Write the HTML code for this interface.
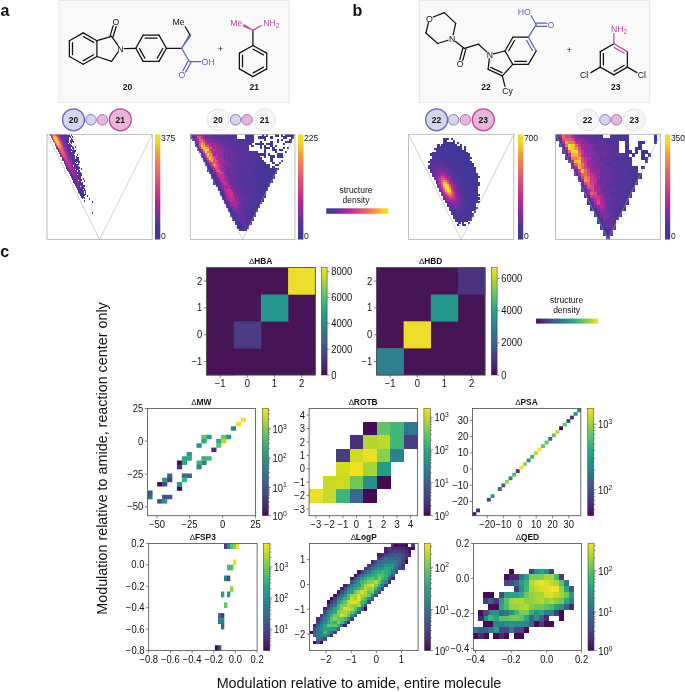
<!DOCTYPE html><html><head><meta charset="utf-8"><title>Figure</title>
<style>html,body{margin:0;padding:0;background:#fff}svg{display:block}text{font-family:'Liberation Sans', sans-serif}</style></head><body>
<svg width="685" height="692" viewBox="0 0 685 692">
<defs><linearGradient id="gpv" x1="0" y1="1" x2="0" y2="0"><stop offset="0.0" stop-color="#38389a"/><stop offset="0.07" stop-color="#473597"/><stop offset="0.14" stop-color="#5a329c"/><stop offset="0.23" stop-color="#7a2f9f"/><stop offset="0.33" stop-color="#a8289c"/><stop offset="0.4" stop-color="#c02c92"/><stop offset="0.5" stop-color="#d4457f"/><stop offset="0.587" stop-color="#de5a75"/><stop offset="0.67" stop-color="#e96f5c"/><stop offset="0.75" stop-color="#f28a48"/><stop offset="0.834" stop-color="#f8a835"/><stop offset="0.916" stop-color="#f5d327"/><stop offset="1.0" stop-color="#e9e62a"/></linearGradient><linearGradient id="gph" x1="0" y1="0" x2="1" y2="0"><stop offset="0.0" stop-color="#38389a"/><stop offset="0.07" stop-color="#473597"/><stop offset="0.14" stop-color="#5a329c"/><stop offset="0.23" stop-color="#7a2f9f"/><stop offset="0.33" stop-color="#a8289c"/><stop offset="0.4" stop-color="#c02c92"/><stop offset="0.5" stop-color="#d4457f"/><stop offset="0.587" stop-color="#de5a75"/><stop offset="0.67" stop-color="#e96f5c"/><stop offset="0.75" stop-color="#f28a48"/><stop offset="0.834" stop-color="#f8a835"/><stop offset="0.916" stop-color="#f5d327"/><stop offset="1.0" stop-color="#e9e62a"/></linearGradient><linearGradient id="gvv" x1="0" y1="1" x2="0" y2="0"><stop offset="0.0" stop-color="#480957"/><stop offset="0.1" stop-color="#4b2a76"/><stop offset="0.2" stop-color="#454887"/><stop offset="0.3" stop-color="#3a618c"/><stop offset="0.4" stop-color="#2f788d"/><stop offset="0.5" stop-color="#27908b"/><stop offset="0.6" stop-color="#28a684"/><stop offset="0.7" stop-color="#48bb71"/><stop offset="0.8" stop-color="#7acc54"/><stop offset="0.9" stop-color="#b9d92b"/><stop offset="1.0" stop-color="#f6e12a"/></linearGradient><linearGradient id="gvh" x1="0" y1="0" x2="1" y2="0"><stop offset="0.0" stop-color="#480957"/><stop offset="0.1" stop-color="#4b2a76"/><stop offset="0.2" stop-color="#454887"/><stop offset="0.3" stop-color="#3a618c"/><stop offset="0.4" stop-color="#2f788d"/><stop offset="0.5" stop-color="#27908b"/><stop offset="0.6" stop-color="#28a684"/><stop offset="0.7" stop-color="#48bb71"/><stop offset="0.8" stop-color="#7acc54"/><stop offset="0.9" stop-color="#b9d92b"/><stop offset="1.0" stop-color="#f6e12a"/></linearGradient></defs>
<rect width="685" height="692" fill="#fff"/>
<text x="0.50" y="16.00" font-size="16" text-anchor="start" font-weight="bold" fill="#111" >a</text>
<text x="352.50" y="16.00" font-size="16" text-anchor="start" font-weight="bold" fill="#111" >b</text>
<text x="0.20" y="256.50" font-size="16" text-anchor="start" font-weight="bold" fill="#111" >c</text>
<rect x="59.1" y="0.4" width="230.2" height="101.9" fill="#f9f9f9" stroke="#e8e8e8" stroke-width="1.1"/>
<rect x="419.3" y="0.4" width="230.5" height="101.9" fill="#f9f9f9" stroke="#e8e8e8" stroke-width="1.1"/>
<line x1="83.20" y1="32.90" x2="96.90" y2="40.70" stroke="#111111" stroke-width="1.25" stroke-linecap="round"/>
<line x1="83.40" y1="36.58" x2="93.63" y2="42.40" stroke="#111111" stroke-width="1.25" stroke-linecap="round"/>
<line x1="96.90" y1="40.70" x2="96.90" y2="56.50" stroke="#111111" stroke-width="1.25" stroke-linecap="round"/>
<line x1="96.90" y1="56.50" x2="83.20" y2="64.30" stroke="#111111" stroke-width="1.25" stroke-linecap="round"/>
<line x1="93.63" y1="54.80" x2="83.40" y2="60.62" stroke="#111111" stroke-width="1.25" stroke-linecap="round"/>
<line x1="83.20" y1="64.30" x2="69.40" y2="56.50" stroke="#111111" stroke-width="1.25" stroke-linecap="round"/>
<line x1="69.40" y1="56.50" x2="69.40" y2="40.70" stroke="#111111" stroke-width="1.25" stroke-linecap="round"/>
<line x1="72.50" y1="54.50" x2="72.50" y2="42.70" stroke="#111111" stroke-width="1.25" stroke-linecap="round"/>
<line x1="69.40" y1="40.70" x2="83.20" y2="32.90" stroke="#111111" stroke-width="1.25" stroke-linecap="round"/>
<line x1="96.90" y1="40.70" x2="111.60" y2="36.30" stroke="#111111" stroke-width="1.25" stroke-linecap="round"/>
<line x1="111.60" y1="36.30" x2="117.97" y2="45.27" stroke="#111111" stroke-width="1.25" stroke-linecap="round"/>
<line x1="118.01" y1="52.15" x2="111.60" y2="61.40" stroke="#111111" stroke-width="1.25" stroke-linecap="round"/>
<line x1="111.60" y1="61.40" x2="96.90" y2="56.50" stroke="#111111" stroke-width="1.25" stroke-linecap="round"/>
<line x1="110.12" y1="35.85" x2="113.19" y2="25.66" stroke="#111111" stroke-width="1.25" stroke-linecap="round"/>
<line x1="113.08" y1="36.75" x2="116.16" y2="26.55" stroke="#111111" stroke-width="1.25" stroke-linecap="round"/>
<text x="116.00" y="24.70" font-size="8.7" text-anchor="middle" fill="#111111">O</text>
<text x="120.40" y="51.70" font-size="8.7" text-anchor="middle" fill="#111111">N</text>
<line x1="124.30" y1="48.60" x2="135.80" y2="48.30" stroke="#111111" stroke-width="1.25" stroke-linecap="round"/>
<line x1="135.80" y1="48.30" x2="143.10" y2="35.10" stroke="#111111" stroke-width="1.25" stroke-linecap="round"/>
<line x1="143.10" y1="35.10" x2="159.00" y2="35.10" stroke="#111111" stroke-width="1.25" stroke-linecap="round"/>
<line x1="145.10" y1="38.20" x2="157.00" y2="38.20" stroke="#111111" stroke-width="1.25" stroke-linecap="round"/>
<line x1="159.00" y1="35.10" x2="166.40" y2="48.30" stroke="#111111" stroke-width="1.25" stroke-linecap="round"/>
<line x1="166.40" y1="48.30" x2="159.00" y2="61.40" stroke="#111111" stroke-width="1.25" stroke-linecap="round"/>
<line x1="162.72" y1="48.52" x2="157.28" y2="58.13" stroke="#111111" stroke-width="1.25" stroke-linecap="round"/>
<line x1="159.00" y1="61.40" x2="143.10" y2="61.40" stroke="#111111" stroke-width="1.25" stroke-linecap="round"/>
<line x1="143.10" y1="61.40" x2="135.80" y2="48.30" stroke="#111111" stroke-width="1.25" stroke-linecap="round"/>
<line x1="144.83" y1="58.14" x2="139.48" y2="48.54" stroke="#111111" stroke-width="1.25" stroke-linecap="round"/>
<line x1="166.40" y1="48.30" x2="181.60" y2="48.30" stroke="#111111" stroke-width="1.25" stroke-linecap="round"/>
<polygon points="181.26,48.08 181.94,48.52 191.11,35.75 189.09,34.45" fill="#5d61b7" stroke="#5d61b7" stroke-width="0.3" stroke-linejoin="round"/>
<line x1="190.10" y1="35.10" x2="185.20" y2="26.70" stroke="#111111" stroke-width="1.25" stroke-linecap="round"/>
<text x="178.60" y="25.20" font-size="8.7" text-anchor="middle" fill="#111111">Me</text>
<line x1="181.60" y1="48.30" x2="189.60" y2="61.70" stroke="#5d61b7" stroke-width="1.25" stroke-linecap="round"/>
<line x1="190.96" y1="62.45" x2="185.59" y2="72.13" stroke="#5d61b7" stroke-width="1.25" stroke-linecap="round"/>
<line x1="188.24" y1="60.95" x2="182.88" y2="70.63" stroke="#5d61b7" stroke-width="1.25" stroke-linecap="round"/>
<line x1="189.60" y1="61.70" x2="200.70" y2="61.70" stroke="#5d61b7" stroke-width="1.25" stroke-linecap="round"/>
<text x="182.00" y="78.40" font-size="8.7" text-anchor="middle" fill="#5d61b7">O</text>
<text x="201.60" y="64.80" font-size="8.7" text-anchor="start" fill="#5d61b7">OH</text>
<text x="127.40" y="89.50" font-size="8.5" text-anchor="middle" font-weight="bold" fill="#111" >20</text>
<text x="220.40" y="52.30" font-size="8.5" text-anchor="middle" font-weight="normal" fill="#111" >+</text>
<line x1="252.90" y1="45.50" x2="266.70" y2="53.10" stroke="#111111" stroke-width="1.25" stroke-linecap="round"/>
<line x1="253.16" y1="49.18" x2="263.45" y2="54.85" stroke="#111111" stroke-width="1.25" stroke-linecap="round"/>
<line x1="266.70" y1="53.10" x2="266.70" y2="68.90" stroke="#111111" stroke-width="1.25" stroke-linecap="round"/>
<line x1="266.70" y1="68.90" x2="252.90" y2="76.60" stroke="#111111" stroke-width="1.25" stroke-linecap="round"/>
<line x1="263.44" y1="67.17" x2="253.14" y2="72.92" stroke="#111111" stroke-width="1.25" stroke-linecap="round"/>
<line x1="252.90" y1="76.60" x2="239.40" y2="68.90" stroke="#111111" stroke-width="1.25" stroke-linecap="round"/>
<line x1="239.40" y1="68.90" x2="239.40" y2="53.10" stroke="#111111" stroke-width="1.25" stroke-linecap="round"/>
<line x1="242.50" y1="66.90" x2="242.50" y2="55.10" stroke="#111111" stroke-width="1.25" stroke-linecap="round"/>
<line x1="239.40" y1="53.10" x2="252.90" y2="45.50" stroke="#111111" stroke-width="1.25" stroke-linecap="round"/>
<line x1="252.90" y1="45.50" x2="252.90" y2="30.40" stroke="#111111" stroke-width="1.25" stroke-linecap="round"/>
<line x1="252.90" y1="30.40" x2="261.20" y2="25.50" stroke="#b84aa2" stroke-width="1.25" stroke-linecap="round"/>
<polygon points="252.71,30.75 253.09,30.05 244.08,24.15 242.92,26.25" fill="#b84aa2" stroke="#b84aa2" stroke-width="0.3" stroke-linejoin="round"/>
<text x="263.30" y="26.00" font-size="8.7" text-anchor="start" fill="#b84aa2">NH<tspan dy="1.9" font-size="6.61">2</tspan></text>
<text x="242.30" y="26.00" font-size="8.7" text-anchor="end" fill="#b84aa2">Me</text>
<text x="254.30" y="89.90" font-size="8.5" text-anchor="middle" font-weight="bold" fill="#111" >21</text>
<line x1="433.22" y1="17.02" x2="444.30" y2="12.60" stroke="#111111" stroke-width="1.25" stroke-linecap="round"/>
<line x1="444.30" y1="12.60" x2="455.70" y2="23.40" stroke="#111111" stroke-width="1.25" stroke-linecap="round"/>
<line x1="455.70" y1="23.40" x2="453.13" y2="34.80" stroke="#111111" stroke-width="1.25" stroke-linecap="round"/>
<line x1="448.01" y1="40.23" x2="437.70" y2="43.50" stroke="#111111" stroke-width="1.25" stroke-linecap="round"/>
<line x1="437.70" y1="43.50" x2="425.90" y2="33.00" stroke="#111111" stroke-width="1.25" stroke-linecap="round"/>
<line x1="425.90" y1="33.00" x2="428.46" y2="22.67" stroke="#111111" stroke-width="1.25" stroke-linecap="round"/>
<text x="429.50" y="21.50" font-size="8.7" text-anchor="middle" fill="#111111">O</text>
<text x="452.20" y="41.90" font-size="8.7" text-anchor="middle" fill="#111111">N</text>
<line x1="455.51" y1="41.48" x2="464.40" y2="48.40" stroke="#111111" stroke-width="1.25" stroke-linecap="round"/>
<line x1="465.90" y1="48.80" x2="462.79" y2="60.36" stroke="#111111" stroke-width="1.25" stroke-linecap="round"/>
<line x1="462.90" y1="48.00" x2="459.80" y2="59.56" stroke="#111111" stroke-width="1.25" stroke-linecap="round"/>
<line x1="464.40" y1="48.40" x2="478.50" y2="44.20" stroke="#111111" stroke-width="1.25" stroke-linecap="round"/>
<line x1="478.50" y1="44.20" x2="486.72" y2="51.84" stroke="#111111" stroke-width="1.25" stroke-linecap="round"/>
<text x="460.10" y="67.40" font-size="8.7" text-anchor="middle" fill="#111111">O</text>
<text x="489.80" y="57.70" font-size="8.7" text-anchor="middle" fill="#111111">N</text>
<line x1="493.49" y1="53.80" x2="505.00" y2="51.00" stroke="#111111" stroke-width="1.25" stroke-linecap="round"/>
<line x1="505.00" y1="51.00" x2="512.80" y2="37.20" stroke="#111111" stroke-width="1.25" stroke-linecap="round"/>
<line x1="508.68" y1="50.78" x2="514.51" y2="40.47" stroke="#111111" stroke-width="1.25" stroke-linecap="round"/>
<line x1="512.80" y1="37.20" x2="528.40" y2="37.20" stroke="#111111" stroke-width="1.25" stroke-linecap="round"/>
<line x1="528.40" y1="37.20" x2="536.20" y2="51.00" stroke="#5d61b7" stroke-width="1.25" stroke-linecap="round"/>
<line x1="526.69" y1="40.47" x2="532.52" y2="50.78" stroke="#5d61b7" stroke-width="1.25" stroke-linecap="round"/>
<line x1="536.20" y1="51.00" x2="528.40" y2="64.40" stroke="#111111" stroke-width="1.25" stroke-linecap="round"/>
<line x1="528.40" y1="64.40" x2="512.80" y2="64.40" stroke="#111111" stroke-width="1.25" stroke-linecap="round"/>
<line x1="526.40" y1="61.30" x2="514.80" y2="61.30" stroke="#111111" stroke-width="1.25" stroke-linecap="round"/>
<line x1="512.80" y1="64.40" x2="505.00" y2="51.00" stroke="#111111" stroke-width="1.25" stroke-linecap="round"/>
<line x1="512.80" y1="64.40" x2="502.30" y2="75.90" stroke="#111111" stroke-width="1.25" stroke-linecap="round"/>
<line x1="502.30" y1="75.90" x2="488.10" y2="69.40" stroke="#111111" stroke-width="1.25" stroke-linecap="round"/>
<line x1="502.05" y1="72.60" x2="490.76" y2="67.43" stroke="#111111" stroke-width="1.25" stroke-linecap="round"/>
<line x1="488.10" y1="69.40" x2="489.34" y2="58.67" stroke="#111111" stroke-width="1.25" stroke-linecap="round"/>
<line x1="502.30" y1="75.90" x2="505.00" y2="86.30" stroke="#111111" stroke-width="1.25" stroke-linecap="round"/>
<text x="507.60" y="94.30" font-size="8.7" text-anchor="middle" fill="#111111">Cy</text>
<line x1="528.40" y1="37.20" x2="536.20" y2="24.70" stroke="#5d61b7" stroke-width="1.25" stroke-linecap="round"/>
<line x1="536.20" y1="23.10" x2="546.80" y2="23.10" stroke="#5d61b7" stroke-width="1.25" stroke-linecap="round"/>
<line x1="536.20" y1="26.30" x2="546.80" y2="26.30" stroke="#5d61b7" stroke-width="1.25" stroke-linecap="round"/>
<line x1="536.20" y1="24.70" x2="531.20" y2="15.70" stroke="#5d61b7" stroke-width="1.25" stroke-linecap="round"/>
<text x="551.00" y="27.70" font-size="8.7" text-anchor="middle" fill="#5d61b7">O</text>
<text x="530.80" y="14.60" font-size="8.7" text-anchor="end" fill="#5d61b7">HO</text>
<text x="486.10" y="90.10" font-size="8.5" text-anchor="middle" font-weight="bold" fill="#111" >22</text>
<text x="569.20" y="53.20" font-size="8.5" text-anchor="middle" font-weight="normal" fill="#111" >+</text>
<line x1="627.40" y1="51.60" x2="627.40" y2="67.10" stroke="#111111" stroke-width="1.25" stroke-linecap="round"/>
<line x1="627.40" y1="67.10" x2="613.90" y2="74.90" stroke="#111111" stroke-width="1.25" stroke-linecap="round"/>
<line x1="624.12" y1="65.42" x2="614.08" y2="71.22" stroke="#111111" stroke-width="1.25" stroke-linecap="round"/>
<line x1="613.90" y1="74.90" x2="600.30" y2="67.10" stroke="#111111" stroke-width="1.25" stroke-linecap="round"/>
<line x1="600.30" y1="67.10" x2="600.30" y2="51.60" stroke="#111111" stroke-width="1.25" stroke-linecap="round"/>
<line x1="603.40" y1="65.10" x2="603.40" y2="53.60" stroke="#111111" stroke-width="1.25" stroke-linecap="round"/>
<line x1="600.30" y1="51.60" x2="613.90" y2="43.80" stroke="#111111" stroke-width="1.25" stroke-linecap="round"/>
<line x1="613.90" y1="43.80" x2="627.40" y2="51.60" stroke="#b84aa2" stroke-width="1.25" stroke-linecap="round"/>
<line x1="614.08" y1="47.48" x2="624.12" y2="53.28" stroke="#b84aa2" stroke-width="1.25" stroke-linecap="round"/>
<line x1="613.90" y1="43.80" x2="613.90" y2="33.60" stroke="#b84aa2" stroke-width="1.25" stroke-linecap="round"/>
<text x="611.00" y="31.90" font-size="8.7" text-anchor="start" fill="#b84aa2">NH<tspan dy="1.9" font-size="6.61">2</tspan></text>
<line x1="600.30" y1="67.10" x2="590.90" y2="72.60" stroke="#111111" stroke-width="1.25" stroke-linecap="round"/>
<line x1="627.40" y1="67.10" x2="636.90" y2="72.60" stroke="#111111" stroke-width="1.25" stroke-linecap="round"/>
<text x="588.30" y="77.90" font-size="8.7" text-anchor="end" fill="#111111">Cl</text>
<text x="637.80" y="77.90" font-size="8.7" text-anchor="start" fill="#111111">Cl</text>
<text x="615.80" y="90.10" font-size="8.5" text-anchor="middle" font-weight="bold" fill="#111" >23</text>
<circle cx="73.5" cy="119.8" r="11" fill="#d6d5eb" stroke="#686bbf" stroke-width="1.3"/>
<circle cx="120.3" cy="119.8" r="11" fill="#e6b7d8" stroke="#c04aa4" stroke-width="1.3"/>
<circle cx="91" cy="119.8" r="5.3" fill="#d6d5eb" stroke="#7275c3" stroke-width="0.9"/>
<circle cx="102.4" cy="119.8" r="5.3" fill="#e6b7d8" stroke="#c659ab" stroke-width="0.9"/>
<text x="73.50" y="122.90" font-size="8.5" text-anchor="middle" font-weight="bold" fill="#111" >20</text>
<text x="120.30" y="122.90" font-size="8.5" text-anchor="middle" font-weight="bold" fill="#111" >21</text>
<circle cx="218" cy="119.8" r="11" fill="#f6f6f6" stroke="#e6e6e6" stroke-width="1"/>
<circle cx="264.6" cy="119.8" r="11" fill="#f6f6f6" stroke="#e6e6e6" stroke-width="1"/>
<circle cx="235.6" cy="119.8" r="5.3" fill="#d6d5eb" stroke="#7275c3" stroke-width="0.9"/>
<circle cx="247" cy="119.8" r="5.3" fill="#e6b7d8" stroke="#c659ab" stroke-width="0.9"/>
<text x="218.00" y="122.90" font-size="8.5" text-anchor="middle" font-weight="bold" fill="#111" >20</text>
<text x="264.60" y="122.90" font-size="8.5" text-anchor="middle" font-weight="bold" fill="#111" >21</text>
<circle cx="436.6" cy="119.8" r="11" fill="#d6d5eb" stroke="#686bbf" stroke-width="1.3"/>
<circle cx="483.3" cy="119.8" r="11" fill="#e6b7d8" stroke="#c04aa4" stroke-width="1.3"/>
<circle cx="453.5" cy="119.8" r="5.3" fill="#d6d5eb" stroke="#7275c3" stroke-width="0.9"/>
<circle cx="465.4" cy="119.8" r="5.3" fill="#e6b7d8" stroke="#c659ab" stroke-width="0.9"/>
<text x="436.60" y="122.90" font-size="8.5" text-anchor="middle" font-weight="bold" fill="#111" >22</text>
<text x="483.30" y="122.90" font-size="8.5" text-anchor="middle" font-weight="bold" fill="#111" >23</text>
<circle cx="587.6" cy="119.8" r="11" fill="#f6f6f6" stroke="#e6e6e6" stroke-width="1"/>
<circle cx="634.3" cy="119.8" r="11" fill="#f6f6f6" stroke="#e6e6e6" stroke-width="1"/>
<circle cx="605" cy="119.8" r="5.3" fill="#d6d5eb" stroke="#7275c3" stroke-width="0.9"/>
<circle cx="616.4" cy="119.8" r="5.3" fill="#e6b7d8" stroke="#c659ab" stroke-width="0.9"/>
<text x="587.60" y="122.90" font-size="8.5" text-anchor="middle" font-weight="bold" fill="#111" >22</text>
<text x="634.30" y="122.90" font-size="8.5" text-anchor="middle" font-weight="bold" fill="#111" >23</text>
<g shape-rendering="crispEdges"><path fill="#8b2c9e" d="M50.1 134.3h1.2v1.2h-1.2zM60.1 136.3h1.2v1.2h-1.2zM61.1 138.3h1.2v1.2h-1.2zM62.1 140.3h1.2v1.2h-1.2zM63.1 142.3h1.2v1.2h-1.2zM64.1 144.3h1.2v1.2h-1.2zM56.1 146.3h1.2v1.2h-1.2zM65.1 148.3h1.2v1.2h-1.2zM66.1 150.3h1.2v1.2h-1.2zM67.1 152.3h1.2v1.2h-1.2zM63.1 158.3h1.2v1.2h-1.2zM69.1 158.3h1.2v1.2h-1.2zM64.1 160.3h1.2v1.2h-1.2zM70.1 160.3h1.2v1.2h-1.2zM71.1 162.3h1.2v1.2h-1.2zM69.1 168.3h1.2v1.2h-1.2zM73.1 168.3h1.2v1.2h-1.2zM70.1 170.3h1.2v1.2h-1.2zM74.1 170.3h1.2v1.2h-1.2zM74.1 172.3h1.2v1.2h-1.2zM73.1 174.3h1.2v1.2h-1.2zM75.1 174.3h1.2v1.2h-1.2zM74.1 176.3h2.2v1.2h-2.2z"/><path fill="#cd3d85" d="M51.1 134.3h1.2v1.2h-1.2zM61.1 142.3h1.2v1.2h-1.2zM63.1 148.3h1.2v1.2h-1.2zM63.1 156.3h1.2v1.2h-1.2zM66.1 156.3h1.2v1.2h-1.2zM66.1 158.3h1.2v1.2h-1.2zM66.1 160.3h1.2v1.2h-1.2z"/><path fill="#e46667" d="M52.1 134.3h1.2v1.2h-1.2zM58.1 138.3h1.2v1.2h-1.2zM54.1 140.3h1.2v1.2h-1.2zM59.1 140.3h1.2v1.2h-1.2zM61.1 146.3h1.2v1.2h-1.2zM62.1 150.3h1.2v1.2h-1.2zM62.1 152.3h1.2v1.2h-1.2z"/><path fill="#e96e5d" d="M53.1 134.3h1.2v1.2h-1.2zM53.1 138.3h1.2v1.2h-1.2zM61.1 148.3h1.2v1.2h-1.2zM61.1 150.3h1.2v1.2h-1.2z"/><path fill="#e05d71" d="M54.1 134.3h1.2v1.2h-1.2zM52.1 136.3h1.2v1.2h-1.2zM55.1 142.3h1.2v1.2h-1.2zM60.1 142.3h1.2v1.2h-1.2zM59.1 148.3h1.2v1.2h-1.2zM63.1 152.3h1.2v1.2h-1.2z"/><path fill="#d84d7b" d="M55.1 134.3h1.2v1.2h-1.2zM56.1 144.3h1.2v1.2h-1.2zM62.1 146.3h1.2v1.2h-1.2zM63.1 150.3h1.2v1.2h-1.2zM61.1 152.3h1.2v1.2h-1.2zM64.1 152.3h1.2v1.2h-1.2zM64.1 156.3h2.2v1.2h-2.2z"/><path fill="#c7348c" d="M56.1 134.3h1.2v1.2h-1.2zM58.1 136.3h1.2v1.2h-1.2zM62.1 144.3h1.2v1.2h-1.2zM58.1 148.3h1.2v1.2h-1.2zM64.1 150.3h1.2v1.2h-1.2zM65.1 152.3h1.2v1.2h-1.2zM67.1 158.3h1.2v1.2h-1.2zM67.1 160.3h1.2v1.2h-1.2zM67.1 162.3h2.2v1.2h-2.2z"/><path fill="#a9289c" d="M57.1 134.3h1.2v1.2h-1.2zM59.1 136.3h1.2v1.2h-1.2zM63.1 144.3h1.2v1.2h-1.2zM66.1 152.3h1.2v1.2h-1.2zM61.1 154.3h1.2v1.2h-1.2zM69.1 160.3h1.2v1.2h-1.2zM67.1 164.3h1.2v1.2h-1.2zM71.1 166.3h1.2v1.2h-1.2zM72.1 168.3h1.2v1.2h-1.2zM71.1 170.3h2.2v1.2h-2.2z"/><path fill="#7c2f9f" d="M58.1 134.3h1.2v1.2h-1.2zM62.1 138.3h1.2v1.2h-1.2zM63.1 140.3h1.2v1.2h-1.2zM65.1 146.3h1.2v1.2h-1.2zM57.1 148.3h1.2v1.2h-1.2zM58.1 150.3h1.2v1.2h-1.2zM68.1 154.3h1.2v1.2h-1.2zM69.1 156.3h1.2v1.2h-1.2zM65.1 162.3h1.2v1.2h-1.2zM66.1 164.3h1.2v1.2h-1.2zM72.1 164.3h1.2v1.2h-1.2zM71.1 172.3h1.2v1.2h-1.2zM75.1 172.3h1.2v1.2h-1.2zM76.1 174.3h1.2v1.2h-1.2zM76.1 176.3h1.2v1.2h-1.2zM75.1 178.3h3.2v1.2h-3.2zM76.1 180.3h2.2v1.2h-2.2z"/><path fill="#6f309e" d="M59.1 134.3h1.2v1.2h-1.2zM61.1 136.3h1.2v1.2h-1.2zM63.1 138.3h1.2v1.2h-1.2zM64.1 140.3h1.2v1.2h-1.2zM64.1 142.3h1.2v1.2h-1.2zM65.1 144.3h1.2v1.2h-1.2zM66.1 146.3h1.2v1.2h-1.2zM66.1 148.3h1.2v1.2h-1.2zM67.1 150.3h1.2v1.2h-1.2zM59.1 152.3h1.2v1.2h-1.2zM68.1 152.3h1.2v1.2h-1.2zM60.1 154.3h1.2v1.2h-1.2zM69.1 154.3h1.2v1.2h-1.2zM70.1 158.3h1.2v1.2h-1.2zM71.1 160.3h1.2v1.2h-1.2zM72.1 162.3h1.2v1.2h-1.2zM67.1 166.3h1.2v1.2h-1.2zM68.1 168.3h1.2v1.2h-1.2zM74.1 168.3h1.2v1.2h-1.2zM75.1 170.3h1.2v1.2h-1.2zM76.1 172.3h1.2v1.2h-1.2zM72.1 174.3h1.2v1.2h-1.2zM73.1 176.3h1.2v1.2h-1.2zM78.1 178.3h1.2v1.2h-1.2zM77.1 182.3h3.2v1.2h-3.2zM78.1 184.3h3.2v1.2h-3.2z"/><path fill="#63319d" d="M60.1 134.3h1.2v1.2h-1.2zM62.1 136.3h1.2v1.2h-1.2zM64.1 138.3h1.2v1.2h-1.2zM65.1 140.3h1.2v1.2h-1.2zM65.1 142.3h2.2v1.2h-2.2zM66.1 144.3h1.2v1.2h-1.2zM67.1 146.3h1.2v1.2h-1.2zM67.1 148.3h1.2v1.2h-1.2zM68.1 150.3h1.2v1.2h-1.2zM69.1 152.3h1.2v1.2h-1.2zM70.1 156.3h1.2v1.2h-1.2zM71.1 158.3h1.2v1.2h-1.2zM72.1 160.3h1.2v1.2h-1.2zM69.1 170.3h1.2v1.2h-1.2zM76.1 170.3h1.2v1.2h-1.2zM70.1 172.3h1.2v1.2h-1.2zM78.1 176.3h1.2v1.2h-1.2zM74.1 178.3h1.2v1.2h-1.2zM79.1 178.3h1.2v1.2h-1.2zM75.1 180.3h1.2v1.2h-1.2zM79.1 180.3h1.2v1.2h-1.2zM76.1 182.3h1.2v1.2h-1.2zM80.1 182.3h1.2v1.2h-1.2zM81.1 184.3h1.2v1.2h-1.2zM79.1 186.3h1.2v1.2h-1.2zM81.1 186.3h1.2v1.2h-1.2zM80.1 188.4h3.2v1.2h-3.2z"/><path fill="#58329c" d="M61.1 134.3h1.2v1.2h-1.2zM63.1 136.3h2.2v1.2h-2.2zM65.1 138.3h3.2v1.2h-3.2zM66.1 140.3h3.2v1.2h-3.2zM67.1 142.3h1.2v1.2h-1.2zM67.1 144.3h2.2v1.2h-2.2zM68.1 146.3h2.2v1.2h-2.2zM68.1 148.3h2.2v1.2h-2.2zM70.1 152.3h1.2v1.2h-1.2zM70.1 154.3h2.2v1.2h-2.2zM71.1 156.3h1.2v1.2h-1.2zM64.1 162.3h1.2v1.2h-1.2zM73.1 162.3h1.2v1.2h-1.2zM65.1 164.3h1.2v1.2h-1.2zM74.1 164.3h1.2v1.2h-1.2zM75.1 166.3h1.2v1.2h-1.2zM76.1 168.3h1.2v1.2h-1.2zM77.1 172.3h1.2v1.2h-1.2zM71.1 174.3h1.2v1.2h-1.2zM72.1 176.3h1.2v1.2h-1.2zM79.1 176.3h1.2v1.2h-1.2zM73.1 178.3h1.2v1.2h-1.2zM80.1 178.3h1.2v1.2h-1.2zM80.1 180.3h1.2v1.2h-1.2zM81.1 182.3h1.2v1.2h-1.2zM77.1 184.3h1.2v1.2h-1.2zM82.1 184.3h1.2v1.2h-1.2zM78.1 186.3h1.2v1.2h-1.2zM79.1 188.4h1.2v1.2h-1.2zM81.1 190.4h1.2v1.2h-1.2zM83.1 190.4h1.2v1.2h-1.2zM82.1 192.4h2.2v1.2h-2.2zM84.1 194.4h1.2v1.2h-1.2z"/><path fill="#4f3499" d="M63.1 134.3h3.2v1.2h-3.2zM66.1 136.3h3.2v1.2h-3.2zM68.1 138.3h1.2v1.2h-1.2zM71.1 138.3h1.2v1.2h-1.2zM70.1 140.3h3.2v1.2h-3.2zM71.1 142.3h1.2v1.2h-1.2zM70.1 144.3h1.2v1.2h-1.2zM70.1 146.3h1.2v1.2h-1.2zM72.1 146.3h1.2v1.2h-1.2zM73.1 148.3h1.2v1.2h-1.2zM70.1 150.3h1.2v1.2h-1.2zM72.1 150.3h2.2v1.2h-2.2zM71.1 152.3h4.2v1.2h-4.2zM72.1 154.3h1.2v1.2h-1.2zM72.1 156.3h1.2v1.2h-1.2zM74.1 156.3h1.2v1.2h-1.2zM73.1 158.3h1.2v1.2h-1.2zM74.1 160.3h2.2v1.2h-2.2zM76.1 164.3h1.2v1.2h-1.2zM66.1 166.3h1.2v1.2h-1.2zM76.1 166.3h2.2v1.2h-2.2zM67.1 168.3h1.2v1.2h-1.2zM77.1 168.3h1.2v1.2h-1.2zM68.1 170.3h1.2v1.2h-1.2zM78.1 170.3h1.2v1.2h-1.2zM69.1 172.3h1.2v1.2h-1.2zM78.1 172.3h2.2v1.2h-2.2zM79.1 174.3h2.2v1.2h-2.2zM74.1 180.3h1.2v1.2h-1.2zM75.1 182.3h1.2v1.2h-1.2zM82.1 182.3h1.2v1.2h-1.2zM76.1 184.3h1.2v1.2h-1.2zM84.1 188.4h1.2v1.2h-1.2zM80.1 190.4h1.2v1.2h-1.2zM85.1 190.4h1.2v1.2h-1.2zM81.1 192.4h1.2v1.2h-1.2zM85.1 192.4h1.2v1.2h-1.2zM83.1 194.4h1.2v1.2h-1.2z"/><path fill="#463597" d="M66.1 134.3h1.2v1.2h-1.2zM69.1 134.3h1.2v1.2h-1.2zM71.1 134.3h1.2v1.2h-1.2zM70.1 136.3h1.2v1.2h-1.2zM72.1 136.3h1.2v1.2h-1.2zM75.1 146.3h1.2v1.2h-1.2zM74.1 150.3h2.2v1.2h-2.2zM77.1 154.3h1.2v1.2h-1.2zM76.1 156.3h1.2v1.2h-1.2zM76.1 158.3h2.2v1.2h-2.2zM76.1 160.3h2.2v1.2h-2.2zM77.1 164.3h1.2v1.2h-1.2zM78.1 166.3h1.2v1.2h-1.2zM81.1 168.3h1.2v1.2h-1.2zM79.1 170.3h1.2v1.2h-1.2zM80.1 172.3h1.2v1.2h-1.2zM70.1 174.3h1.2v1.2h-1.2zM81.1 174.3h1.2v1.2h-1.2zM71.1 176.3h1.2v1.2h-1.2zM72.1 178.3h1.2v1.2h-1.2zM83.1 178.3h1.2v1.2h-1.2zM73.1 180.3h1.2v1.2h-1.2zM84.1 180.3h1.2v1.2h-1.2zM74.1 182.3h1.2v1.2h-1.2zM75.1 184.3h1.2v1.2h-1.2zM77.1 186.3h1.2v1.2h-1.2zM78.1 188.4h1.2v1.2h-1.2zM79.1 190.4h1.2v1.2h-1.2zM80.1 192.4h1.2v1.2h-1.2zM81.1 194.4h2.2v1.2h-2.2zM83.1 196.4h1.2v1.2h-1.2z"/><path fill="#c7348c" d="M51.1 135.3h1.2v1.2h-1.2zM57.1 135.3h1.2v1.2h-1.2zM60.1 139.3h1.2v1.2h-1.2zM61.1 141.3h1.2v1.2h-1.2zM55.1 143.3h1.2v1.2h-1.2zM63.1 147.3h1.2v1.2h-1.2zM61.1 153.3h1.2v1.2h-1.2zM66.1 155.3h1.2v1.2h-1.2zM65.1 159.3h1.2v1.2h-1.2zM67.1 159.3h1.2v1.2h-1.2zM68.1 163.3h1.2v1.2h-1.2z"/><path fill="#e46667" d="M52.1 135.3h1.2v1.2h-1.2zM57.1 145.3h1.2v1.2h-1.2zM62.1 151.3h1.2v1.2h-1.2z"/><path fill="#f39044" d="M53.1 135.3h2.2v1.2h-2.2zM53.1 137.3h1.2v1.2h-1.2zM55.1 141.3h1.2v1.2h-1.2z"/><path fill="#e96e5d" d="M55.1 135.3h1.2v1.2h-1.2zM60.1 143.3h1.2v1.2h-1.2zM61.1 147.3h1.2v1.2h-1.2zM60.1 149.3h2.2v1.2h-2.2z"/><path fill="#dc5577" d="M56.1 135.3h1.2v1.2h-1.2zM59.1 139.3h1.2v1.2h-1.2zM60.1 141.3h1.2v1.2h-1.2zM58.1 147.3h1.2v1.2h-1.2zM62.1 147.3h1.2v1.2h-1.2zM63.1 151.3h1.2v1.2h-1.2zM62.1 153.3h1.2v1.2h-1.2zM64.1 155.3h1.2v1.2h-1.2z"/><path fill="#a9289c" d="M58.1 135.3h1.2v1.2h-1.2zM61.1 139.3h1.2v1.2h-1.2zM64.1 147.3h1.2v1.2h-1.2zM67.1 155.3h1.2v1.2h-1.2zM68.1 157.3h1.2v1.2h-1.2zM64.1 159.3h1.2v1.2h-1.2zM70.1 163.3h1.2v1.2h-1.2zM71.1 165.3h1.2v1.2h-1.2zM69.1 167.3h1.2v1.2h-1.2zM72.1 169.3h1.2v1.2h-1.2zM72.1 171.3h1.2v1.2h-1.2z"/><path fill="#8b2c9e" d="M59.1 135.3h1.2v1.2h-1.2zM62.1 139.3h1.2v1.2h-1.2zM64.1 145.3h1.2v1.2h-1.2zM65.1 147.3h1.2v1.2h-1.2zM60.1 153.3h1.2v1.2h-1.2zM68.1 155.3h1.2v1.2h-1.2zM69.1 157.3h1.2v1.2h-1.2zM71.1 163.3h1.2v1.2h-1.2zM67.1 165.3h1.2v1.2h-1.2zM72.1 165.3h1.2v1.2h-1.2zM74.1 171.3h1.2v1.2h-1.2zM72.1 173.3h1.2v1.2h-1.2zM74.1 175.3h2.2v1.2h-2.2zM75.1 177.3h1.2v1.2h-1.2z"/><path fill="#6f309e" d="M60.1 135.3h1.2v1.2h-1.2zM62.1 137.3h1.2v1.2h-1.2zM63.1 139.3h1.2v1.2h-1.2zM64.1 141.3h1.2v1.2h-1.2zM65.1 143.3h1.2v1.2h-1.2zM66.1 147.3h1.2v1.2h-1.2zM67.1 149.3h1.2v1.2h-1.2zM68.1 153.3h1.2v1.2h-1.2zM69.1 155.3h1.2v1.2h-1.2zM63.1 159.3h1.2v1.2h-1.2zM64.1 161.3h1.2v1.2h-1.2zM74.1 167.3h1.2v1.2h-1.2zM70.1 171.3h1.2v1.2h-1.2zM71.1 173.3h1.2v1.2h-1.2zM76.1 173.3h1.2v1.2h-1.2zM77.1 175.3h1.2v1.2h-1.2zM77.1 177.3h1.2v1.2h-1.2zM75.1 179.3h1.2v1.2h-1.2zM76.1 181.3h1.2v1.2h-1.2zM78.1 181.3h2.2v1.2h-2.2zM78.1 183.3h2.2v1.2h-2.2zM79.1 185.3h1.2v1.2h-1.2z"/><path fill="#63319d" d="M61.1 135.3h1.2v1.2h-1.2zM64.1 139.3h2.2v1.2h-2.2zM66.1 143.3h1.2v1.2h-1.2zM66.1 145.3h1.2v1.2h-1.2zM56.1 147.3h1.2v1.2h-1.2zM67.1 147.3h1.2v1.2h-1.2zM69.1 153.3h1.2v1.2h-1.2zM70.1 155.3h1.2v1.2h-1.2zM71.1 157.3h1.2v1.2h-1.2zM72.1 161.3h1.2v1.2h-1.2zM65.1 163.3h1.2v1.2h-1.2zM73.1 163.3h1.2v1.2h-1.2zM66.1 165.3h1.2v1.2h-1.2zM74.1 165.3h1.2v1.2h-1.2zM75.1 167.3h1.2v1.2h-1.2zM76.1 171.3h1.2v1.2h-1.2zM72.1 175.3h1.2v1.2h-1.2zM78.1 175.3h1.2v1.2h-1.2zM73.1 177.3h1.2v1.2h-1.2zM78.1 177.3h1.2v1.2h-1.2zM79.1 179.3h1.2v1.2h-1.2zM80.1 181.3h1.2v1.2h-1.2zM77.1 183.3h1.2v1.2h-1.2zM81.1 183.3h1.2v1.2h-1.2zM78.1 185.3h1.2v1.2h-1.2zM80.1 187.4h1.2v1.2h-1.2zM82.1 187.4h1.2v1.2h-1.2zM82.1 189.4h1.2v1.2h-1.2z"/><path fill="#58329c" d="M62.1 135.3h2.2v1.2h-2.2zM64.1 137.3h2.2v1.2h-2.2zM66.1 139.3h3.2v1.2h-3.2zM66.1 141.3h3.2v1.2h-3.2zM69.1 143.3h1.2v1.2h-1.2zM67.1 145.3h3.2v1.2h-3.2zM68.1 147.3h2.2v1.2h-2.2zM68.1 149.3h2.2v1.2h-2.2zM69.1 151.3h2.2v1.2h-2.2zM70.1 153.3h1.2v1.2h-1.2zM60.1 155.3h1.2v1.2h-1.2zM71.1 155.3h1.2v1.2h-1.2zM72.1 157.3h1.2v1.2h-1.2zM72.1 159.3h1.2v1.2h-1.2zM73.1 161.3h1.2v1.2h-1.2zM74.1 163.3h1.2v1.2h-1.2zM75.1 165.3h1.2v1.2h-1.2zM67.1 167.3h1.2v1.2h-1.2zM76.1 167.3h1.2v1.2h-1.2zM68.1 169.3h1.2v1.2h-1.2zM76.1 169.3h1.2v1.2h-1.2zM69.1 171.3h1.2v1.2h-1.2zM78.1 173.3h1.2v1.2h-1.2zM79.1 177.3h1.2v1.2h-1.2zM74.1 179.3h1.2v1.2h-1.2zM75.1 181.3h1.2v1.2h-1.2zM76.1 183.3h1.2v1.2h-1.2zM82.1 185.3h1.2v1.2h-1.2zM79.1 187.4h1.2v1.2h-1.2zM83.1 187.4h1.2v1.2h-1.2zM80.1 189.4h1.2v1.2h-1.2zM84.1 189.4h1.2v1.2h-1.2zM82.1 191.4h2.2v1.2h-2.2z"/><path fill="#4f3499" d="M64.1 135.3h4.2v1.2h-4.2zM67.1 137.3h1.2v1.2h-1.2zM72.1 139.3h1.2v1.2h-1.2zM70.1 141.3h1.2v1.2h-1.2zM73.1 141.3h1.2v1.2h-1.2zM70.1 145.3h2.2v1.2h-2.2zM70.1 147.3h1.2v1.2h-1.2zM72.1 147.3h2.2v1.2h-2.2zM70.1 149.3h2.2v1.2h-2.2zM73.1 151.3h1.2v1.2h-1.2zM71.1 153.3h3.2v1.2h-3.2zM72.1 155.3h3.2v1.2h-3.2zM73.1 157.3h2.2v1.2h-2.2zM62.1 159.3h1.2v1.2h-1.2zM73.1 159.3h3.2v1.2h-3.2zM74.1 161.3h1.2v1.2h-1.2zM75.1 163.3h1.2v1.2h-1.2zM76.1 165.3h1.2v1.2h-1.2zM78.1 169.3h1.2v1.2h-1.2zM78.1 171.3h1.2v1.2h-1.2zM70.1 173.3h1.2v1.2h-1.2zM71.1 175.3h1.2v1.2h-1.2zM80.1 175.3h1.2v1.2h-1.2zM72.1 177.3h1.2v1.2h-1.2zM80.1 177.3h1.2v1.2h-1.2zM73.1 179.3h1.2v1.2h-1.2zM81.1 179.3h1.2v1.2h-1.2zM77.1 185.3h1.2v1.2h-1.2zM83.1 185.3h2.2v1.2h-2.2zM78.1 187.4h1.2v1.2h-1.2zM79.1 189.4h1.2v1.2h-1.2zM81.1 191.4h1.2v1.2h-1.2zM85.1 193.4h1.2v1.2h-1.2z"/><path fill="#463597" d="M68.1 135.3h2.2v1.2h-2.2zM76.1 157.3h3.2v1.2h-3.2zM76.1 159.3h1.2v1.2h-1.2zM78.1 159.3h1.2v1.2h-1.2zM76.1 161.3h1.2v1.2h-1.2zM78.1 161.3h2.2v1.2h-2.2zM78.1 163.3h1.2v1.2h-1.2zM66.1 167.3h1.2v1.2h-1.2zM78.1 167.3h2.2v1.2h-2.2zM67.1 169.3h1.2v1.2h-1.2zM81.1 173.3h1.2v1.2h-1.2zM74.1 181.3h1.2v1.2h-1.2zM75.1 183.3h1.2v1.2h-1.2zM76.1 185.3h1.2v1.2h-1.2zM77.1 187.4h1.2v1.2h-1.2zM78.1 189.4h1.2v1.2h-1.2zM79.1 191.4h2.2v1.2h-2.2zM81.1 193.4h1.2v1.2h-1.2zM82.1 195.4h1.2v1.2h-1.2z"/><path fill="#b52a97" d="M51.1 136.3h1.2v1.2h-1.2zM60.1 138.3h1.2v1.2h-1.2zM53.1 140.3h1.2v1.2h-1.2zM61.1 140.3h1.2v1.2h-1.2zM62.1 142.3h1.2v1.2h-1.2zM64.1 148.3h1.2v1.2h-1.2zM65.1 150.3h1.2v1.2h-1.2zM60.1 152.3h1.2v1.2h-1.2zM67.1 156.3h1.2v1.2h-1.2zM68.1 158.3h1.2v1.2h-1.2zM65.1 160.3h1.2v1.2h-1.2zM66.1 162.3h1.2v1.2h-1.2zM69.1 162.3h1.2v1.2h-1.2zM70.1 164.3h1.2v1.2h-1.2zM69.1 166.3h2.2v1.2h-2.2zM70.1 168.3h2.2v1.2h-2.2z"/><path fill="#f8a835" d="M53.1 136.3h1.2v1.2h-1.2zM55.1 136.3h1.2v1.2h-1.2zM56.1 142.3h1.2v1.2h-1.2z"/><path fill="#f6cb2a" d="M54.1 136.3h1.2v1.2h-1.2zM54.1 138.3h1.2v1.2h-1.2zM55.1 140.3h1.2v1.2h-1.2zM57.1 140.3h1.2v1.2h-1.2z"/><path fill="#ec7955" d="M56.1 136.3h1.2v1.2h-1.2zM60.1 144.3h1.2v1.2h-1.2zM58.1 146.3h1.2v1.2h-1.2zM60.1 148.3h1.2v1.2h-1.2z"/><path fill="#dc5577" d="M57.1 136.3h1.2v1.2h-1.2zM61.1 144.3h1.2v1.2h-1.2zM62.1 148.3h1.2v1.2h-1.2zM60.1 150.3h1.2v1.2h-1.2zM63.1 154.3h2.2v1.2h-2.2z"/><path fill="#d4457f" d="M52.1 137.3h1.2v1.2h-1.2zM53.1 139.3h1.2v1.2h-1.2zM62.1 145.3h1.2v1.2h-1.2zM59.1 149.3h1.2v1.2h-1.2zM63.1 149.3h1.2v1.2h-1.2zM64.1 151.3h1.2v1.2h-1.2zM65.1 155.3h1.2v1.2h-1.2zM64.1 157.3h1.2v1.2h-1.2z"/><path fill="#eede29" d="M54.1 137.3h1.2v1.2h-1.2zM56.1 139.3h1.2v1.2h-1.2z"/><path fill="#f3d728" d="M55.1 137.3h1.2v1.2h-1.2zM56.1 141.3h2.2v1.2h-2.2z"/><path fill="#f8a835" d="M56.1 137.3h1.2v1.2h-1.2zM58.1 141.3h1.2v1.2h-1.2z"/><path fill="#ec7955" d="M57.1 137.3h1.2v1.2h-1.2zM59.1 141.3h1.2v1.2h-1.2zM56.1 143.3h1.2v1.2h-1.2z"/><path fill="#d84d7b" d="M58.1 137.3h1.2v1.2h-1.2zM61.1 143.3h1.2v1.2h-1.2zM64.1 153.3h1.2v1.2h-1.2zM63.1 155.3h1.2v1.2h-1.2zM65.1 157.3h1.2v1.2h-1.2z"/><path fill="#c02c92" d="M59.1 137.3h1.2v1.2h-1.2zM62.1 143.3h1.2v1.2h-1.2zM56.1 145.3h1.2v1.2h-1.2zM64.1 149.3h1.2v1.2h-1.2zM65.1 151.3h1.2v1.2h-1.2zM62.1 155.3h1.2v1.2h-1.2zM67.1 157.3h1.2v1.2h-1.2zM66.1 161.3h1.2v1.2h-1.2zM68.1 161.3h1.2v1.2h-1.2zM67.1 163.3h1.2v1.2h-1.2zM69.1 163.3h1.2v1.2h-1.2zM69.1 165.3h1.2v1.2h-1.2z"/><path fill="#9a2a9d" d="M60.1 137.3h1.2v1.2h-1.2zM62.1 141.3h1.2v1.2h-1.2zM63.1 143.3h1.2v1.2h-1.2zM58.1 149.3h1.2v1.2h-1.2zM65.1 149.3h1.2v1.2h-1.2zM59.1 151.3h1.2v1.2h-1.2zM66.1 151.3h1.2v1.2h-1.2zM67.1 153.3h1.2v1.2h-1.2zM69.1 159.3h1.2v1.2h-1.2zM65.1 161.3h1.2v1.2h-1.2zM70.1 161.3h1.2v1.2h-1.2zM66.1 163.3h1.2v1.2h-1.2zM72.1 167.3h1.2v1.2h-1.2zM70.1 169.3h1.2v1.2h-1.2zM73.1 169.3h1.2v1.2h-1.2zM71.1 171.3h1.2v1.2h-1.2zM73.1 171.3h1.2v1.2h-1.2zM73.1 173.3h2.2v1.2h-2.2z"/><path fill="#7c2f9f" d="M61.1 137.3h1.2v1.2h-1.2zM63.1 141.3h1.2v1.2h-1.2zM64.1 143.3h1.2v1.2h-1.2zM65.1 145.3h1.2v1.2h-1.2zM66.1 149.3h1.2v1.2h-1.2zM67.1 151.3h1.2v1.2h-1.2zM61.1 155.3h1.2v1.2h-1.2zM62.1 157.3h1.2v1.2h-1.2zM70.1 159.3h1.2v1.2h-1.2zM71.1 161.3h1.2v1.2h-1.2zM68.1 167.3h1.2v1.2h-1.2zM73.1 167.3h1.2v1.2h-1.2zM69.1 169.3h1.2v1.2h-1.2zM74.1 169.3h1.2v1.2h-1.2zM75.1 171.3h1.2v1.2h-1.2zM75.1 173.3h1.2v1.2h-1.2zM73.1 175.3h1.2v1.2h-1.2zM76.1 175.3h1.2v1.2h-1.2zM74.1 177.3h1.2v1.2h-1.2zM76.1 177.3h1.2v1.2h-1.2zM76.1 179.3h2.2v1.2h-2.2zM77.1 181.3h1.2v1.2h-1.2z"/><path fill="#c02c92" d="M52.1 138.3h1.2v1.2h-1.2zM63.1 146.3h1.2v1.2h-1.2zM59.1 150.3h1.2v1.2h-1.2zM66.1 154.3h1.2v1.2h-1.2zM64.1 158.3h1.2v1.2h-1.2zM68.1 160.3h1.2v1.2h-1.2zM68.1 164.3h2.2v1.2h-2.2z"/><path fill="#e9e62a" d="M55.1 138.3h1.2v1.2h-1.2zM56.1 140.3h1.2v1.2h-1.2z"/><path fill="#f3d728" d="M56.1 138.3h1.2v1.2h-1.2zM57.1 142.3h1.2v1.2h-1.2z"/><path fill="#f69c3d" d="M57.1 138.3h1.2v1.2h-1.2zM58.1 140.3h1.2v1.2h-1.2zM59.1 144.3h1.2v1.2h-1.2zM59.1 146.3h1.2v1.2h-1.2z"/><path fill="#d4457f" d="M59.1 138.3h1.2v1.2h-1.2zM60.1 140.3h1.2v1.2h-1.2zM57.1 146.3h1.2v1.2h-1.2zM62.1 154.3h1.2v1.2h-1.2zM65.1 154.3h1.2v1.2h-1.2zM65.1 158.3h1.2v1.2h-1.2z"/><path fill="#f69c3d" d="M54.1 139.3h1.2v1.2h-1.2zM59.1 143.3h1.2v1.2h-1.2zM58.1 145.3h2.2v1.2h-2.2z"/><path fill="#e9e62a" d="M55.1 139.3h1.2v1.2h-1.2z"/><path fill="#f7b92f" d="M57.1 139.3h1.2v1.2h-1.2z"/><path fill="#f0844c" d="M58.1 139.3h1.2v1.2h-1.2zM60.1 145.3h1.2v1.2h-1.2zM59.1 147.3h2.2v1.2h-2.2z"/><path fill="#cd3d85" d="M54.1 141.3h1.2v1.2h-1.2zM60.1 151.3h1.2v1.2h-1.2zM65.1 153.3h1.2v1.2h-1.2zM66.1 157.3h1.2v1.2h-1.2zM66.1 159.3h1.2v1.2h-1.2zM67.1 161.3h1.2v1.2h-1.2z"/><path fill="#f7b92f" d="M58.1 142.3h1.2v1.2h-1.2zM58.1 144.3h1.2v1.2h-1.2z"/><path fill="#f39044" d="M59.1 142.3h1.2v1.2h-1.2zM57.1 144.3h1.2v1.2h-1.2z"/><path fill="#f6cb2a" d="M57.1 143.3h2.2v1.2h-2.2z"/><path fill="#9a2a9d" d="M55.1 144.3h1.2v1.2h-1.2zM64.1 146.3h1.2v1.2h-1.2zM67.1 154.3h1.2v1.2h-1.2zM62.1 156.3h1.2v1.2h-1.2zM68.1 156.3h1.2v1.2h-1.2zM70.1 162.3h1.2v1.2h-1.2zM71.1 164.3h1.2v1.2h-1.2zM68.1 166.3h1.2v1.2h-1.2zM72.1 166.3h1.2v1.2h-1.2zM73.1 170.3h1.2v1.2h-1.2zM72.1 172.3h2.2v1.2h-2.2zM74.1 174.3h1.2v1.2h-1.2z"/><path fill="#e05d71" d="M61.1 145.3h1.2v1.2h-1.2zM62.1 149.3h1.2v1.2h-1.2zM61.1 151.3h1.2v1.2h-1.2zM63.1 153.3h1.2v1.2h-1.2z"/><path fill="#b52a97" d="M63.1 145.3h1.2v1.2h-1.2zM57.1 147.3h1.2v1.2h-1.2zM66.1 153.3h1.2v1.2h-1.2zM63.1 157.3h1.2v1.2h-1.2zM68.1 159.3h1.2v1.2h-1.2zM69.1 161.3h1.2v1.2h-1.2zM68.1 165.3h1.2v1.2h-1.2zM70.1 165.3h1.2v1.2h-1.2zM70.1 167.3h2.2v1.2h-2.2zM71.1 169.3h1.2v1.2h-1.2z"/><path fill="#f0844c" d="M60.1 146.3h1.2v1.2h-1.2z"/><path fill="#3f3799" d="M73.1 181.3h1.2v1.2h-1.2zM78.1 191.4h1.2v1.2h-1.2zM80.1 193.4h1.2v1.2h-1.2zM81.1 195.4h1.2v1.2h-1.2zM87.1 195.4h1.2v1.2h-1.2zM82.1 197.4h1.2v1.2h-1.2zM84.1 197.4h1.2v1.2h-1.2zM92.1 201.4h1.2v1.2h-1.2z"/><path fill="#3f3799" d="M76.1 186.3h1.2v1.2h-1.2zM77.1 188.4h1.2v1.2h-1.2zM79.1 192.4h1.2v1.2h-1.2zM80.1 194.4h1.2v1.2h-1.2zM81.1 196.4h2.2v1.2h-2.2zM89.1 198.4h1.2v1.2h-1.2zM84.1 200.4h1.2v1.2h-1.2zM92.1 212.4h1.2v1.2h-1.2z"/></g>
<rect x="47" y="134.3" width="105.19999999999999" height="105.19999999999999" fill="none" stroke="#b0b0b0" stroke-width="0.8"/>
<path d="M47 134.3 L99.6 239.5 L152.2 134.3" fill="none" stroke="#a8a8a8" stroke-width="0.55"/>
<rect x="155" y="134.3" width="5.300000000000011" height="105.19999999999999" fill="url(#gpv)"/>
<text x="161.00" y="140.60" font-size="8.5" text-anchor="start" font-weight="normal" fill="#111" >375</text>
<text x="161.00" y="239.20" font-size="8.5" text-anchor="start" font-weight="normal" fill="#111" >0</text>
<g shape-rendering="crispEdges"><path fill="#4f3499" d="M190.3 134.3h2.3v2.3h-2.3zM211.3 134.3h2.3v2.3h-2.3zM215.5 134.3h4.4v2.3h-4.4zM221.9 134.3h4.4v2.3h-4.4zM228.2 134.3h4.4v2.3h-4.4zM228.2 138.5h10.7v2.3h-10.7zM245 138.5h2.3v2.3h-2.3zM236.6 142.7h2.3v2.3h-2.3zM240.8 142.7h8.6v2.3h-8.6zM240.8 146.9h4.4v2.3h-4.4zM198.7 151.1h2.3v2.3h-2.3zM242.9 151.1h2.3v2.3h-2.3zM247.1 151.1h2.3v2.3h-2.3zM253.4 151.1h2.3v2.3h-2.3zM245 155.3h4.4v2.3h-4.4zM251.3 155.3h4.4v2.3h-4.4zM257.6 155.3h2.3v2.3h-2.3zM245 159.5h2.3v2.3h-2.3zM251.3 159.5h6.5v2.3h-6.5zM242.9 163.7h2.3v2.3h-2.3zM249.2 163.7h2.3v2.3h-2.3zM261.8 163.7h2.3v2.3h-2.3zM238.7 167.9h2.3v2.3h-2.3zM242.9 167.9h6.5v2.3h-6.5zM255.5 167.9h2.3v2.3h-2.3zM259.7 167.9h2.3v2.3h-2.3zM211.3 172.1h2.3v2.3h-2.3zM238.7 172.1h2.3v2.3h-2.3zM242.9 172.1h2.3v2.3h-2.3zM247.1 172.1h4.4v2.3h-4.4zM238.7 176.3h2.3v2.3h-2.3zM242.9 176.3h6.5v2.3h-6.5zM240.8 180.5h2.3v2.3h-2.3zM247.1 180.5h4.4v2.3h-4.4zM245 184.7h2.3v2.3h-2.3zM253.4 184.7h4.4v2.3h-4.4zM247.1 189h2.3v2.3h-2.3zM253.4 189h6.5v2.3h-6.5zM221.9 193.2h2.3v2.3h-2.3zM255.5 193.2h4.4v2.3h-4.4zM224 197.4h2.3v2.3h-2.3zM251.3 197.4h10.7v2.3h-10.7zM226.1 201.6h2.3v2.3h-2.3zM251.3 201.6h2.3v2.3h-2.3zM255.5 201.6h4.4v2.3h-4.4zM228.2 205.8h2.3v2.3h-2.3zM249.2 205.8h4.4v2.3h-4.4zM255.5 205.8h2.3v2.3h-2.3zM230.3 210h2.3v2.3h-2.3zM251.3 210h2.3v2.3h-2.3zM255.5 210h2.3v2.3h-2.3zM245 214.2h2.3v2.3h-2.3zM249.2 214.2h2.3v2.3h-2.3zM253.4 214.2h2.3v2.3h-2.3zM236.6 218.4h2.3v2.3h-2.3zM249.2 218.4h2.3v2.3h-2.3zM238.7 222.6h2.3v2.3h-2.3zM247.1 222.6h2.3v2.3h-2.3zM242.9 226.8h2.3v2.3h-2.3zM247.1 226.8h2.3v2.3h-2.3z"/><path fill="#782f9f" d="M192.4 134.3h2.3v2.3h-2.3zM209.2 138.5h4.4v2.3h-4.4zM226.1 151.1h2.3v2.3h-2.3zM224 155.3h2.3v2.3h-2.3zM226.1 159.5h2.3v2.3h-2.3zM226.1 163.7h2.3v2.3h-2.3zM226.1 172.1h2.3v2.3h-2.3zM228.2 201.6h2.3v2.3h-2.3zM238.7 201.6h2.3v2.3h-2.3zM236.6 205.8h2.3v2.3h-2.3zM236.6 210h2.3v2.3h-2.3z"/><path fill="#af2999" d="M194.5 134.3h2.3v2.3h-2.3zM213.4 151.1h2.3v2.3h-2.3zM217.7 151.1h2.3v2.3h-2.3zM217.7 159.5h2.3v2.3h-2.3zM219.8 167.9h2.3v2.3h-2.3zM226.1 180.5h2.3v2.3h-2.3zM224 184.7h4.4v2.3h-4.4zM226.1 193.2h2.3v2.3h-2.3z"/><path fill="#b72b96" d="M196.6 134.3h2.3v2.3h-2.3zM209.2 142.7h2.3v2.3h-2.3zM215.5 172.1h2.3v2.3h-2.3zM224 189h2.3v2.3h-2.3zM230.3 197.4h2.3v2.3h-2.3zM232.4 201.6h2.3v2.3h-2.3z"/><path fill="#c02c92" d="M198.7 134.3h2.3v2.3h-2.3zM196.6 138.5h2.3v2.3h-2.3zM207.1 142.7h2.3v2.3h-2.3zM198.7 146.9h2.3v2.3h-2.3zM211.3 146.9h2.3v2.3h-2.3zM226.1 189h2.3v2.3h-2.3zM232.4 197.4h2.3v2.3h-2.3z"/><path fill="#832e9e" d="M200.8 134.3h2.3v2.3h-2.3zM194.5 138.5h2.3v2.3h-2.3zM215.5 142.7h6.5v2.3h-6.5zM219.8 146.9h2.3v2.3h-2.3zM221.9 155.3h2.3v2.3h-2.3zM226.1 155.3h2.3v2.3h-2.3zM209.2 163.7h2.3v2.3h-2.3zM228.2 180.5h2.3v2.3h-2.3zM224 193.2h2.3v2.3h-2.3zM226.1 197.4h2.3v2.3h-2.3zM232.4 205.8h2.3v2.3h-2.3z"/><path fill="#6f309e" d="M202.9 134.3h6.5v2.3h-6.5zM213.4 138.5h2.3v2.3h-2.3zM221.9 142.7h2.3v2.3h-2.3zM224 146.9h6.5v2.3h-6.5zM232.4 146.9h2.3v2.3h-2.3zM224 151.1h2.3v2.3h-2.3zM232.4 155.3h2.3v2.3h-2.3zM228.2 159.5h2.3v2.3h-2.3zM228.2 163.7h4.4v2.3h-4.4zM226.1 167.9h2.3v2.3h-2.3zM230.3 167.9h2.3v2.3h-2.3zM213.4 172.1h2.3v2.3h-2.3zM228.2 176.3h4.4v2.3h-4.4zM230.3 180.5h2.3v2.3h-2.3zM230.3 184.7h2.3v2.3h-2.3zM232.4 189h2.3v2.3h-2.3zM234.5 193.2h6.5v2.3h-6.5zM238.7 205.8h2.3v2.3h-2.3zM238.7 210h2.3v2.3h-2.3z"/><path fill="#66319d" d="M209.2 134.3h2.3v2.3h-2.3zM215.5 138.5h2.3v2.3h-2.3zM219.8 138.5h2.3v2.3h-2.3zM230.3 146.9h2.3v2.3h-2.3zM228.2 151.1h4.4v2.3h-4.4zM202.9 155.3h2.3v2.3h-2.3zM228.2 155.3h4.4v2.3h-4.4zM232.4 159.5h4.4v2.3h-4.4zM232.4 163.7h2.3v2.3h-2.3zM236.6 163.7h2.3v2.3h-2.3zM211.3 167.9h2.3v2.3h-2.3zM228.2 167.9h2.3v2.3h-2.3zM232.4 167.9h4.4v2.3h-4.4zM228.2 172.1h4.4v2.3h-4.4zM232.4 176.3h2.3v2.3h-2.3zM217.7 180.5h2.3v2.3h-2.3zM232.4 180.5h2.3v2.3h-2.3zM219.8 184.7h2.3v2.3h-2.3zM234.5 184.7h2.3v2.3h-2.3zM221.9 189h2.3v2.3h-2.3zM236.6 189h2.3v2.3h-2.3zM240.8 189h2.3v2.3h-2.3zM238.7 197.4h6.5v2.3h-6.5zM230.3 205.8h2.3v2.3h-2.3zM240.8 205.8h2.3v2.3h-2.3zM234.5 210h2.3v2.3h-2.3zM238.7 214.2h4.4v2.3h-4.4zM238.7 218.4h2.3v2.3h-2.3zM242.9 218.4h2.3v2.3h-2.3z"/><path fill="#56339b" d="M213.4 134.3h2.3v2.3h-2.3zM219.8 134.3h2.3v2.3h-2.3zM192.4 138.5h2.3v2.3h-2.3zM226.1 138.5h2.3v2.3h-2.3zM194.5 142.7h2.3v2.3h-2.3zM230.3 142.7h2.3v2.3h-2.3zM234.5 142.7h2.3v2.3h-2.3zM238.7 142.7h2.3v2.3h-2.3zM234.5 146.9h2.3v2.3h-2.3zM238.7 146.9h2.3v2.3h-2.3zM245 146.9h4.4v2.3h-4.4zM234.5 151.1h2.3v2.3h-2.3zM238.7 151.1h4.4v2.3h-4.4zM245 151.1h2.3v2.3h-2.3zM249.2 151.1h4.4v2.3h-4.4zM236.6 155.3h8.6v2.3h-8.6zM249.2 155.3h2.3v2.3h-2.3zM240.8 159.5h4.4v2.3h-4.4zM249.2 159.5h2.3v2.3h-2.3zM207.1 163.7h2.3v2.3h-2.3zM238.7 163.7h4.4v2.3h-4.4zM245 163.7h4.4v2.3h-4.4zM251.3 163.7h2.3v2.3h-2.3zM240.8 167.9h2.3v2.3h-2.3zM249.2 167.9h2.3v2.3h-2.3zM236.6 172.1h2.3v2.3h-2.3zM240.8 172.1h2.3v2.3h-2.3zM245 172.1h2.3v2.3h-2.3zM234.5 176.3h4.4v2.3h-4.4zM240.8 176.3h2.3v2.3h-2.3zM249.2 176.3h2.3v2.3h-2.3zM238.7 180.5h2.3v2.3h-2.3zM242.9 180.5h2.3v2.3h-2.3zM242.9 184.7h2.3v2.3h-2.3zM249.2 184.7h2.3v2.3h-2.3zM242.9 189h4.4v2.3h-4.4zM249.2 189h4.4v2.3h-4.4zM242.9 193.2h6.5v2.3h-6.5zM251.3 193.2h4.4v2.3h-4.4zM249.2 197.4h2.3v2.3h-2.3zM247.1 201.6h4.4v2.3h-4.4zM253.4 201.6h2.3v2.3h-2.3zM242.9 205.8h6.5v2.3h-6.5zM242.9 210h2.3v2.3h-2.3zM247.1 210h2.3v2.3h-2.3zM234.5 214.2h2.3v2.3h-2.3zM245 218.4h2.3v2.3h-2.3zM245 222.6h2.3v2.3h-2.3zM245 226.8h2.3v2.3h-2.3z"/><path fill="#483597" d="M226.1 134.3h2.3v2.3h-2.3zM232.4 134.3h2.3v2.3h-2.3zM249.2 134.3h2.3v2.3h-2.3zM238.7 138.5h6.5v2.3h-6.5zM247.1 138.5h6.5v2.3h-6.5zM249.2 142.7h2.3v2.3h-2.3zM200.8 155.3h2.3v2.3h-2.3zM255.5 155.3h2.3v2.3h-2.3zM257.6 159.5h6.5v2.3h-6.5zM253.4 163.7h8.6v2.3h-8.6zM263.9 163.7h4.4v2.3h-4.4zM209.2 167.9h2.3v2.3h-2.3zM251.3 167.9h4.4v2.3h-4.4zM257.6 167.9h2.3v2.3h-2.3zM261.8 167.9h10.7v2.3h-10.7zM251.3 172.1h25.4v2.3h-25.4zM251.3 176.3h2.3v2.3h-2.3zM255.5 176.3h4.4v2.3h-4.4zM261.8 176.3h2.3v2.3h-2.3zM266 176.3h2.3v2.3h-2.3zM270.3 176.3h2.3v2.3h-2.3zM215.5 180.5h2.3v2.3h-2.3zM245 180.5h2.3v2.3h-2.3zM251.3 180.5h21.2v2.3h-21.2zM217.7 184.7h2.3v2.3h-2.3zM247.1 184.7h2.3v2.3h-2.3zM251.3 184.7h2.3v2.3h-2.3zM257.6 184.7h8.6v2.3h-8.6zM219.8 189h2.3v2.3h-2.3zM259.7 189h8.6v2.3h-8.6zM259.7 193.2h6.5v2.3h-6.5zM261.8 197.4h2.3v2.3h-2.3zM259.7 201.6h2.3v2.3h-2.3zM253.4 205.8h2.3v2.3h-2.3zM257.6 205.8h2.3v2.3h-2.3zM245 210h2.3v2.3h-2.3zM249.2 210h2.3v2.3h-2.3zM253.4 210h2.3v2.3h-2.3zM232.4 214.2h2.3v2.3h-2.3zM247.1 214.2h2.3v2.3h-2.3zM251.3 214.2h2.3v2.3h-2.3zM234.5 218.4h2.3v2.3h-2.3zM247.1 218.4h2.3v2.3h-2.3zM251.3 218.4h2.3v2.3h-2.3zM249.2 222.6h2.3v2.3h-2.3zM240.8 226.8h2.3v2.3h-2.3z"/><path fill="#433698" d="M234.5 134.3h2.3v2.3h-2.3zM245 134.3h4.4v2.3h-4.4zM251.3 134.3h2.3v2.3h-2.3zM261.8 134.3h2.3v2.3h-2.3zM285 134.3h4.4v2.3h-4.4zM289.2 138.5h2.3v2.3h-2.3zM255.5 142.7h2.3v2.3h-2.3zM259.7 142.7h2.3v2.3h-2.3zM266 142.7h2.3v2.3h-2.3zM259.7 146.9h2.3v2.3h-2.3zM263.9 146.9h2.3v2.3h-2.3zM272.4 146.9h2.3v2.3h-2.3zM282.9 146.9h2.3v2.3h-2.3zM287.1 146.9h2.3v2.3h-2.3zM285 151.1h2.3v2.3h-2.3zM263.9 155.3h2.3v2.3h-2.3zM270.3 155.3h2.3v2.3h-2.3zM276.6 155.3h2.3v2.3h-2.3zM202.9 159.5h2.3v2.3h-2.3zM270.3 159.5h2.3v2.3h-2.3zM205 163.7h2.3v2.3h-2.3zM274.5 163.7h4.4v2.3h-4.4zM207.1 167.9h2.3v2.3h-2.3zM272.4 167.9h4.4v2.3h-4.4zM209.2 172.1h2.3v2.3h-2.3zM211.3 176.3h4.4v2.3h-4.4zM253.4 176.3h2.3v2.3h-2.3zM259.7 176.3h2.3v2.3h-2.3zM263.9 176.3h2.3v2.3h-2.3zM268.1 176.3h2.3v2.3h-2.3zM272.4 176.3h2.3v2.3h-2.3zM215.5 184.7h2.3v2.3h-2.3zM266 184.7h4.4v2.3h-4.4zM217.7 189h2.3v2.3h-2.3zM219.8 193.2h2.3v2.3h-2.3zM221.9 197.4h2.3v2.3h-2.3zM224 201.6h2.3v2.3h-2.3zM226.1 205.8h2.3v2.3h-2.3zM228.2 210h2.3v2.3h-2.3zM230.3 214.2h2.3v2.3h-2.3zM232.4 218.4h2.3v2.3h-2.3zM234.5 222.6h4.4v2.3h-4.4zM238.7 226.8h2.3v2.3h-2.3z"/><path fill="#3d3799" d="M266 134.3h2.3v2.3h-2.3zM274.5 134.3h4.4v2.3h-4.4zM280.8 134.3h2.3v2.3h-2.3zM289.2 134.3h4.4v2.3h-4.4zM263.9 138.5h2.3v2.3h-2.3zM276.6 138.5h2.3v2.3h-2.3zM280.8 138.5h2.3v2.3h-2.3zM257.6 142.7h2.3v2.3h-2.3zM261.8 142.7h2.3v2.3h-2.3zM268.1 142.7h4.4v2.3h-4.4zM282.9 142.7h2.3v2.3h-2.3zM266 146.9h4.4v2.3h-4.4zM255.5 151.1h2.3v2.3h-2.3zM263.9 151.1h2.3v2.3h-2.3zM274.5 151.1h2.3v2.3h-2.3zM272.4 155.3h2.3v2.3h-2.3zM278.7 155.3h4.4v2.3h-4.4zM280.8 159.5h2.3v2.3h-2.3zM268.1 163.7h2.3v2.3h-2.3zM276.6 167.9h2.3v2.3h-2.3zM213.4 180.5h2.3v2.3h-2.3zM236.6 226.8h2.3v2.3h-2.3z"/><path fill="#483597" d="M190.3 136.4h2.3v2.3h-2.3zM230.3 136.4h2.3v2.3h-2.3zM234.5 136.4h2.3v2.3h-2.3zM245 136.4h2.3v2.3h-2.3zM249.2 140.6h2.3v2.3h-2.3zM251.3 153.2h2.3v2.3h-2.3zM255.5 153.2h2.3v2.3h-2.3zM251.3 157.4h4.4v2.3h-4.4zM257.6 157.4h2.3v2.3h-2.3zM205 161.6h2.3v2.3h-2.3zM249.2 161.6h2.3v2.3h-2.3zM253.4 161.6h2.3v2.3h-2.3zM257.6 161.6h6.5v2.3h-6.5zM207.1 165.8h2.3v2.3h-2.3zM253.4 165.8h2.3v2.3h-2.3zM257.6 165.8h6.5v2.3h-6.5zM266 165.8h2.3v2.3h-2.3zM251.3 170h12.8v2.3h-12.8zM266 170h4.4v2.3h-4.4zM251.3 174.2h10.7v2.3h-10.7zM268.1 174.2h2.3v2.3h-2.3zM272.4 174.2h2.3v2.3h-2.3zM249.2 178.4h2.3v2.3h-2.3zM257.6 178.4h4.4v2.3h-4.4zM266 178.4h2.3v2.3h-2.3zM247.1 182.6h2.3v2.3h-2.3zM253.4 182.6h2.3v2.3h-2.3zM257.6 182.6h2.3v2.3h-2.3zM261.8 182.6h4.4v2.3h-4.4zM268.1 182.6h2.3v2.3h-2.3zM255.5 186.9h6.5v2.3h-6.5zM263.9 186.9h4.4v2.3h-4.4zM255.5 191.1h10.7v2.3h-10.7zM221.9 195.3h2.3v2.3h-2.3zM253.4 195.3h2.3v2.3h-2.3zM224 199.5h2.3v2.3h-2.3zM253.4 207.9h4.4v2.3h-4.4zM249.2 212.1h6.5v2.3h-6.5zM247.1 216.3h4.4v2.3h-4.4zM236.6 220.5h2.3v2.3h-2.3zM247.1 220.5h2.3v2.3h-2.3zM240.8 228.9h4.4v2.3h-4.4z"/><path fill="#5e329c" d="M192.4 136.4h2.3v2.3h-2.3zM213.4 136.4h4.4v2.3h-4.4zM219.8 140.6h2.3v2.3h-2.3zM224 140.6h2.3v2.3h-2.3zM234.5 144.8h2.3v2.3h-2.3zM240.8 144.8h2.3v2.3h-2.3zM232.4 149h6.5v2.3h-6.5zM200.8 153.2h2.3v2.3h-2.3zM236.6 153.2h8.6v2.3h-8.6zM232.4 157.4h2.3v2.3h-2.3zM236.6 157.4h4.4v2.3h-4.4zM236.6 161.6h4.4v2.3h-4.4zM242.9 161.6h2.3v2.3h-2.3zM209.2 165.8h2.3v2.3h-2.3zM236.6 165.8h6.5v2.3h-6.5zM232.4 170h2.3v2.3h-2.3zM230.3 174.2h10.7v2.3h-10.7zM232.4 178.4h2.3v2.3h-2.3zM236.6 178.4h2.3v2.3h-2.3zM234.5 182.6h2.3v2.3h-2.3zM236.6 186.9h2.3v2.3h-2.3zM240.8 186.9h2.3v2.3h-2.3zM238.7 191.1h4.4v2.3h-4.4zM242.9 195.3h2.3v2.3h-2.3zM247.1 195.3h2.3v2.3h-2.3zM242.9 199.5h2.3v2.3h-2.3zM228.2 203.7h2.3v2.3h-2.3zM242.9 203.7h2.3v2.3h-2.3zM240.8 207.9h2.3v2.3h-2.3zM240.8 212.1h2.3v2.3h-2.3zM236.6 216.3h2.3v2.3h-2.3zM242.9 216.3h2.3v2.3h-2.3zM242.9 220.5h2.3v2.3h-2.3z"/><path fill="#9a2a9d" d="M194.5 136.4h2.3v2.3h-2.3zM211.3 144.8h2.3v2.3h-2.3zM215.5 144.8h2.3v2.3h-2.3zM202.9 153.2h2.3v2.3h-2.3zM205 157.4h2.3v2.3h-2.3zM221.9 182.6h2.3v2.3h-2.3zM226.1 195.3h2.3v2.3h-2.3zM234.5 195.3h2.3v2.3h-2.3zM234.5 199.5h2.3v2.3h-2.3zM230.3 203.7h2.3v2.3h-2.3zM234.5 207.9h2.3v2.3h-2.3z"/><path fill="#d4457f" d="M196.6 136.4h2.3v2.3h-2.3zM209.2 149h2.3v2.3h-2.3z"/><path fill="#dd5776" d="M198.7 136.4h2.3v2.3h-2.3zM207.1 144.8h2.3v2.3h-2.3zM215.5 165.8h2.3v2.3h-2.3z"/><path fill="#b72b96" d="M200.8 136.4h2.3v2.3h-2.3zM209.2 144.8h2.3v2.3h-2.3zM215.5 153.2h2.3v2.3h-2.3zM215.5 157.4h2.3v2.3h-2.3zM219.8 165.8h2.3v2.3h-2.3zM221.9 170h2.3v2.3h-2.3zM221.9 174.2h2.3v2.3h-2.3zM224 186.9h2.3v2.3h-2.3zM228.2 186.9h2.3v2.3h-2.3zM234.5 203.7h2.3v2.3h-2.3z"/><path fill="#8f2c9e" d="M202.9 136.4h2.3v2.3h-2.3zM207.1 140.6h2.3v2.3h-2.3zM221.9 161.6h4.4v2.3h-4.4zM226.1 178.4h2.3v2.3h-2.3z"/><path fill="#6f309e" d="M205 136.4h6.5v2.3h-6.5zM226.1 144.8h2.3v2.3h-2.3zM224 153.2h2.3v2.3h-2.3zM230.3 153.2h2.3v2.3h-2.3zM230.3 161.6h2.3v2.3h-2.3zM224 165.8h2.3v2.3h-2.3zM226.1 170h6.5v2.3h-6.5zM226.1 174.2h4.4v2.3h-4.4zM228.2 178.4h2.3v2.3h-2.3zM232.4 182.6h2.3v2.3h-2.3zM221.9 186.9h2.3v2.3h-2.3zM234.5 191.1h2.3v2.3h-2.3zM238.7 195.3h4.4v2.3h-4.4zM238.7 203.7h2.3v2.3h-2.3zM236.6 212.1h2.3v2.3h-2.3z"/><path fill="#66319d" d="M211.3 136.4h2.3v2.3h-2.3zM194.5 140.6h2.3v2.3h-2.3zM219.8 144.8h2.3v2.3h-2.3zM228.2 144.8h2.3v2.3h-2.3zM198.7 149h2.3v2.3h-2.3zM226.1 149h6.5v2.3h-6.5zM238.7 149h2.3v2.3h-2.3zM228.2 153.2h2.3v2.3h-2.3zM232.4 153.2h4.4v2.3h-4.4zM228.2 157.4h4.4v2.3h-4.4zM234.5 157.4h2.3v2.3h-2.3zM232.4 161.6h4.4v2.3h-4.4zM230.3 165.8h6.5v2.3h-6.5zM234.5 170h4.4v2.3h-4.4zM217.7 178.4h2.3v2.3h-2.3zM230.3 178.4h2.3v2.3h-2.3zM234.5 186.9h2.3v2.3h-2.3zM236.6 195.3h2.3v2.3h-2.3zM226.1 199.5h2.3v2.3h-2.3zM240.8 199.5h2.3v2.3h-2.3zM238.7 207.9h2.3v2.3h-2.3zM234.5 212.1h2.3v2.3h-2.3zM238.7 212.1h2.3v2.3h-2.3zM238.7 216.3h4.4v2.3h-4.4zM240.8 220.5h2.3v2.3h-2.3z"/><path fill="#56339b" d="M217.7 136.4h10.7v2.3h-10.7zM221.9 140.6h2.3v2.3h-2.3zM226.1 140.6h10.7v2.3h-10.7zM230.3 144.8h4.4v2.3h-4.4zM236.6 144.8h2.3v2.3h-2.3zM240.8 149h6.5v2.3h-6.5zM245 153.2h4.4v2.3h-4.4zM253.4 153.2h2.3v2.3h-2.3zM202.9 157.4h2.3v2.3h-2.3zM242.9 157.4h6.5v2.3h-6.5zM240.8 161.6h2.3v2.3h-2.3zM245 161.6h2.3v2.3h-2.3zM242.9 165.8h2.3v2.3h-2.3zM249.2 165.8h2.3v2.3h-2.3zM238.7 170h8.6v2.3h-8.6zM240.8 174.2h4.4v2.3h-4.4zM249.2 174.2h2.3v2.3h-2.3zM234.5 178.4h2.3v2.3h-2.3zM240.8 178.4h2.3v2.3h-2.3zM236.6 182.6h6.5v2.3h-6.5zM219.8 186.9h2.3v2.3h-2.3zM238.7 186.9h2.3v2.3h-2.3zM242.9 186.9h4.4v2.3h-4.4zM221.9 191.1h2.3v2.3h-2.3zM242.9 191.1h4.4v2.3h-4.4zM224 195.3h2.3v2.3h-2.3zM245 195.3h2.3v2.3h-2.3zM249.2 195.3h4.4v2.3h-4.4zM245 199.5h4.4v2.3h-4.4zM240.8 203.7h2.3v2.3h-2.3zM245 203.7h2.3v2.3h-2.3zM242.9 207.9h4.4v2.3h-4.4zM232.4 212.1h2.3v2.3h-2.3zM242.9 212.1h2.3v2.3h-2.3zM238.7 220.5h2.3v2.3h-2.3zM245 220.5h2.3v2.3h-2.3zM245 224.7h2.3v2.3h-2.3zM245 228.9h2.3v2.3h-2.3z"/><path fill="#4f3499" d="M228.2 136.4h2.3v2.3h-2.3zM232.4 136.4h2.3v2.3h-2.3zM236.6 140.6h12.8v2.3h-12.8zM194.5 144.8h2.3v2.3h-2.3zM238.7 144.8h2.3v2.3h-2.3zM242.9 144.8h6.5v2.3h-6.5zM247.1 149h2.3v2.3h-2.3zM249.2 153.2h2.3v2.3h-2.3zM240.8 157.4h2.3v2.3h-2.3zM249.2 157.4h2.3v2.3h-2.3zM255.5 157.4h2.3v2.3h-2.3zM259.7 157.4h2.3v2.3h-2.3zM247.1 161.6h2.3v2.3h-2.3zM251.3 161.6h2.3v2.3h-2.3zM255.5 161.6h2.3v2.3h-2.3zM263.9 161.6h2.3v2.3h-2.3zM245 165.8h4.4v2.3h-4.4zM251.3 165.8h2.3v2.3h-2.3zM255.5 165.8h2.3v2.3h-2.3zM211.3 170h2.3v2.3h-2.3zM247.1 170h4.4v2.3h-4.4zM213.4 174.2h2.3v2.3h-2.3zM245 174.2h4.4v2.3h-4.4zM215.5 178.4h2.3v2.3h-2.3zM238.7 178.4h2.3v2.3h-2.3zM242.9 178.4h6.5v2.3h-6.5zM251.3 178.4h6.5v2.3h-6.5zM217.7 182.6h2.3v2.3h-2.3zM242.9 182.6h4.4v2.3h-4.4zM249.2 182.6h4.4v2.3h-4.4zM255.5 182.6h2.3v2.3h-2.3zM259.7 182.6h2.3v2.3h-2.3zM247.1 186.9h8.6v2.3h-8.6zM247.1 191.1h8.6v2.3h-8.6zM255.5 195.3h10.7v2.3h-10.7zM249.2 199.5h14.9v2.3h-14.9zM247.1 203.7h12.8v2.3h-12.8zM230.3 207.9h2.3v2.3h-2.3zM247.1 207.9h6.5v2.3h-6.5zM245 212.1h4.4v2.3h-4.4zM234.5 216.3h2.3v2.3h-2.3zM245 216.3h2.3v2.3h-2.3zM251.3 216.3h2.3v2.3h-2.3zM249.2 220.5h2.3v2.3h-2.3zM240.8 224.7h4.4v2.3h-4.4zM247.1 224.7h2.3v2.3h-2.3z"/><path fill="#433698" d="M247.1 136.4h6.5v2.3h-6.5zM257.6 136.4h2.3v2.3h-2.3zM285 136.4h2.3v2.3h-2.3zM291.3 136.4h2.3v2.3h-2.3zM251.3 140.6h2.3v2.3h-2.3zM259.7 140.6h2.3v2.3h-2.3zM270.3 140.6h2.3v2.3h-2.3zM285 140.6h4.4v2.3h-4.4zM259.7 144.8h2.3v2.3h-2.3zM274.5 144.8h2.3v2.3h-2.3zM196.6 149h2.3v2.3h-2.3zM259.7 153.2h2.3v2.3h-2.3zM263.9 153.2h2.3v2.3h-2.3zM280.8 153.2h2.3v2.3h-2.3zM272.4 161.6h2.3v2.3h-2.3zM278.7 161.6h2.3v2.3h-2.3zM263.9 165.8h2.3v2.3h-2.3zM268.1 165.8h2.3v2.3h-2.3zM272.4 165.8h2.3v2.3h-2.3zM207.1 170h4.4v2.3h-4.4zM263.9 170h2.3v2.3h-2.3zM270.3 170h4.4v2.3h-4.4zM211.3 174.2h2.3v2.3h-2.3zM261.8 174.2h6.5v2.3h-6.5zM270.3 174.2h2.3v2.3h-2.3zM213.4 178.4h2.3v2.3h-2.3zM261.8 178.4h4.4v2.3h-4.4zM268.1 178.4h4.4v2.3h-4.4zM215.5 182.6h2.3v2.3h-2.3zM266 182.6h2.3v2.3h-2.3zM217.7 186.9h2.3v2.3h-2.3zM261.8 186.9h2.3v2.3h-2.3zM219.8 191.1h2.3v2.3h-2.3zM226.1 203.7h2.3v2.3h-2.3zM228.2 207.9h2.3v2.3h-2.3zM230.3 212.1h2.3v2.3h-2.3zM232.4 216.3h2.3v2.3h-2.3zM236.6 224.7h4.4v2.3h-4.4zM238.7 228.9h2.3v2.3h-2.3z"/><path fill="#3d3799" d="M259.7 136.4h6.5v2.3h-6.5zM270.3 136.4h2.3v2.3h-2.3zM282.9 136.4h2.3v2.3h-2.3zM276.6 140.6h2.3v2.3h-2.3zM289.2 140.6h2.3v2.3h-2.3zM251.3 144.8h2.3v2.3h-2.3zM263.9 144.8h2.3v2.3h-2.3zM270.3 144.8h2.3v2.3h-2.3zM263.9 149h2.3v2.3h-2.3zM272.4 149h4.4v2.3h-4.4zM278.7 149h4.4v2.3h-4.4zM257.6 153.2h2.3v2.3h-2.3zM261.8 153.2h2.3v2.3h-2.3zM268.1 153.2h2.3v2.3h-2.3zM276.6 153.2h4.4v2.3h-4.4zM270.3 157.4h2.3v2.3h-2.3zM274.5 170h2.3v2.3h-2.3zM213.4 182.6h2.3v2.3h-2.3zM234.5 220.5h2.3v2.3h-2.3z"/><path fill="#ea715b" d="M198.7 138.5h2.3v2.3h-2.3zM209.2 151.1h2.3v2.3h-2.3z"/><path fill="#e05d71" d="M200.8 138.5h2.3v2.3h-2.3z"/><path fill="#cf3f84" d="M202.9 138.5h2.3v2.3h-2.3zM211.3 163.7h2.3v2.3h-2.3zM217.7 167.9h2.3v2.3h-2.3z"/><path fill="#9a2a9d" d="M205 138.5h4.4v2.3h-4.4zM211.3 142.7h2.3v2.3h-2.3zM213.4 146.9h4.4v2.3h-4.4zM219.8 163.7h2.3v2.3h-2.3zM224 163.7h2.3v2.3h-2.3zM224 167.9h2.3v2.3h-2.3zM224 176.3h2.3v2.3h-2.3zM230.3 189h2.3v2.3h-2.3zM230.3 201.6h2.3v2.3h-2.3zM234.5 205.8h2.3v2.3h-2.3z"/><path fill="#5e329c" d="M217.7 138.5h2.3v2.3h-2.3zM221.9 138.5h4.4v2.3h-4.4zM224 142.7h6.5v2.3h-6.5zM232.4 142.7h2.3v2.3h-2.3zM196.6 146.9h2.3v2.3h-2.3zM236.6 146.9h2.3v2.3h-2.3zM232.4 151.1h2.3v2.3h-2.3zM236.6 151.1h2.3v2.3h-2.3zM234.5 155.3h2.3v2.3h-2.3zM205 159.5h2.3v2.3h-2.3zM230.3 159.5h2.3v2.3h-2.3zM236.6 159.5h4.4v2.3h-4.4zM247.1 159.5h2.3v2.3h-2.3zM234.5 163.7h2.3v2.3h-2.3zM236.6 167.9h2.3v2.3h-2.3zM232.4 172.1h4.4v2.3h-4.4zM215.5 176.3h2.3v2.3h-2.3zM234.5 180.5h4.4v2.3h-4.4zM232.4 184.7h2.3v2.3h-2.3zM236.6 184.7h6.5v2.3h-6.5zM234.5 189h2.3v2.3h-2.3zM238.7 189h2.3v2.3h-2.3zM240.8 193.2h2.3v2.3h-2.3zM249.2 193.2h2.3v2.3h-2.3zM245 197.4h4.4v2.3h-4.4zM240.8 201.6h6.5v2.3h-6.5zM232.4 210h2.3v2.3h-2.3zM240.8 210h2.3v2.3h-2.3zM236.6 214.2h2.3v2.3h-2.3zM242.9 214.2h2.3v2.3h-2.3zM240.8 218.4h2.3v2.3h-2.3zM240.8 222.6h4.4v2.3h-4.4z"/><path fill="#af2999" d="M196.6 140.6h2.3v2.3h-2.3zM205 140.6h2.3v2.3h-2.3zM213.4 144.8h2.3v2.3h-2.3zM215.5 149h2.3v2.3h-2.3zM219.8 157.4h2.3v2.3h-2.3zM217.7 161.6h2.3v2.3h-2.3zM221.9 165.8h2.3v2.3h-2.3zM224 174.2h2.3v2.3h-2.3zM226.1 182.6h2.3v2.3h-2.3zM232.4 195.3h2.3v2.3h-2.3zM232.4 199.5h2.3v2.3h-2.3zM232.4 203.7h2.3v2.3h-2.3z"/><path fill="#d74b7c" d="M198.7 140.6h2.3v2.3h-2.3zM207.1 157.4h2.3v2.3h-2.3zM213.4 157.4h2.3v2.3h-2.3z"/><path fill="#ec7955" d="M200.8 140.6h2.3v2.3h-2.3z"/><path fill="#e05d71" d="M202.9 140.6h2.3v2.3h-2.3zM213.4 165.8h2.3v2.3h-2.3z"/><path fill="#832e9e" d="M209.2 140.6h2.3v2.3h-2.3zM196.6 144.8h2.3v2.3h-2.3zM217.7 144.8h2.3v2.3h-2.3zM221.9 149h2.3v2.3h-2.3zM217.7 153.2h6.5v2.3h-6.5zM221.9 157.4h2.3v2.3h-2.3zM226.1 161.6h4.4v2.3h-4.4zM226.1 165.8h2.3v2.3h-2.3zM213.4 170h2.3v2.3h-2.3zM215.5 174.2h2.3v2.3h-2.3zM228.2 182.6h2.3v2.3h-2.3zM232.4 186.9h2.3v2.3h-2.3zM224 191.1h2.3v2.3h-2.3zM228.2 199.5h2.3v2.3h-2.3zM236.6 203.7h2.3v2.3h-2.3z"/><path fill="#782f9f" d="M211.3 140.6h8.6v2.3h-8.6zM221.9 144.8h4.4v2.3h-4.4zM224 149h2.3v2.3h-2.3zM226.1 153.2h2.3v2.3h-2.3zM224 157.4h4.4v2.3h-4.4zM207.1 161.6h2.3v2.3h-2.3zM228.2 165.8h2.3v2.3h-2.3zM224 170h2.3v2.3h-2.3zM219.8 182.6h2.3v2.3h-2.3zM230.3 182.6h2.3v2.3h-2.3zM230.3 186.9h2.3v2.3h-2.3zM232.4 191.1h2.3v2.3h-2.3zM236.6 191.1h2.3v2.3h-2.3zM236.6 199.5h4.4v2.3h-4.4zM232.4 207.9h2.3v2.3h-2.3zM236.6 207.9h2.3v2.3h-2.3z"/><path fill="#8f2c9e" d="M196.6 142.7h2.3v2.3h-2.3zM213.4 142.7h2.3v2.3h-2.3zM217.7 146.9h2.3v2.3h-2.3zM221.9 146.9h2.3v2.3h-2.3zM200.8 151.1h2.3v2.3h-2.3zM219.8 151.1h4.4v2.3h-4.4zM217.7 155.3h2.3v2.3h-2.3zM219.8 159.5h2.3v2.3h-2.3zM224 159.5h2.3v2.3h-2.3zM221.9 163.7h2.3v2.3h-2.3zM221.9 167.9h2.3v2.3h-2.3zM224 172.1h2.3v2.3h-2.3zM226.1 176.3h2.3v2.3h-2.3zM219.8 180.5h2.3v2.3h-2.3zM232.4 193.2h2.3v2.3h-2.3zM234.5 197.4h4.4v2.3h-4.4zM236.6 201.6h2.3v2.3h-2.3z"/><path fill="#e66a62" d="M198.7 142.7h2.3v2.3h-2.3zM209.2 159.5h2.3v2.3h-2.3z"/><path fill="#f7b032" d="M200.8 142.7h2.3v2.3h-2.3zM205 146.9h2.3v2.3h-2.3zM211.3 159.5h2.3v2.3h-2.3z"/><path fill="#ef824e" d="M202.9 142.7h2.3v2.3h-2.3zM211.3 155.3h2.3v2.3h-2.3z"/><path fill="#ca3888" d="M205 142.7h2.3v2.3h-2.3zM213.4 155.3h2.3v2.3h-2.3zM217.7 163.7h2.3v2.3h-2.3zM217.7 172.1h2.3v2.3h-2.3zM219.8 176.3h2.3v2.3h-2.3zM221.9 180.5h4.4v2.3h-4.4zM228.2 189h2.3v2.3h-2.3zM230.3 193.2h2.3v2.3h-2.3z"/><path fill="#da5179" d="M198.7 144.8h2.3v2.3h-2.3zM211.3 153.2h2.3v2.3h-2.3zM215.5 170h2.3v2.3h-2.3z"/><path fill="#f4d527" d="M200.8 144.8h2.3v2.3h-2.3z"/><path fill="#f69c3d" d="M202.9 144.8h2.3v2.3h-2.3z"/><path fill="#e3646a" d="M205 144.8h2.3v2.3h-2.3zM211.3 161.6h4.4v2.3h-4.4zM217.7 170h2.3v2.3h-2.3z"/><path fill="#f69c3d" d="M200.8 146.9h2.3v2.3h-2.3z"/><path fill="#e9e62a" d="M202.9 146.9h2.3v2.3h-2.3z"/><path fill="#f28a48" d="M207.1 146.9h2.3v2.3h-2.3zM207.1 155.3h2.3v2.3h-2.3z"/><path fill="#da5179" d="M209.2 146.9h2.3v2.3h-2.3zM202.9 151.1h2.3v2.3h-2.3zM213.4 159.5h4.4v2.3h-4.4zM215.5 163.7h2.3v2.3h-2.3z"/><path fill="#c5328d" d="M200.8 149h2.3v2.3h-2.3zM211.3 149h4.4v2.3h-4.4zM219.8 170h2.3v2.3h-2.3zM230.3 195.3h2.3v2.3h-2.3zM230.3 199.5h2.3v2.3h-2.3z"/><path fill="#f49342" d="M202.9 149h2.3v2.3h-2.3zM209.2 153.2h2.3v2.3h-2.3z"/><path fill="#e9e62a" d="M205 149h2.3v2.3h-2.3z"/><path fill="#f0db28" d="M207.1 149h2.3v2.3h-2.3z"/><path fill="#a6289c" d="M217.7 149h4.4v2.3h-4.4zM213.4 153.2h2.3v2.3h-2.3zM217.7 157.4h2.3v2.3h-2.3zM219.8 161.6h2.3v2.3h-2.3zM211.3 165.8h2.3v2.3h-2.3zM224 178.4h2.3v2.3h-2.3zM226.1 186.9h2.3v2.3h-2.3z"/><path fill="#f4d527" d="M205 151.1h2.3v2.3h-2.3z"/><path fill="#ec7955" d="M207.1 151.1h2.3v2.3h-2.3z"/><path fill="#c5328d" d="M211.3 151.1h2.3v2.3h-2.3zM215.5 155.3h2.3v2.3h-2.3zM213.4 167.9h2.3v2.3h-2.3zM221.9 172.1h2.3v2.3h-2.3zM221.9 176.3h2.3v2.3h-2.3zM228.2 193.2h2.3v2.3h-2.3z"/><path fill="#a6289c" d="M215.5 151.1h2.3v2.3h-2.3zM219.8 155.3h2.3v2.3h-2.3zM207.1 159.5h2.3v2.3h-2.3zM221.9 159.5h2.3v2.3h-2.3zM217.7 176.3h2.3v2.3h-2.3zM221.9 184.7h2.3v2.3h-2.3zM228.2 184.7h2.3v2.3h-2.3zM228.2 197.4h2.3v2.3h-2.3zM234.5 201.6h2.3v2.3h-2.3z"/><path fill="#e66a62" d="M205 153.2h2.3v2.3h-2.3z"/><path fill="#ede029" d="M207.1 153.2h2.3v2.3h-2.3z"/><path fill="#d4457f" d="M205 155.3h2.3v2.3h-2.3z"/><path fill="#f49342" d="M209.2 155.3h2.3v2.3h-2.3zM213.4 163.7h2.3v2.3h-2.3z"/><path fill="#f6cb2a" d="M209.2 157.4h2.3v2.3h-2.3z"/><path fill="#ef824e" d="M211.3 157.4h2.3v2.3h-2.3z"/><path fill="#c02c92" d="M209.2 161.6h2.3v2.3h-2.3zM219.8 174.2h2.3v2.3h-2.3zM219.8 178.4h4.4v2.3h-4.4zM228.2 191.1h4.4v2.3h-4.4zM228.2 195.3h2.3v2.3h-2.3z"/><path fill="#ca3888" d="M215.5 161.6h2.3v2.3h-2.3zM217.7 165.8h2.3v2.3h-2.3zM217.7 174.2h2.3v2.3h-2.3zM224 182.6h2.3v2.3h-2.3zM226.1 191.1h2.3v2.3h-2.3z"/><path fill="#d74b7c" d="M215.5 167.9h2.3v2.3h-2.3zM219.8 172.1h2.3v2.3h-2.3z"/></g>
<rect x="190.3" y="134.3" width="104.69999999999999" height="105.19999999999999" fill="none" stroke="#b0b0b0" stroke-width="0.8"/>
<path d="M190.3 134.3 L242.65 239.5 L295 134.3" fill="none" stroke="#a8a8a8" stroke-width="0.55"/>
<rect x="298" y="134.3" width="5.399999999999977" height="105.19999999999999" fill="url(#gpv)"/>
<text x="304.10" y="140.60" font-size="8.5" text-anchor="start" font-weight="normal" fill="#111" >225</text>
<text x="304.10" y="239.20" font-size="8.5" text-anchor="start" font-weight="normal" fill="#111" >0</text>
<g shape-rendering="crispEdges"><path fill="#3d3799" d="M443.1 138.1h2.1v2.1h-2.1zM447 138.1h2.1v2.1h-2.1zM450.8 138.1h2.1v2.1h-2.1zM443.1 141.9h4v2.1h-4zM448.9 141.9h5.9v2.1h-5.9zM456.5 141.9h2.1v2.1h-2.1zM450.8 145.8h11.6v2.1h-11.6zM464.2 145.8h2.1v2.1h-2.1zM450.8 149.6h4v2.1h-4zM456.5 149.6h9.7v2.1h-9.7zM454.6 153.4h5.9v2.1h-5.9zM462.3 153.4h2.1v2.1h-2.1zM466.1 153.4h4v2.1h-4zM458.4 157.2h2.1v2.1h-2.1zM462.3 157.2h9.7v2.1h-9.7zM464.2 161.1h7.8v2.1h-7.8zM460.3 164.9h5.9v2.1h-5.9zM469.9 164.9h4v2.1h-4zM468 168.7h2.1v2.1h-2.1zM471.8 168.7h4v2.1h-4zM468 172.5h5.9v2.1h-5.9zM475.6 172.5h2.1v2.1h-2.1zM471.8 176.3h7.8v2.1h-7.8zM469.9 180.2h2.1v2.1h-2.1zM473.7 180.2h4v2.1h-4zM477.6 184h2.1v2.1h-2.1zM471.8 187.8h2.1v2.1h-2.1z"/><path fill="#433698" d="M445 138.1h2.1v2.1h-2.1zM447 141.9h2.1v2.1h-2.1zM437.4 145.8h13.5v2.1h-13.5zM435.5 149.6h2.1v2.1h-2.1zM439.3 149.6h11.6v2.1h-11.6zM454.6 149.6h2.1v2.1h-2.1zM443.1 153.4h11.6v2.1h-11.6zM460.3 153.4h2.1v2.1h-2.1zM464.2 153.4h2.1v2.1h-2.1zM445 157.2h2.1v2.1h-2.1zM450.8 157.2h7.8v2.1h-7.8zM460.3 157.2h2.1v2.1h-2.1zM448.9 161.1h2.1v2.1h-2.1zM452.7 161.1h11.6v2.1h-11.6zM454.6 164.9h2.1v2.1h-2.1zM458.4 164.9h2.1v2.1h-2.1zM466.1 164.9h4v2.1h-4zM456.5 168.7h11.6v2.1h-11.6zM469.9 168.7h2.1v2.1h-2.1zM462.3 172.5h5.9v2.1h-5.9zM473.7 172.5h2.1v2.1h-2.1zM460.3 176.3h11.6v2.1h-11.6zM464.2 180.2h2.1v2.1h-2.1zM468 180.2h2.1v2.1h-2.1zM471.8 180.2h2.1v2.1h-2.1zM464.2 184h13.5v2.1h-13.5zM466.1 187.8h5.9v2.1h-5.9zM473.7 187.8h4v2.1h-4zM468 191.6h9.7v2.1h-9.7zM468 195.4h9.7v2.1h-9.7zM468 199.3h9.7v2.1h-9.7zM473.7 203.1h2.1v2.1h-2.1zM473.7 206.9h4v2.1h-4zM473.7 210.7h2.1v2.1h-2.1zM468 214.6h5.9v2.1h-5.9zM469.9 218.4h2.1v2.1h-2.1zM458.4 222.2h2.1v2.1h-2.1zM468 222.2h2.1v2.1h-2.1z"/><path fill="#3d3799" d="M443.1 140h4v2.1h-4zM452.7 140h2.1v2.1h-2.1zM443.1 143.9h2.1v2.1h-2.1zM448.9 143.9h7.8v2.1h-7.8zM460.3 143.9h2.1v2.1h-2.1zM450.8 147.7h2.1v2.1h-2.1zM454.6 147.7h7.8v2.1h-7.8zM464.2 147.7h2.1v2.1h-2.1zM452.7 151.5h2.1v2.1h-2.1zM460.3 151.5h7.8v2.1h-7.8zM458.4 155.3h2.1v2.1h-2.1zM464.2 155.3h5.9v2.1h-5.9zM456.5 159.1h2.1v2.1h-2.1zM460.3 159.1h9.7v2.1h-9.7zM464.2 163h2.1v2.1h-2.1zM468 163h2.1v2.1h-2.1zM471.8 163h2.1v2.1h-2.1zM462.3 166.8h4v2.1h-4zM468 166.8h7.8v2.1h-7.8zM466.1 170.6h7.8v2.1h-7.8zM468 174.4h2.1v2.1h-2.1zM471.8 174.4h5.9v2.1h-5.9zM469.9 178.3h2.1v2.1h-2.1zM477.6 182.1h2.1v2.1h-2.1zM477.6 201.2h2.1v2.1h-2.1z"/><path fill="#433698" d="M437.4 143.9h2.1v2.1h-2.1zM441.2 143.9h2.1v2.1h-2.1zM445 143.9h4v2.1h-4zM433.6 147.7h17.4v2.1h-17.4zM452.7 147.7h2.1v2.1h-2.1zM439.3 151.5h13.5v2.1h-13.5zM454.6 151.5h5.9v2.1h-5.9zM445 155.3h4v2.1h-4zM450.8 155.3h7.8v2.1h-7.8zM460.3 155.3h4v2.1h-4zM450.8 159.1h5.9v2.1h-5.9zM458.4 159.1h2.1v2.1h-2.1zM452.7 163h2.1v2.1h-2.1zM456.5 163h7.8v2.1h-7.8zM466.1 163h2.1v2.1h-2.1zM469.9 163h2.1v2.1h-2.1zM454.6 166.8h7.8v2.1h-7.8zM466.1 166.8h2.1v2.1h-2.1zM458.4 170.6h2.1v2.1h-2.1zM462.3 170.6h4v2.1h-4zM473.7 170.6h2.1v2.1h-2.1zM458.4 174.4h2.1v2.1h-2.1zM462.3 174.4h5.9v2.1h-5.9zM469.9 174.4h2.1v2.1h-2.1zM462.3 178.3h7.8v2.1h-7.8zM471.8 178.3h5.9v2.1h-5.9zM468 182.1h9.7v2.1h-9.7zM466.1 185.9h11.6v2.1h-11.6zM468 189.7h9.7v2.1h-9.7zM468 193.5h11.6v2.1h-11.6zM471.8 197.4h7.8v2.1h-7.8zM469.9 201.2h7.8v2.1h-7.8zM471.8 205h4v2.1h-4zM471.8 208.8h4v2.1h-4zM471.8 212.6h2.1v2.1h-2.1zM469.9 216.5h2.1v2.1h-2.1zM464.2 220.3h2.1v2.1h-2.1zM456.5 224.1h2.1v2.1h-2.1zM462.3 224.1h4v2.1h-4z"/><path fill="#483597" d="M437.4 149.6h2.1v2.1h-2.1zM429.7 153.4h13.5v2.1h-13.5zM441.2 157.2h4v2.1h-4zM447 157.2h4v2.1h-4zM427.8 161.1h2.1v2.1h-2.1zM445 161.1h4v2.1h-4zM450.8 161.1h2.1v2.1h-2.1zM448.9 164.9h5.9v2.1h-5.9zM456.5 164.9h2.1v2.1h-2.1zM454.6 168.7h2.1v2.1h-2.1zM456.5 172.5h5.9v2.1h-5.9zM458.4 176.3h2.1v2.1h-2.1zM458.4 180.2h5.9v2.1h-5.9zM466.1 180.2h2.1v2.1h-2.1zM460.3 184h4v2.1h-4zM464.2 187.8h2.1v2.1h-2.1zM464.2 191.6h4v2.1h-4zM464.2 195.4h4v2.1h-4zM466.1 199.3h2.1v2.1h-2.1zM468 203.1h5.9v2.1h-5.9zM466.1 206.9h7.8v2.1h-7.8zM466.1 210.7h5.9v2.1h-5.9zM464.2 214.6h4v2.1h-4zM454.6 218.4h15.5v2.1h-15.5zM462.3 222.2h2.1v2.1h-2.1z"/><path fill="#483597" d="M431.7 151.5h7.8v2.1h-7.8zM431.7 155.3h2.1v2.1h-2.1zM435.5 155.3h9.7v2.1h-9.7zM448.9 155.3h2.1v2.1h-2.1zM443.1 159.1h7.8v2.1h-7.8zM448.9 163h4v2.1h-4zM454.6 163h2.1v2.1h-2.1zM450.8 166.8h4v2.1h-4zM452.7 170.6h5.9v2.1h-5.9zM460.3 170.6h2.1v2.1h-2.1zM456.5 174.4h2.1v2.1h-2.1zM460.3 174.4h2.1v2.1h-2.1zM460.3 178.3h2.1v2.1h-2.1zM460.3 182.1h7.8v2.1h-7.8zM462.3 185.9h4v2.1h-4zM464.2 189.7h4v2.1h-4zM464.2 193.5h4v2.1h-4zM466.1 197.4h5.9v2.1h-5.9zM466.1 201.2h4v2.1h-4zM466.1 205h5.9v2.1h-5.9zM468 208.8h4v2.1h-4zM464.2 212.6h7.8v2.1h-7.8zM452.7 216.5h2.1v2.1h-2.1zM458.4 216.5h2.1v2.1h-2.1zM464.2 216.5h5.9v2.1h-5.9zM454.6 220.3h9.7v2.1h-9.7zM466.1 220.3h2.1v2.1h-2.1z"/><path fill="#4f3499" d="M433.6 155.3h2.1v2.1h-2.1zM429.7 159.1h5.9v2.1h-5.9zM439.3 159.1h4v2.1h-4zM429.7 163h2.1v2.1h-2.1zM443.1 163h5.9v2.1h-5.9zM427.8 166.8h2.1v2.1h-2.1zM447 166.8h4v2.1h-4zM450.8 170.6h2.1v2.1h-2.1zM454.6 174.4h2.1v2.1h-2.1zM456.5 178.3h4v2.1h-4zM458.4 182.1h2.1v2.1h-2.1zM460.3 185.9h2.1v2.1h-2.1zM462.3 189.7h2.1v2.1h-2.1zM462.3 193.5h2.1v2.1h-2.1zM464.2 197.4h2.1v2.1h-2.1zM464.2 201.2h2.1v2.1h-2.1zM464.2 205h2.1v2.1h-2.1zM462.3 208.8h5.9v2.1h-5.9zM450.8 212.6h5.9v2.1h-5.9zM460.3 212.6h4v2.1h-4zM454.6 216.5h4v2.1h-4zM460.3 216.5h4v2.1h-4z"/><path fill="#4f3499" d="M431.7 157.2h9.7v2.1h-9.7zM429.7 161.1h2.1v2.1h-2.1zM441.2 161.1h4v2.1h-4zM427.8 164.9h4v2.1h-4zM447 164.9h2.1v2.1h-2.1zM450.8 168.7h4v2.1h-4zM452.7 172.5h4v2.1h-4zM454.6 176.3h4v2.1h-4zM456.5 180.2h2.1v2.1h-2.1zM458.4 184h2.1v2.1h-2.1zM460.3 187.8h4v2.1h-4zM462.3 191.6h2.1v2.1h-2.1zM462.3 195.4h2.1v2.1h-2.1zM464.2 199.3h2.1v2.1h-2.1zM464.2 203.1h4v2.1h-4zM464.2 206.9h2.1v2.1h-2.1zM460.3 210.7h5.9v2.1h-5.9zM452.7 214.6h11.6v2.1h-11.6z"/><path fill="#56339b" d="M435.5 159.1h4v2.1h-4zM431.7 163h2.1v2.1h-2.1zM437.4 163h5.9v2.1h-5.9zM429.7 166.8h2.1v2.1h-2.1zM429.7 170.6h2.1v2.1h-2.1zM452.7 174.4h2.1v2.1h-2.1zM454.6 178.3h2.1v2.1h-2.1zM456.5 182.1h2.1v2.1h-2.1zM458.4 185.9h2.1v2.1h-2.1zM460.3 189.7h2.1v2.1h-2.1zM460.3 193.5h2.1v2.1h-2.1zM462.3 197.4h2.1v2.1h-2.1zM462.3 201.2h2.1v2.1h-2.1zM462.3 205h2.1v2.1h-2.1zM448.9 208.8h4v2.1h-4zM458.4 208.8h4v2.1h-4zM456.5 212.6h4v2.1h-4z"/><path fill="#56339b" d="M431.7 161.1h9.7v2.1h-9.7zM443.1 164.9h4v2.1h-4zM429.7 168.7h2.1v2.1h-2.1zM448.9 168.7h2.1v2.1h-2.1zM450.8 172.5h2.1v2.1h-2.1zM452.7 176.3h2.1v2.1h-2.1zM454.6 180.2h2.1v2.1h-2.1zM458.4 187.8h2.1v2.1h-2.1zM460.3 191.6h2.1v2.1h-2.1zM462.3 199.3h2.1v2.1h-2.1zM462.3 203.1h2.1v2.1h-2.1zM462.3 206.9h2.1v2.1h-2.1zM450.8 210.7h9.7v2.1h-9.7z"/><path fill="#5e329c" d="M433.6 163h4v2.1h-4zM431.7 166.8h4v2.1h-4zM443.1 166.8h4v2.1h-4zM431.7 170.6h2.1v2.1h-2.1zM448.9 170.6h2.1v2.1h-2.1zM431.7 174.4h2.1v2.1h-2.1zM450.8 174.4h2.1v2.1h-2.1zM452.7 178.3h2.1v2.1h-2.1zM454.6 182.1h2.1v2.1h-2.1zM456.5 185.9h2.1v2.1h-2.1zM458.4 189.7h2.1v2.1h-2.1zM460.3 197.4h2.1v2.1h-2.1zM460.3 201.2h2.1v2.1h-2.1zM447 205h2.1v2.1h-2.1zM460.3 205h2.1v2.1h-2.1zM452.7 208.8h5.9v2.1h-5.9z"/><path fill="#5e329c" d="M431.7 164.9h5.9v2.1h-5.9zM439.3 164.9h4v2.1h-4zM431.7 168.7h2.1v2.1h-2.1zM445 168.7h4v2.1h-4zM431.7 172.5h2.1v2.1h-2.1zM448.9 172.5h2.1v2.1h-2.1zM456.5 184h2.1v2.1h-2.1zM458.4 191.6h2.1v2.1h-2.1zM460.3 195.4h2.1v2.1h-2.1zM460.3 199.3h2.1v2.1h-2.1zM460.3 203.1h2.1v2.1h-2.1zM448.9 206.9h4v2.1h-4zM458.4 206.9h4v2.1h-4z"/><path fill="#66319d" d="M437.4 164.9h2.1v2.1h-2.1zM433.6 168.7h2.1v2.1h-2.1zM443.1 168.7h2.1v2.1h-2.1zM433.6 172.5h2.1v2.1h-2.1zM447 172.5h2.1v2.1h-2.1zM433.6 176.3h2.1v2.1h-2.1zM450.8 176.3h2.1v2.1h-2.1zM452.7 180.2h2.1v2.1h-2.1zM456.5 187.8h2.1v2.1h-2.1zM458.4 195.4h2.1v2.1h-2.1zM458.4 199.3h2.1v2.1h-2.1zM447 203.1h2.1v2.1h-2.1zM458.4 203.1h2.1v2.1h-2.1zM452.7 206.9h5.9v2.1h-5.9z"/><path fill="#66319d" d="M435.5 166.8h7.8v2.1h-7.8zM447 170.6h2.1v2.1h-2.1zM433.6 174.4h2.1v2.1h-2.1zM448.9 174.4h2.1v2.1h-2.1zM433.6 178.3h2.1v2.1h-2.1zM458.4 193.5h2.1v2.1h-2.1zM445 201.2h2.1v2.1h-2.1zM458.4 201.2h2.1v2.1h-2.1zM448.9 205h4v2.1h-4zM458.4 205h2.1v2.1h-2.1z"/><path fill="#6f309e" d="M435.5 168.7h4v2.1h-4zM441.2 168.7h2.1v2.1h-2.1zM454.6 184h2.1v2.1h-2.1zM456.5 191.6h2.1v2.1h-2.1zM448.9 203.1h2.1v2.1h-2.1z"/><path fill="#782f9f" d="M439.3 168.7h2.1v2.1h-2.1zM435.5 172.5h2.1v2.1h-2.1zM445 172.5h2.1v2.1h-2.1zM448.9 176.3h2.1v2.1h-2.1zM435.5 180.2h2.1v2.1h-2.1zM454.6 187.8h2.1v2.1h-2.1zM445 199.3h2.1v2.1h-2.1zM456.5 199.3h2.1v2.1h-2.1zM450.8 203.1h2.1v2.1h-2.1zM454.6 203.1h4v2.1h-4z"/><path fill="#6f309e" d="M433.6 170.6h4v2.1h-4zM445 170.6h2.1v2.1h-2.1zM450.8 178.3h2.1v2.1h-2.1zM435.5 182.1h2.1v2.1h-2.1zM452.7 182.1h2.1v2.1h-2.1zM454.6 185.9h2.1v2.1h-2.1zM456.5 189.7h2.1v2.1h-2.1zM443.1 197.4h2.1v2.1h-2.1zM458.4 197.4h2.1v2.1h-2.1zM447 201.2h2.1v2.1h-2.1zM452.7 205h5.9v2.1h-5.9z"/><path fill="#782f9f" d="M437.4 170.6h2.1v2.1h-2.1zM443.1 170.6h2.1v2.1h-2.1zM435.5 174.4h2.1v2.1h-2.1zM447 174.4h2.1v2.1h-2.1zM435.5 178.3h2.1v2.1h-2.1zM437.4 185.9h2.1v2.1h-2.1zM439.3 189.7h2.1v2.1h-2.1zM441.2 193.5h2.1v2.1h-2.1zM456.5 193.5h2.1v2.1h-2.1zM456.5 197.4h2.1v2.1h-2.1zM456.5 201.2h2.1v2.1h-2.1z"/><path fill="#832e9e" d="M439.3 170.6h4v2.1h-4zM454.6 189.7h2.1v2.1h-2.1zM445 197.4h2.1v2.1h-2.1zM448.9 201.2h2.1v2.1h-2.1zM454.6 201.2h2.1v2.1h-2.1z"/><path fill="#832e9e" d="M437.4 172.5h2.1v2.1h-2.1zM435.5 176.3h2.1v2.1h-2.1zM450.8 180.2h2.1v2.1h-2.1zM437.4 184h2.1v2.1h-2.1zM452.7 184h2.1v2.1h-2.1zM441.2 191.6h2.1v2.1h-2.1zM443.1 195.4h2.1v2.1h-2.1zM456.5 195.4h2.1v2.1h-2.1zM447 199.3h2.1v2.1h-2.1zM452.7 203.1h2.1v2.1h-2.1z"/><path fill="#9a2a9d" d="M439.3 172.5h4v2.1h-4zM437.4 176.3h2.1v2.1h-2.1zM454.6 195.4h2.1v2.1h-2.1z"/><path fill="#8f2c9e" d="M443.1 172.5h2.1v2.1h-2.1zM447 176.3h2.1v2.1h-2.1zM437.4 180.2h2.1v2.1h-2.1zM439.3 187.8h2.1v2.1h-2.1zM454.6 191.6h2.1v2.1h-2.1zM454.6 199.3h2.1v2.1h-2.1z"/><path fill="#9a2a9d" d="M437.4 174.4h2.1v2.1h-2.1zM437.4 178.3h2.1v2.1h-2.1zM439.3 185.9h2.1v2.1h-2.1zM443.1 193.5h2.1v2.1h-2.1zM454.6 193.5h2.1v2.1h-2.1zM454.6 197.4h2.1v2.1h-2.1z"/><path fill="#af2999" d="M439.3 174.4h2.1v2.1h-2.1zM443.1 174.4h2.1v2.1h-2.1zM447 178.3h2.1v2.1h-2.1z"/><path fill="#b72b96" d="M441.2 174.4h2.1v2.1h-2.1zM452.7 189.7h2.1v2.1h-2.1z"/><path fill="#8f2c9e" d="M445 174.4h2.1v2.1h-2.1zM448.9 178.3h2.1v2.1h-2.1zM437.4 182.1h2.1v2.1h-2.1zM450.8 182.1h2.1v2.1h-2.1zM452.7 185.9h2.1v2.1h-2.1zM450.8 201.2h4v2.1h-4z"/><path fill="#c02c92" d="M439.3 176.3h2.1v2.1h-2.1z"/><path fill="#cf3f84" d="M441.2 176.3h2.1v2.1h-2.1zM447 180.2h2.1v2.1h-2.1z"/><path fill="#ca3888" d="M443.1 176.3h2.1v2.1h-2.1z"/><path fill="#af2999" d="M445 176.3h2.1v2.1h-2.1zM439.3 184h2.1v2.1h-2.1zM450.8 184h2.1v2.1h-2.1zM452.7 199.3h2.1v2.1h-2.1z"/><path fill="#c5328d" d="M439.3 178.3h2.1v2.1h-2.1zM450.8 185.9h2.1v2.1h-2.1zM445 193.5h2.1v2.1h-2.1zM450.8 197.4h2.1v2.1h-2.1z"/><path fill="#dd5776" d="M441.2 178.3h4v2.1h-4z"/><path fill="#d4457f" d="M445 178.3h2.1v2.1h-2.1zM443.1 189.7h2.1v2.1h-2.1z"/><path fill="#c5328d" d="M439.3 180.2h2.1v2.1h-2.1zM452.7 191.6h2.1v2.1h-2.1zM447 195.4h2.1v2.1h-2.1zM452.7 195.4h2.1v2.1h-2.1z"/><path fill="#e3646a" d="M441.2 180.2h2.1v2.1h-2.1zM450.8 191.6h2.1v2.1h-2.1z"/><path fill="#f28a48" d="M443.1 180.2h2.1v2.1h-2.1z"/><path fill="#ea715b" d="M445 180.2h2.1v2.1h-2.1z"/><path fill="#a6289c" d="M448.9 180.2h2.1v2.1h-2.1zM452.7 187.8h2.1v2.1h-2.1zM445 195.4h2.1v2.1h-2.1zM448.9 199.3h4v2.1h-4z"/><path fill="#c02c92" d="M439.3 182.1h2.1v2.1h-2.1zM448.9 182.1h2.1v2.1h-2.1zM448.9 197.4h2.1v2.1h-2.1zM452.7 197.4h2.1v2.1h-2.1z"/><path fill="#e3646a" d="M441.2 182.1h2.1v2.1h-2.1zM450.8 193.5h2.1v2.1h-2.1z"/><path fill="#f6be2e" d="M443.1 182.1h4v2.1h-4z"/><path fill="#e66a62" d="M447 182.1h2.1v2.1h-2.1z"/><path fill="#da5179" d="M441.2 184h2.1v2.1h-2.1zM448.9 184h2.1v2.1h-2.1zM448.9 195.4h2.1v2.1h-2.1z"/><path fill="#f6cb2a" d="M443.1 184h2.1v2.1h-2.1z"/><path fill="#e9e62a" d="M445 184h2.1v2.1h-2.1zM447 187.8h2.1v2.1h-2.1z"/><path fill="#f7b032" d="M447 184h2.1v2.1h-2.1zM448.9 191.6h2.1v2.1h-2.1z"/><path fill="#cf3f84" d="M441.2 185.9h2.1v2.1h-2.1z"/><path fill="#f69c3d" d="M443.1 185.9h2.1v2.1h-2.1z"/><path fill="#e9e62a" d="M445 185.9h4v2.1h-4zM447 189.7h2.1v2.1h-2.1z"/><path fill="#ec7955" d="M448.9 185.9h2.1v2.1h-2.1zM448.9 193.5h2.1v2.1h-2.1z"/><path fill="#b72b96" d="M441.2 187.8h2.1v2.1h-2.1zM443.1 191.6h2.1v2.1h-2.1z"/><path fill="#e66a62" d="M443.1 187.8h2.1v2.1h-2.1z"/><path fill="#ede029" d="M445 187.8h2.1v2.1h-2.1z"/><path fill="#f7a537" d="M448.9 187.8h2.1v2.1h-2.1z"/><path fill="#d4457f" d="M450.8 187.8h2.1v2.1h-2.1z"/><path fill="#a6289c" d="M441.2 189.7h2.1v2.1h-2.1zM447 197.4h2.1v2.1h-2.1z"/><path fill="#f49342" d="M445 189.7h2.1v2.1h-2.1z"/><path fill="#f6cb2a" d="M448.9 189.7h2.1v2.1h-2.1z"/><path fill="#e05d71" d="M450.8 189.7h2.1v2.1h-2.1zM447 193.5h2.1v2.1h-2.1z"/><path fill="#dd5776" d="M445 191.6h2.1v2.1h-2.1z"/><path fill="#f69c3d" d="M447 191.6h2.1v2.1h-2.1z"/><path fill="#ca3888" d="M452.7 193.5h2.1v2.1h-2.1z"/><path fill="#d74b7c" d="M450.8 195.4h2.1v2.1h-2.1z"/></g>
<rect x="408.6" y="134.3" width="105.19999999999993" height="105.19999999999999" fill="none" stroke="#b0b0b0" stroke-width="0.8"/>
<path d="M408.6 134.3 L461.2 239.5 L513.8 134.3" fill="none" stroke="#a8a8a8" stroke-width="0.55"/>
<rect x="518" y="134.3" width="5.2000000000000455" height="105.19999999999999" fill="url(#gpv)"/>
<text x="523.90" y="140.60" font-size="8.5" text-anchor="start" font-weight="normal" fill="#111" >700</text>
<text x="523.90" y="239.20" font-size="8.5" text-anchor="start" font-weight="normal" fill="#111" >0</text>
<g shape-rendering="crispEdges"><path fill="#483597" d="M555.3 134.3h3.3v3.3h-3.3zM599.9 134.3h3.3v3.3h-3.3zM615.9 134.3h12.9v3.3h-12.9zM625.4 147h3.3v3.3h-3.3zM564.9 153.4h3.3v3.3h-3.3zM625.4 153.4h3.3v3.3h-3.3zM628.6 159.8h3.3v3.3h-3.3zM571.2 166.1h3.3v3.3h-3.3zM625.4 166.1h3.3v3.3h-3.3zM631.8 166.1h3.3v3.3h-3.3zM628.6 172.5h6.5v3.3h-6.5zM638.2 172.5h3.3v3.3h-3.3zM577.6 178.9h3.3v3.3h-3.3zM625.4 178.9h6.5v3.3h-6.5zM628.6 185.3h6.5v3.3h-6.5zM584 191.6h3.3v3.3h-3.3zM622.2 204.4h3.3v3.3h-3.3zM606.3 229.8h3.3v3.3h-3.3z"/><path fill="#a6289c" d="M558.5 134.3h3.3v3.3h-3.3zM580.8 147h3.3v3.3h-3.3zM584 153.4h3.3v3.3h-3.3zM593.6 172.5h3.3v3.3h-3.3z"/><path fill="#ea715b" d="M561.7 134.3h3.3v3.3h-3.3z"/><path fill="#cf3f84" d="M564.9 134.3h3.3v3.3h-3.3z"/><path fill="#d74b7c" d="M568.1 134.3h3.3v3.3h-3.3zM577.6 147h3.3v3.3h-3.3zM580.8 159.8h3.3v3.3h-3.3zM587.2 172.5h3.3v3.3h-3.3z"/><path fill="#af2999" d="M571.2 134.3h3.3v3.3h-3.3zM574.4 166.1h3.3v3.3h-3.3zM577.6 172.5h3.3v3.3h-3.3zM593.6 185.3h3.3v3.3h-3.3zM599.9 198h3.3v3.3h-3.3z"/><path fill="#782f9f" d="M574.4 134.3h3.3v3.3h-3.3zM593.6 153.4h3.3v3.3h-3.3zM593.6 159.8h3.3v3.3h-3.3zM593.6 166.1h6.5v3.3h-6.5zM584 185.3h3.3v3.3h-3.3zM599.9 185.3h3.3v3.3h-3.3zM599.9 191.6h3.3v3.3h-3.3zM593.6 204.4h3.3v3.3h-3.3zM599.9 210.7h3.3v3.3h-3.3z"/><path fill="#6f309e" d="M577.6 134.3h3.3v3.3h-3.3zM587.2 140.7h3.3v3.3h-3.3zM590.4 147h3.3v3.3h-3.3zM603.1 153.4h3.3v3.3h-3.3zM603.1 166.1h3.3v3.3h-3.3zM599.9 172.5h6.5v3.3h-6.5zM596.7 178.9h9.7v3.3h-9.7zM603.1 191.6h3.3v3.3h-3.3zM606.3 198h3.3v3.3h-3.3zM606.3 204.4h3.3v3.3h-3.3zM606.3 210.7h3.3v3.3h-3.3zM606.3 217.1h3.3v3.3h-3.3z"/><path fill="#56339b" d="M580.8 134.3h3.3v3.3h-3.3zM590.4 134.3h3.3v3.3h-3.3zM609.5 140.7h3.3v3.3h-3.3zM615.9 140.7h3.3v3.3h-3.3zM603.1 147h3.3v3.3h-3.3zM609.5 147h6.5v3.3h-6.5zM606.3 153.4h3.3v3.3h-3.3zM612.7 153.4h9.7v3.3h-9.7zM609.5 159.8h16.1v3.3h-16.1zM612.7 166.1h3.3v3.3h-3.3zM619.1 166.1h3.3v3.3h-3.3zM612.7 172.5h3.3v3.3h-3.3zM619.1 172.5h3.3v3.3h-3.3zM619.1 178.9h3.3v3.3h-3.3zM606.3 185.3h3.3v3.3h-3.3zM612.7 185.3h6.5v3.3h-6.5zM622.2 185.3h3.3v3.3h-3.3zM609.5 191.6h6.5v3.3h-6.5zM619.1 191.6h6.5v3.3h-6.5zM609.5 198h3.3v3.3h-3.3zM615.9 198h6.5v3.3h-6.5zM625.4 198h3.3v3.3h-3.3zM612.7 204.4h6.5v3.3h-6.5zM596.7 210.7h3.3v3.3h-3.3zM612.7 210.7h9.7v3.3h-9.7zM612.7 223.5h3.3v3.3h-3.3z"/><path fill="#5e329c" d="M584 134.3h6.5v3.3h-6.5zM593.6 140.7h3.3v3.3h-3.3zM603.1 140.7h3.3v3.3h-3.3zM596.7 147h6.5v3.3h-6.5zM606.3 147h3.3v3.3h-3.3zM599.9 153.4h3.3v3.3h-3.3zM609.5 153.4h3.3v3.3h-3.3zM603.1 159.8h6.5v3.3h-6.5zM609.5 166.1h3.3v3.3h-3.3zM609.5 172.5h3.3v3.3h-3.3zM612.7 178.9h3.3v3.3h-3.3zM609.5 185.3h3.3v3.3h-3.3zM609.5 204.4h3.3v3.3h-3.3zM612.7 217.1h3.3v3.3h-3.3zM609.5 229.8h3.3v3.3h-3.3z"/><path fill="#4f3499" d="M593.6 134.3h6.5v3.3h-6.5zM609.5 134.3h6.5v3.3h-6.5zM558.5 140.7h3.3v3.3h-3.3zM606.3 140.7h3.3v3.3h-3.3zM612.7 140.7h3.3v3.3h-3.3zM625.4 140.7h3.3v3.3h-3.3zM561.7 147h3.3v3.3h-3.3zM615.9 147h3.3v3.3h-3.3zM622.2 153.4h3.3v3.3h-3.3zM568.1 159.8h3.3v3.3h-3.3zM625.4 159.8h3.3v3.3h-3.3zM615.9 166.1h3.3v3.3h-3.3zM622.2 166.1h3.3v3.3h-3.3zM628.6 166.1h3.3v3.3h-3.3zM615.9 172.5h3.3v3.3h-3.3zM622.2 172.5h6.5v3.3h-6.5zM635 172.5h3.3v3.3h-3.3zM615.9 178.9h3.3v3.3h-3.3zM622.2 178.9h3.3v3.3h-3.3zM631.8 178.9h6.5v3.3h-6.5zM619.1 185.3h3.3v3.3h-3.3zM625.4 185.3h3.3v3.3h-3.3zM615.9 191.6h3.3v3.3h-3.3zM625.4 191.6h6.5v3.3h-6.5zM622.2 198h3.3v3.3h-3.3zM619.1 204.4h3.3v3.3h-3.3zM599.9 217.1h3.3v3.3h-3.3zM615.9 217.1h3.3v3.3h-3.3zM603.1 223.5h3.3v3.3h-3.3z"/><path fill="#3d3799" d="M654.1 134.3h3.3v3.3h-3.3zM638.2 140.7h6.5v3.3h-6.5zM654.1 140.7h3.3v3.3h-3.3zM638.2 147h3.3v3.3h-3.3zM647.7 153.4h3.3v3.3h-3.3zM635 166.1h3.3v3.3h-3.3zM641.4 166.1h3.3v3.3h-3.3zM596.7 217.1h3.3v3.3h-3.3zM606.3 236.2h3.3v3.3h-3.3z"/><path fill="#3d3799" d="M555.3 137.5h3.3v3.3h-3.3zM654.1 137.5h3.3v3.3h-3.3zM641.4 150.2h3.3v3.3h-3.3zM584 194.8h3.3v3.3h-3.3zM587.2 201.2h3.3v3.3h-3.3zM593.6 213.9h3.3v3.3h-3.3zM596.7 220.3h3.3v3.3h-3.3zM599.9 226.7h3.3v3.3h-3.3zM603.1 233h3.3v3.3h-3.3z"/><path fill="#5e329c" d="M558.5 137.5h3.3v3.3h-3.3zM587.2 137.5h6.5v3.3h-6.5zM603.1 137.5h3.3v3.3h-3.3zM606.3 143.9h6.5v3.3h-6.5zM606.3 150.2h6.5v3.3h-6.5zM599.9 156.6h3.3v3.3h-3.3zM606.3 156.6h3.3v3.3h-3.3zM612.7 163h3.3v3.3h-3.3zM574.4 169.3h3.3v3.3h-3.3zM606.3 169.3h9.7v3.3h-9.7zM577.6 175.7h3.3v3.3h-3.3zM612.7 175.7h3.3v3.3h-3.3zM606.3 182.1h6.5v3.3h-6.5zM603.1 188.4h3.3v3.3h-3.3zM609.5 188.4h6.5v3.3h-6.5zM612.7 201.2h3.3v3.3h-3.3zM609.5 207.6h3.3v3.3h-3.3zM606.3 220.3h3.3v3.3h-3.3zM609.5 226.7h6.5v3.3h-6.5z"/><path fill="#da5179" d="M561.7 137.5h3.3v3.3h-3.3zM580.8 156.6h3.3v3.3h-3.3z"/><path fill="#e66a62" d="M564.9 137.5h3.3v3.3h-3.3zM574.4 143.9h3.3v3.3h-3.3zM584 169.3h3.3v3.3h-3.3zM587.2 175.7h3.3v3.3h-3.3z"/><path fill="#e05d71" d="M568.1 137.5h3.3v3.3h-3.3zM577.6 150.2h3.3v3.3h-3.3z"/><path fill="#d74b7c" d="M571.2 137.5h3.3v3.3h-3.3zM590.4 188.4h3.3v3.3h-3.3z"/><path fill="#a6289c" d="M574.4 137.5h3.3v3.3h-3.3zM587.2 188.4h3.3v3.3h-3.3zM596.7 188.4h3.3v3.3h-3.3z"/><path fill="#8f2c9e" d="M577.6 137.5h3.3v3.3h-3.3zM584 143.9h3.3v3.3h-3.3zM584 150.2h6.5v3.3h-6.5zM593.6 169.3h3.3v3.3h-3.3zM603.1 207.6h3.3v3.3h-3.3z"/><path fill="#832e9e" d="M580.8 137.5h3.3v3.3h-3.3zM587.2 143.9h6.5v3.3h-6.5zM590.4 150.2h3.3v3.3h-3.3zM590.4 163h6.5v3.3h-6.5zM596.7 169.3h3.3v3.3h-3.3zM599.9 188.4h3.3v3.3h-3.3zM596.7 207.6h3.3v3.3h-3.3zM603.1 213.9h6.5v3.3h-6.5z"/><path fill="#782f9f" d="M584 137.5h3.3v3.3h-3.3zM564.9 150.2h3.3v3.3h-3.3zM590.4 156.6h3.3v3.3h-3.3zM596.7 156.6h3.3v3.3h-3.3zM599.9 163h3.3v3.3h-3.3zM596.7 182.1h3.3v3.3h-3.3z"/><path fill="#4f3499" d="M593.6 137.5h3.3v3.3h-3.3zM606.3 137.5h16.1v3.3h-16.1zM625.4 137.5h3.3v3.3h-3.3zM625.4 143.9h3.3v3.3h-3.3zM625.4 150.2h3.3v3.3h-3.3zM612.7 156.6h9.7v3.3h-9.7zM628.6 156.6h3.3v3.3h-3.3zM615.9 163h9.7v3.3h-9.7zM628.6 163h3.3v3.3h-3.3zM619.1 169.3h6.5v3.3h-6.5zM622.2 175.7h9.7v3.3h-9.7zM625.4 182.1h3.3v3.3h-3.3zM635 182.1h3.3v3.3h-3.3zM615.9 194.8h6.5v3.3h-6.5zM625.4 194.8h3.3v3.3h-3.3zM590.4 201.2h3.3v3.3h-3.3zM615.9 201.2h9.7v3.3h-9.7zM615.9 207.6h6.5v3.3h-6.5zM612.7 213.9h6.5v3.3h-6.5zM612.7 220.3h3.3v3.3h-3.3zM606.3 226.7h3.3v3.3h-3.3zM609.5 233h3.3v3.3h-3.3z"/><path fill="#56339b" d="M596.7 137.5h6.5v3.3h-6.5zM612.7 143.9h6.5v3.3h-6.5zM612.7 150.2h6.5v3.3h-6.5zM609.5 156.6h3.3v3.3h-3.3zM622.2 156.6h3.3v3.3h-3.3zM606.3 163h6.5v3.3h-6.5zM615.9 169.3h3.3v3.3h-3.3zM625.4 169.3h3.3v3.3h-3.3zM615.9 175.7h6.5v3.3h-6.5zM612.7 182.1h12.9v3.3h-12.9zM584 188.4h3.3v3.3h-3.3zM615.9 188.4h6.5v3.3h-6.5zM587.2 194.8h3.3v3.3h-3.3zM609.5 194.8h6.5v3.3h-6.5zM622.2 194.8h3.3v3.3h-3.3zM612.7 207.6h3.3v3.3h-3.3z"/><path fill="#483597" d="M622.2 137.5h3.3v3.3h-3.3zM625.4 156.6h3.3v3.3h-3.3zM625.4 163h3.3v3.3h-3.3zM628.6 169.3h9.7v3.3h-9.7zM631.8 175.7h9.7v3.3h-9.7zM628.6 182.1h6.5v3.3h-6.5zM622.2 188.4h12.9v3.3h-12.9zM628.6 194.8h3.3v3.3h-3.3zM625.4 201.2h3.3v3.3h-3.3zM593.6 207.6h3.3v3.3h-3.3zM622.2 207.6h3.3v3.3h-3.3zM596.7 213.9h3.3v3.3h-3.3zM619.1 213.9h3.3v3.3h-3.3zM599.9 220.3h3.3v3.3h-3.3z"/><path fill="#c02c92" d="M561.7 140.7h3.3v3.3h-3.3zM574.4 140.7h6.5v3.3h-6.5zM564.9 147h3.3v3.3h-3.3zM580.8 153.4h3.3v3.3h-3.3zM571.2 159.8h3.3v3.3h-3.3zM587.2 166.1h3.3v3.3h-3.3zM593.6 178.9h3.3v3.3h-3.3zM593.6 198h3.3v3.3h-3.3zM599.9 204.4h3.3v3.3h-3.3z"/><path fill="#f7a537" d="M564.9 140.7h3.3v3.3h-3.3z"/><path fill="#ec7955" d="M568.1 140.7h6.5v3.3h-6.5zM577.6 153.4h3.3v3.3h-3.3zM587.2 178.9h3.3v3.3h-3.3z"/><path fill="#832e9e" d="M580.8 140.7h6.5v3.3h-6.5zM587.2 153.4h6.5v3.3h-6.5zM596.7 172.5h3.3v3.3h-3.3zM590.4 198h3.3v3.3h-3.3zM603.1 198h3.3v3.3h-3.3zM603.1 210.7h3.3v3.3h-3.3zM603.1 217.1h3.3v3.3h-3.3z"/><path fill="#66319d" d="M590.4 140.7h3.3v3.3h-3.3zM596.7 140.7h6.5v3.3h-6.5zM593.6 147h3.3v3.3h-3.3zM596.7 153.4h3.3v3.3h-3.3zM596.7 159.8h6.5v3.3h-6.5zM599.9 166.1h3.3v3.3h-3.3zM606.3 166.1h3.3v3.3h-3.3zM606.3 172.5h3.3v3.3h-3.3zM606.3 178.9h6.5v3.3h-6.5zM603.1 185.3h3.3v3.3h-3.3zM606.3 191.6h3.3v3.3h-3.3zM612.7 198h3.3v3.3h-3.3zM609.5 210.7h3.3v3.3h-3.3zM609.5 217.1h3.3v3.3h-3.3zM606.3 223.5h6.5v3.3h-6.5z"/><path fill="#433698" d="M558.5 143.9h3.3v3.3h-3.3zM638.2 143.9h3.3v3.3h-3.3zM561.7 150.2h3.3v3.3h-3.3zM628.6 150.2h3.3v3.3h-3.3zM635 150.2h3.3v3.3h-3.3zM644.6 150.2h3.3v3.3h-3.3zM564.9 156.6h3.3v3.3h-3.3zM641.4 156.6h6.5v3.3h-6.5zM580.8 188.4h3.3v3.3h-3.3zM590.4 207.6h3.3v3.3h-3.3zM603.1 226.7h3.3v3.3h-3.3zM606.3 233h3.3v3.3h-3.3z"/><path fill="#66319d" d="M561.7 143.9h3.3v3.3h-3.3zM593.6 143.9h12.9v3.3h-12.9zM596.7 150.2h3.3v3.3h-3.3zM568.1 156.6h3.3v3.3h-3.3zM603.1 156.6h3.3v3.3h-3.3zM596.7 163h3.3v3.3h-3.3zM603.1 163h3.3v3.3h-3.3zM599.9 169.3h6.5v3.3h-6.5zM599.9 175.7h3.3v3.3h-3.3zM606.3 175.7h6.5v3.3h-6.5zM580.8 182.1h3.3v3.3h-3.3zM599.9 182.1h3.3v3.3h-3.3zM606.3 188.4h3.3v3.3h-3.3zM606.3 201.2h6.5v3.3h-6.5zM606.3 207.6h3.3v3.3h-3.3zM609.5 213.9h3.3v3.3h-3.3zM603.1 220.3h3.3v3.3h-3.3zM609.5 220.3h3.3v3.3h-3.3z"/><path fill="#ec7955" d="M564.9 143.9h3.3v3.3h-3.3zM571.2 156.6h3.3v3.3h-3.3zM580.8 163h3.3v3.3h-3.3z"/><path fill="#e9e62a" d="M568.1 143.9h3.3v3.3h-3.3zM571.2 150.2h3.3v3.3h-3.3z"/><path fill="#f6cb2a" d="M571.2 143.9h3.3v3.3h-3.3zM580.8 169.3h3.3v3.3h-3.3z"/><path fill="#ca3888" d="M577.6 143.9h3.3v3.3h-3.3zM580.8 150.2h3.3v3.3h-3.3zM590.4 175.7h3.3v3.3h-3.3zM590.4 194.8h3.3v3.3h-3.3z"/><path fill="#af2999" d="M580.8 143.9h3.3v3.3h-3.3zM587.2 156.6h3.3v3.3h-3.3zM593.6 175.7h3.3v3.3h-3.3zM599.9 194.8h3.3v3.3h-3.3zM593.6 201.2h3.3v3.3h-3.3zM599.9 201.2h3.3v3.3h-3.3z"/><path fill="#e9e62a" d="M568.1 147h3.3v3.3h-3.3z"/><path fill="#f6cb2a" d="M571.2 147h3.3v3.3h-3.3z"/><path fill="#f49342" d="M574.4 147h3.3v3.3h-3.3z"/><path fill="#9a2a9d" d="M584 147h3.3v3.3h-3.3zM587.2 159.8h3.3v3.3h-3.3zM596.7 185.3h3.3v3.3h-3.3zM596.7 191.6h3.3v3.3h-3.3zM596.7 204.4h3.3v3.3h-3.3z"/><path fill="#8f2c9e" d="M587.2 147h3.3v3.3h-3.3zM590.4 159.8h3.3v3.3h-3.3zM590.4 166.1h3.3v3.3h-3.3zM580.8 178.9h3.3v3.3h-3.3zM587.2 191.6h3.3v3.3h-3.3zM603.1 204.4h3.3v3.3h-3.3z"/><path fill="#433698" d="M635 147h3.3v3.3h-3.3zM631.8 153.4h3.3v3.3h-3.3zM641.4 153.4h3.3v3.3h-3.3zM644.6 159.8h3.3v3.3h-3.3zM574.4 172.5h3.3v3.3h-3.3zM580.8 185.3h3.3v3.3h-3.3zM587.2 198h3.3v3.3h-3.3zM590.4 204.4h3.3v3.3h-3.3zM593.6 210.7h3.3v3.3h-3.3zM599.9 223.5h3.3v3.3h-3.3zM603.1 229.8h3.3v3.3h-3.3z"/><path fill="#ea715b" d="M568.1 150.2h3.3v3.3h-3.3z"/><path fill="#f0db28" d="M574.4 150.2h3.3v3.3h-3.3z"/><path fill="#6f309e" d="M593.6 150.2h3.3v3.3h-3.3zM599.9 150.2h6.5v3.3h-6.5zM593.6 156.6h3.3v3.3h-3.3zM571.2 163h3.3v3.3h-3.3zM603.1 175.7h3.3v3.3h-3.3zM603.1 182.1h3.3v3.3h-3.3zM603.1 194.8h6.5v3.3h-6.5zM599.9 213.9h3.3v3.3h-3.3z"/><path fill="#b72b96" d="M568.1 153.4h3.3v3.3h-3.3z"/><path fill="#f7b032" d="M571.2 153.4h6.5v3.3h-6.5zM577.6 166.1h3.3v3.3h-3.3z"/><path fill="#ef824e" d="M574.4 156.6h3.3v3.3h-3.3z"/><path fill="#f7a537" d="M577.6 156.6h3.3v3.3h-3.3zM577.6 163h3.3v3.3h-3.3z"/><path fill="#c5328d" d="M584 156.6h3.3v3.3h-3.3zM596.7 194.8h3.3v3.3h-3.3z"/><path fill="#f6be2e" d="M574.4 159.8h6.5v3.3h-6.5z"/><path fill="#c5328d" d="M584 159.8h3.3v3.3h-3.3zM590.4 172.5h3.3v3.3h-3.3z"/><path fill="#e3646a" d="M574.4 163h3.3v3.3h-3.3zM587.2 182.1h3.3v3.3h-3.3z"/><path fill="#cf3f84" d="M584 163h3.3v3.3h-3.3zM577.6 169.3h3.3v3.3h-3.3zM587.2 169.3h3.3v3.3h-3.3zM590.4 182.1h3.3v3.3h-3.3zM593.6 194.8h3.3v3.3h-3.3z"/><path fill="#9a2a9d" d="M587.2 163h3.3v3.3h-3.3zM590.4 169.3h3.3v3.3h-3.3zM596.7 175.7h3.3v3.3h-3.3zM603.1 201.2h3.3v3.3h-3.3zM599.9 207.6h3.3v3.3h-3.3z"/><path fill="#e66a62" d="M580.8 166.1h3.3v3.3h-3.3zM580.8 172.5h6.5v3.3h-6.5z"/><path fill="#d4457f" d="M584 166.1h3.3v3.3h-3.3zM593.6 191.6h3.3v3.3h-3.3z"/><path fill="#d4457f" d="M580.8 175.7h3.3v3.3h-3.3zM584 182.1h3.3v3.3h-3.3zM596.7 201.2h3.3v3.3h-3.3z"/><path fill="#f28a48" d="M584 175.7h3.3v3.3h-3.3z"/><path fill="#f69c3d" d="M584 178.9h3.3v3.3h-3.3z"/><path fill="#ca3888" d="M590.4 178.9h3.3v3.3h-3.3zM596.7 198h3.3v3.3h-3.3z"/><path fill="#c02c92" d="M593.6 182.1h3.3v3.3h-3.3z"/><path fill="#da5179" d="M587.2 185.3h6.5v3.3h-6.5z"/><path fill="#b72b96" d="M593.6 188.4h3.3v3.3h-3.3z"/><path fill="#e05d71" d="M590.4 191.6h3.3v3.3h-3.3z"/></g>
<rect x="555.4" y="134.3" width="105.10000000000002" height="105.19999999999999" fill="none" stroke="#b0b0b0" stroke-width="0.8"/>
<path d="M555.4 134.3 L607.95 239.5 L660.5 134.3" fill="none" stroke="#a8a8a8" stroke-width="0.55"/>
<rect x="665" y="134.3" width="5.2000000000000455" height="105.19999999999999" fill="url(#gpv)"/>
<text x="670.90" y="140.60" font-size="8.5" text-anchor="start" font-weight="normal" fill="#111" >350</text>
<text x="670.90" y="239.20" font-size="8.5" text-anchor="start" font-weight="normal" fill="#111" >0</text>
<text x="356.00" y="193.00" font-size="8.5" text-anchor="middle" font-weight="normal" fill="#111" >structure</text>
<text x="356.00" y="203.20" font-size="8.5" text-anchor="middle" font-weight="normal" fill="#111" >density</text>
<rect x="326.3" y="208.3" width="62" height="5.5" fill="url(#gph)"/>
<text x="566.60" y="303.00" font-size="8.5" text-anchor="middle" font-weight="normal" fill="#111" >structure</text>
<text x="566.60" y="313.30" font-size="8.5" text-anchor="middle" font-weight="normal" fill="#111" >density</text>
<rect x="536.1" y="318.6" width="62" height="5" fill="url(#gvh)"/>
<text x="359.00" y="687.80" font-size="14.35" text-anchor="middle" font-weight="normal" fill="#111" >Modulation relative to amide, entire molecule</text>
<text transform="translate(106.7,458.5) rotate(-90)" font-size="14.35" text-anchor="middle" fill="#111">Modulation relative to amide, reaction center only</text>
<g><path fill="#471455" d="M206.5 267.6h109.1v107.6h-109.1z"/><path fill="#491259" d="M206.5 348.1h27.5v27.1h-27.5z"/><path fill="#493c82" d="M233.7 321.3h27.5v27.1h-27.5z"/><path fill="#25968a" d="M260.9 294.5h27.5v27.1h-27.5z"/><path fill="#edde2b" d="M288.1 267.6h27.5v27.1h-27.5z"/></g>
<rect x="206.50" y="267.60" width="108.80" height="107.40" fill="none" stroke="#4a4a4a" stroke-width="0.8"/>
<text transform="translate(220.10 386.90) scale(0.945 1)" font-size="10.0" text-anchor="middle" fill="#111">−1</text>
<text transform="translate(247.30 386.90) scale(0.945 1)" font-size="10.0" text-anchor="middle" fill="#111">0</text>
<text transform="translate(274.50 386.90) scale(0.945 1)" font-size="10.0" text-anchor="middle" fill="#111">1</text>
<text transform="translate(301.70 386.90) scale(0.945 1)" font-size="10.0" text-anchor="middle" fill="#111">2</text>
<text transform="translate(202.30 365.18) scale(0.945 1)" font-size="10.0" text-anchor="end" fill="#111">−1</text>
<text transform="translate(202.30 338.33) scale(0.945 1)" font-size="10.0" text-anchor="end" fill="#111">0</text>
<text transform="translate(202.30 311.48) scale(0.945 1)" font-size="10.0" text-anchor="end" fill="#111">1</text>
<text transform="translate(202.30 284.63) scale(0.945 1)" font-size="10.0" text-anchor="end" fill="#111">2</text>
<path d="M220.10 375.00v2.6M247.30 375.00v2.6M274.50 375.00v2.6M301.70 375.00v2.6M206.50 361.57h-2.6M206.50 334.73h-2.6M206.50 307.88h-2.6M206.50 281.03h-2.6" stroke="#4a4a4a" stroke-width="0.7" fill="none"/>
<text x="260.90" y="264.20" font-size="8.4" text-anchor="middle" fill="#111"><tspan font-size="8">∆</tspan><tspan font-weight="bold">HBA</tspan></text>
<rect x="321.40" y="267.60" width="5.70" height="107.40" fill="url(#gvv)" stroke="#333" stroke-width="0.5"/>
<text transform="translate(331.30 378.60) scale(0.945 1)" font-size="10.0" text-anchor="start" fill="#111">0</text>
<text transform="translate(331.30 352.80) scale(0.945 1)" font-size="10.0" text-anchor="start" fill="#111">2000</text>
<text transform="translate(331.30 327.00) scale(0.945 1)" font-size="10.0" text-anchor="start" fill="#111">4000</text>
<text transform="translate(331.30 301.20) scale(0.945 1)" font-size="10.0" text-anchor="start" fill="#111">6000</text>
<text transform="translate(331.30 275.40) scale(0.945 1)" font-size="10.0" text-anchor="start" fill="#111">8000</text>
<path d="M327.10 375.00h2.6M327.10 349.20h2.6M327.10 323.40h2.6M327.10 297.60h2.6M327.10 271.80h2.6" stroke="#4a4a4a" stroke-width="0.6" fill="none"/>
<g><path fill="#471455" d="M376.5 267.6h108.8v107.6h-108.8z"/><path fill="#2b828d" d="M376.5 348.1h27.4v27.1h-27.4z"/><path fill="#edde2b" d="M403.6 321.3h27.4v27.1h-27.4z"/><path fill="#25978a" d="M430.8 294.5h27.4v27.1h-27.4z"/><path fill="#4a347d" d="M457.9 267.6h27.4v27.1h-27.4z"/></g>
<rect x="376.50" y="267.60" width="108.50" height="107.40" fill="none" stroke="#4a4a4a" stroke-width="0.8"/>
<text transform="translate(390.10 386.90) scale(0.945 1)" font-size="10.0" text-anchor="middle" fill="#111">−1</text>
<text transform="translate(417.30 386.90) scale(0.945 1)" font-size="10.0" text-anchor="middle" fill="#111">0</text>
<text transform="translate(444.50 386.90) scale(0.945 1)" font-size="10.0" text-anchor="middle" fill="#111">1</text>
<text transform="translate(471.70 386.90) scale(0.945 1)" font-size="10.0" text-anchor="middle" fill="#111">2</text>
<text transform="translate(372.30 365.18) scale(0.945 1)" font-size="10.0" text-anchor="end" fill="#111">−1</text>
<text transform="translate(372.30 338.33) scale(0.945 1)" font-size="10.0" text-anchor="end" fill="#111">0</text>
<text transform="translate(372.30 311.48) scale(0.945 1)" font-size="10.0" text-anchor="end" fill="#111">1</text>
<text transform="translate(372.30 284.63) scale(0.945 1)" font-size="10.0" text-anchor="end" fill="#111">2</text>
<path d="M390.10 375.00v2.6M417.30 375.00v2.6M444.50 375.00v2.6M471.70 375.00v2.6M376.50 361.57h-2.6M376.50 334.73h-2.6M376.50 307.88h-2.6M376.50 281.03h-2.6" stroke="#4a4a4a" stroke-width="0.7" fill="none"/>
<text x="430.75" y="264.20" font-size="8.4" text-anchor="middle" fill="#111"><tspan font-size="8">∆</tspan><tspan font-weight="bold">HBD</tspan></text>
<rect x="491.30" y="267.60" width="5.80" height="107.40" fill="url(#gvv)" stroke="#333" stroke-width="0.5"/>
<text transform="translate(501.30 378.60) scale(0.945 1)" font-size="10.0" text-anchor="start" fill="#111">0</text>
<text transform="translate(501.30 346.40) scale(0.945 1)" font-size="10.0" text-anchor="start" fill="#111">2000</text>
<text transform="translate(501.30 314.20) scale(0.945 1)" font-size="10.0" text-anchor="start" fill="#111">4000</text>
<text transform="translate(501.30 282.00) scale(0.945 1)" font-size="10.0" text-anchor="start" fill="#111">6000</text>
<path d="M497.10 375.00h2.6M497.10 342.80h2.6M497.10 310.60h2.6M497.10 278.40h2.6" stroke="#4a4a4a" stroke-width="0.6" fill="none"/>
<g><path fill="#f6e12a" d="M240.8 417.6h5.2v4.5h-5.2z"/><path fill="#efe026" d="M235.8 421.9h5.2v4.5h-5.2z"/><path fill="#2b828d" d="M230.9 426.2h5.2v4.5h-5.2zM201.4 460.5h5.2v4.5h-5.2z"/><path fill="#60c564" d="M201.4 434.8h5.2v4.5h-5.2z"/><path fill="#259c88" d="M206.4 434.8h5.2v4.5h-5.2zM226 434.8h5.2v4.5h-5.2zM186.7 451.9h5.2v4.5h-5.2z"/><path fill="#6dc85c" d="M221.1 434.8h5.2v4.5h-5.2z"/><path fill="#28a684" d="M201.4 439h5.2v4.5h-5.2zM181.8 456.2h5.2v4.5h-5.2z"/><path fill="#28a684" d="M216.2 439h5.2v4.5h-5.2zM186.7 456.2h5.2v4.5h-5.2z"/><path fill="#b5d82e" d="M221.1 439h5.2v4.5h-5.2z"/><path fill="#27908b" d="M196.5 443.3h5.2v4.5h-5.2z"/><path fill="#60c564" d="M216.2 443.3h5.2v4.5h-5.2z"/><path fill="#4b2d78" d="M211.3 447.6h5.2v4.5h-5.2z"/><path fill="#3ab479" d="M201.4 456.2h5.2v4.5h-5.2z"/><path fill="#3ab479" d="M206.4 456.2h5.2v4.5h-5.2z"/><path fill="#480957" d="M176.9 460.5h5.2v4.5h-5.2zM176.9 486.3h5.2v4.5h-5.2z"/><path fill="#28a684" d="M181.8 460.5h5.2v4.5h-5.2z"/><path fill="#3ab479" d="M196.5 460.5h5.2v4.5h-5.2z"/><path fill="#49377e" d="M176.9 464.8h5.2v4.5h-5.2z"/><path fill="#2b828d" d="M196.5 464.8h5.2v4.5h-5.2z"/><path fill="#36698d" d="M167.1 473.4h5.2v4.5h-5.2zM186.7 473.4h5.2v4.5h-5.2z"/><path fill="#36698d" d="M181.8 473.4h5.2v4.5h-5.2z"/><path fill="#259c88" d="M162.1 477.7h5.2v4.5h-5.2z"/><path fill="#483d83" d="M167.1 477.7h5.2v4.5h-5.2z"/><path fill="#3ab479" d="M181.8 477.7h5.2v4.5h-5.2z"/><path fill="#480957" d="M157.2 482h5.2v4.5h-5.2z"/><path fill="#454887" d="M162.1 482h5.2v4.5h-5.2z"/><path fill="#259c88" d="M176.9 482h5.2v4.5h-5.2z"/><path fill="#3f558a" d="M147.4 490.5h5.2v4.5h-5.2z"/><path fill="#31738d" d="M147.4 494.8h5.2v4.5h-5.2z"/><path fill="#3f558a" d="M162.1 494.8h5.2v4.5h-5.2z"/><path fill="#3f558a" d="M167.1 494.8h5.2v4.5h-5.2z"/><path fill="#454887" d="M157.2 499.1h5.2v4.5h-5.2z"/><path fill="#27908b" d="M162.1 499.1h5.2v4.5h-5.2z"/></g>
<rect x="147.40" y="408.40" width="108.10" height="107.30" fill="none" stroke="#4a4a4a" stroke-width="0.8"/>
<text transform="translate(156.90 527.60) scale(0.945 1)" font-size="10.0" text-anchor="middle" fill="#111">−50</text>
<text transform="translate(189.60 527.60) scale(0.945 1)" font-size="10.0" text-anchor="middle" fill="#111">−25</text>
<text transform="translate(222.60 527.60) scale(0.945 1)" font-size="10.0" text-anchor="middle" fill="#111">0</text>
<text transform="translate(255.50 527.60) scale(0.945 1)" font-size="10.0" text-anchor="middle" fill="#111">25</text>
<text transform="translate(143.20 412.00) scale(0.945 1)" font-size="10.0" text-anchor="end" fill="#111">25</text>
<text transform="translate(143.20 444.70) scale(0.945 1)" font-size="10.0" text-anchor="end" fill="#111">0</text>
<text transform="translate(143.20 477.70) scale(0.945 1)" font-size="10.0" text-anchor="end" fill="#111">−25</text>
<text transform="translate(143.20 510.40) scale(0.945 1)" font-size="10.0" text-anchor="end" fill="#111">−50</text>
<path d="M156.90 515.70v2.6M189.60 515.70v2.6M222.60 515.70v2.6M255.50 515.70v2.6M147.40 408.40h-2.6M147.40 441.10h-2.6M147.40 474.10h-2.6M147.40 506.80h-2.6" stroke="#4a4a4a" stroke-width="0.7" fill="none"/>
<text x="201.45" y="405.00" font-size="8.4" text-anchor="middle" fill="#111"><tspan font-size="8">∆</tspan><tspan font-weight="bold">MW</tspan></text>
<rect x="262.30" y="408.40" width="6.10" height="107.30" fill="url(#gvv)" stroke="#333" stroke-width="0.5"/>
<text transform="translate(272.60 519.80) scale(0.945 1)" font-size="10.0" text-anchor="start" fill="#111">10<tspan dy="-4.3" font-size="7.2">0</tspan></text>
<text transform="translate(272.60 491.50) scale(0.945 1)" font-size="10.0" text-anchor="start" fill="#111">10<tspan dy="-4.3" font-size="7.2">1</tspan></text>
<text transform="translate(272.60 462.00) scale(0.945 1)" font-size="10.0" text-anchor="start" fill="#111">10<tspan dy="-4.3" font-size="7.2">2</tspan></text>
<text transform="translate(272.60 432.80) scale(0.945 1)" font-size="10.0" text-anchor="start" fill="#111">10<tspan dy="-4.3" font-size="7.2">3</tspan></text>
<path d="M268.40 515.60h2.6M268.40 487.30h2.6M268.40 457.80h2.6M268.40 428.60h2.6M268.40 506.81h1.5M268.40 501.67h1.5M268.40 498.02h1.5M268.40 495.19h1.5M268.40 492.88h1.5M268.40 490.92h1.5M268.40 489.23h1.5M268.40 487.74h1.5M268.40 477.61h1.5M268.40 472.47h1.5M268.40 468.82h1.5M268.40 465.99h1.5M268.40 463.68h1.5M268.40 461.72h1.5M268.40 460.03h1.5M268.40 458.54h1.5M268.40 448.41h1.5M268.40 443.27h1.5M268.40 439.62h1.5M268.40 436.79h1.5M268.40 434.48h1.5M268.40 432.52h1.5M268.40 430.83h1.5M268.40 429.34h1.5M268.40 419.21h1.5M268.40 414.07h1.5M268.40 410.42h1.5" stroke="#4a4a4a" stroke-width="0.6" fill="none"/>
<g shape-rendering="crispEdges"><path fill="#480957" d="M363.2 421.8h13.7v13.6h-13.7z"/><path fill="#60c564" d="M376.8 421.8h13.7v13.6h-13.7z"/><path fill="#41b875" d="M390.3 421.8h13.7v13.6h-13.7z"/><path fill="#2f788d" d="M403.9 421.8h13.7v13.6h-13.7z"/><path fill="#4a327b" d="M349.7 435.2h13.7v13.6h-13.7z"/><path fill="#b2d830" d="M363.2 435.2h13.7v13.6h-13.7z"/><path fill="#bed929" d="M376.8 435.2h13.7v13.6h-13.7z"/><path fill="#41b875" d="M390.3 435.2h13.7v13.6h-13.7z"/><path fill="#483d83" d="M403.9 435.2h13.7v13.6h-13.7z"/><path fill="#483d83" d="M336.2 448.6h13.7v13.6h-13.7z"/><path fill="#cbdb22" d="M349.7 448.6h13.7v13.6h-13.7z"/><path fill="#eadf23" d="M363.2 448.6h13.7v13.6h-13.7z"/><path fill="#86d04c" d="M376.8 448.6h13.7v13.6h-13.7z"/><path fill="#2b828d" d="M390.3 448.6h13.7v13.6h-13.7z"/><path fill="#d3dc1f" d="M336.2 462.1h13.7v13.6h-13.7z"/><path fill="#efe026" d="M349.7 462.1h13.7v13.6h-13.7z"/><path fill="#a3d63a" d="M363.2 462.1h13.7v13.6h-13.7z"/><path fill="#259c88" d="M376.8 462.1h13.7v13.6h-13.7z"/><path fill="#c4da26" d="M322.6 475.5h13.7v13.6h-13.7z"/><path fill="#cbdb22" d="M336.2 475.5h13.7v13.6h-13.7z"/><path fill="#6fc95a" d="M349.7 475.5h13.7v13.6h-13.7z"/><path fill="#27908b" d="M363.2 475.5h13.7v13.6h-13.7z"/><path fill="#480957" d="M376.8 475.5h13.7v13.6h-13.7z"/><path fill="#ede024" d="M309.1 488.9h13.7v13.6h-13.7z"/><path fill="#c4da26" d="M322.6 488.9h13.7v13.6h-13.7z"/><path fill="#3ab479" d="M336.2 488.9h13.7v13.6h-13.7z"/><path fill="#36698d" d="M349.7 488.9h13.7v13.6h-13.7z"/><path fill="#480957" d="M363.2 488.9h13.7v13.6h-13.7z"/></g>
<rect x="309.10" y="408.40" width="108.30" height="107.30" fill="none" stroke="#4a4a4a" stroke-width="0.8"/>
<text transform="translate(315.87 527.60) scale(0.945 1)" font-size="10.0" text-anchor="middle" fill="#111">−3</text>
<text transform="translate(329.41 527.60) scale(0.945 1)" font-size="10.0" text-anchor="middle" fill="#111">−2</text>
<text transform="translate(342.94 527.60) scale(0.945 1)" font-size="10.0" text-anchor="middle" fill="#111">−1</text>
<text transform="translate(356.48 527.60) scale(0.945 1)" font-size="10.0" text-anchor="middle" fill="#111">0</text>
<text transform="translate(370.02 527.60) scale(0.945 1)" font-size="10.0" text-anchor="middle" fill="#111">1</text>
<text transform="translate(383.56 527.60) scale(0.945 1)" font-size="10.0" text-anchor="middle" fill="#111">2</text>
<text transform="translate(397.09 527.60) scale(0.945 1)" font-size="10.0" text-anchor="middle" fill="#111">3</text>
<text transform="translate(410.63 527.60) scale(0.945 1)" font-size="10.0" text-anchor="middle" fill="#111">4</text>
<text transform="translate(304.90 512.59) scale(0.945 1)" font-size="10.0" text-anchor="end" fill="#111">−3</text>
<text transform="translate(304.90 499.18) scale(0.945 1)" font-size="10.0" text-anchor="end" fill="#111">−2</text>
<text transform="translate(304.90 485.77) scale(0.945 1)" font-size="10.0" text-anchor="end" fill="#111">−1</text>
<text transform="translate(304.90 472.36) scale(0.945 1)" font-size="10.0" text-anchor="end" fill="#111">0</text>
<text transform="translate(304.90 458.94) scale(0.945 1)" font-size="10.0" text-anchor="end" fill="#111">1</text>
<text transform="translate(304.90 445.53) scale(0.945 1)" font-size="10.0" text-anchor="end" fill="#111">2</text>
<text transform="translate(304.90 432.12) scale(0.945 1)" font-size="10.0" text-anchor="end" fill="#111">3</text>
<text transform="translate(304.90 418.71) scale(0.945 1)" font-size="10.0" text-anchor="end" fill="#111">4</text>
<path d="M315.87 515.70v2.6M329.41 515.70v2.6M342.94 515.70v2.6M356.48 515.70v2.6M370.02 515.70v2.6M383.56 515.70v2.6M397.09 515.70v2.6M410.63 515.70v2.6M309.10 508.99h-2.6M309.10 495.58h-2.6M309.10 482.17h-2.6M309.10 468.76h-2.6M309.10 455.34h-2.6M309.10 441.93h-2.6M309.10 428.52h-2.6M309.10 415.11h-2.6" stroke="#4a4a4a" stroke-width="0.7" fill="none"/>
<text x="363.25" y="405.00" font-size="8.4" text-anchor="middle" fill="#111"><tspan font-size="8">∆</tspan><tspan font-weight="bold">ROTB</tspan></text>
<rect x="423.90" y="408.40" width="6.40" height="107.30" fill="url(#gvv)" stroke="#333" stroke-width="0.5"/>
<text transform="translate(434.50 519.80) scale(0.945 1)" font-size="10.0" text-anchor="start" fill="#111">10<tspan dy="-4.3" font-size="7.2">0</tspan></text>
<text transform="translate(434.50 486.80) scale(0.945 1)" font-size="10.0" text-anchor="start" fill="#111">10<tspan dy="-4.3" font-size="7.2">1</tspan></text>
<text transform="translate(434.50 454.10) scale(0.945 1)" font-size="10.0" text-anchor="start" fill="#111">10<tspan dy="-4.3" font-size="7.2">2</tspan></text>
<text transform="translate(434.50 421.40) scale(0.945 1)" font-size="10.0" text-anchor="start" fill="#111">10<tspan dy="-4.3" font-size="7.2">3</tspan></text>
<path d="M430.30 515.60h2.6M430.30 482.60h2.6M430.30 449.90h2.6M430.30 417.20h2.6M430.30 505.73h1.5M430.30 499.95h1.5M430.30 495.85h1.5M430.30 492.67h1.5M430.30 490.08h1.5M430.30 487.88h1.5M430.30 485.98h1.5M430.30 484.30h1.5M430.30 472.93h1.5M430.30 467.15h1.5M430.30 463.05h1.5M430.30 459.87h1.5M430.30 457.28h1.5M430.30 455.08h1.5M430.30 453.18h1.5M430.30 451.50h1.5M430.30 440.13h1.5M430.30 434.35h1.5M430.30 430.25h1.5M430.30 427.07h1.5M430.30 424.48h1.5M430.30 422.28h1.5M430.30 420.38h1.5M430.30 418.70h1.5" stroke="#4a4a4a" stroke-width="0.6" fill="none"/>
<g><path fill="#491f6c" d="M472.5 512.1h3.9v3.8h-3.9z"/><path fill="#4b2d78" d="M476.1 508.5h3.9v3.8h-3.9z"/><path fill="#454887" d="M486.9 497.8h3.9v3.8h-3.9z"/><path fill="#259c88" d="M490.6 494.2h3.9v3.8h-3.9z"/><path fill="#36698d" d="M497.8 487.1h3.9v3.8h-3.9zM548.3 437h3.9v3.8h-3.9z"/><path fill="#3a618c" d="M501.4 483.5h3.9v3.8h-3.9z"/><path fill="#94d344" d="M505 479.9h3.9v3.8h-3.9z"/><path fill="#2f788d" d="M508.6 476.4h3.9v3.8h-3.9z"/><path fill="#48bb71" d="M512.2 472.8h3.9v3.8h-3.9z"/><path fill="#4a327b" d="M515.8 469.2h3.9v3.8h-3.9z"/><path fill="#f6e12a" d="M519.4 465.6h3.9v3.8h-3.9z"/><path fill="#94d344" d="M523 462.1h3.9v3.8h-3.9z"/><path fill="#27908b" d="M526.6 458.5h3.9v3.8h-3.9zM577.2 408.4h3.9v3.8h-3.9z"/><path fill="#3ab479" d="M530.3 454.9h3.9v3.8h-3.9z"/><path fill="#b2d830" d="M533.9 451.3h3.9v3.8h-3.9z"/><path fill="#f6e12a" d="M537.5 447.7h3.9v3.8h-3.9z"/><path fill="#60c564" d="M541.1 444.2h3.9v3.8h-3.9zM562.8 422.7h3.9v3.8h-3.9z"/><path fill="#60c564" d="M544.7 440.6h3.9v3.8h-3.9z"/><path fill="#6fc95a" d="M551.9 433.4h3.9v3.8h-3.9z"/><path fill="#c4da26" d="M555.5 429.9h3.9v3.8h-3.9z"/><path fill="#480957" d="M559.1 426.3h3.9v3.8h-3.9z"/><path fill="#424c88" d="M566.4 419.1h3.9v3.8h-3.9z"/><path fill="#4a327b" d="M570 415.6h3.9v3.8h-3.9z"/><path fill="#259c88" d="M573.6 412h3.9v3.8h-3.9z"/></g>
<rect x="472.50" y="408.40" width="108.30" height="107.30" fill="none" stroke="#4a4a4a" stroke-width="0.8"/>
<text transform="translate(487.34 527.60) scale(0.945 1)" font-size="10.0" text-anchor="middle" fill="#111">−20</text>
<text transform="translate(503.62 527.60) scale(0.945 1)" font-size="10.0" text-anchor="middle" fill="#111">−10</text>
<text transform="translate(519.90 527.60) scale(0.945 1)" font-size="10.0" text-anchor="middle" fill="#111">0</text>
<text transform="translate(536.18 527.60) scale(0.945 1)" font-size="10.0" text-anchor="middle" fill="#111">10</text>
<text transform="translate(552.46 527.60) scale(0.945 1)" font-size="10.0" text-anchor="middle" fill="#111">20</text>
<text transform="translate(568.74 527.60) scale(0.945 1)" font-size="10.0" text-anchor="middle" fill="#111">30</text>
<text transform="translate(468.30 505.00) scale(0.945 1)" font-size="10.0" text-anchor="end" fill="#111">−20</text>
<text transform="translate(468.30 488.80) scale(0.945 1)" font-size="10.0" text-anchor="end" fill="#111">−10</text>
<text transform="translate(468.30 472.60) scale(0.945 1)" font-size="10.0" text-anchor="end" fill="#111">0</text>
<text transform="translate(468.30 456.40) scale(0.945 1)" font-size="10.0" text-anchor="end" fill="#111">10</text>
<text transform="translate(468.30 440.20) scale(0.945 1)" font-size="10.0" text-anchor="end" fill="#111">20</text>
<text transform="translate(468.30 424.00) scale(0.945 1)" font-size="10.0" text-anchor="end" fill="#111">30</text>
<path d="M487.34 515.70v2.6M503.62 515.70v2.6M519.90 515.70v2.6M536.18 515.70v2.6M552.46 515.70v2.6M568.74 515.70v2.6M472.50 501.40h-2.6M472.50 485.20h-2.6M472.50 469.00h-2.6M472.50 452.80h-2.6M472.50 436.60h-2.6M472.50 420.40h-2.6" stroke="#4a4a4a" stroke-width="0.7" fill="none"/>
<text x="526.65" y="405.00" font-size="8.4" text-anchor="middle" fill="#111"><tspan font-size="8">∆</tspan><tspan font-weight="bold">PSA</tspan></text>
<rect x="587.70" y="408.40" width="6.10" height="107.30" fill="url(#gvv)" stroke="#333" stroke-width="0.5"/>
<text transform="translate(598.00 494.10) scale(0.945 1)" font-size="10.0" text-anchor="start" fill="#111">10<tspan dy="-4.3" font-size="7.2">2</tspan></text>
<text transform="translate(598.00 428.40) scale(0.945 1)" font-size="10.0" text-anchor="start" fill="#111">10<tspan dy="-4.3" font-size="7.2">3</tspan></text>
<path d="M593.80 489.90h2.6M593.80 424.20h2.6M593.80 509.68h1.5M593.80 504.48h1.5M593.80 500.08h1.5M593.80 496.27h1.5M593.80 492.91h1.5M593.80 470.12h1.5M593.80 458.55h1.5M593.80 450.34h1.5M593.80 443.98h1.5M593.80 438.78h1.5M593.80 434.38h1.5M593.80 430.57h1.5M593.80 427.21h1.5" stroke="#4a4a4a" stroke-width="0.6" fill="none"/>
<g><path fill="#483d83" d="M224 543.4h3.3v5.6h-3.3z"/><path fill="#27908b" d="M227 543.4h3.3v5.6h-3.3z"/><path fill="#60c564" d="M230 543.4h3.3v5.6h-3.3z"/><path fill="#7acc54" d="M233 543.4h3.3v5.6h-3.3z"/><path fill="#f6e12a" d="M236 543.4h3.3v5.6h-3.3z"/><path fill="#eadf23" d="M233 559.5h3.3v5.6h-3.3z"/><path fill="#48bb71" d="M227 564.8h3.3v5.6h-3.3z"/><path fill="#48bb71" d="M230 564.8h3.3v5.6h-3.3z"/><path fill="#2b828d" d="M224 575.6h3.3v5.6h-3.3zM218 618.4h3.3v5.6h-3.3z"/><path fill="#454887" d="M227 575.6h3.3v5.6h-3.3z"/><path fill="#94d344" d="M230 586.3h3.3v5.6h-3.3z"/><path fill="#259c88" d="M221 591.6h3.3v5.6h-3.3zM227 591.6h3.3v5.6h-3.3z"/><path fill="#60c564" d="M224 602.4h3.3v5.6h-3.3z"/><path fill="#36698d" d="M218 613.1h3.3v5.6h-3.3z"/><path fill="#483d83" d="M221 613.1h3.3v5.6h-3.3z"/><path fill="#2b828d" d="M221 618.4h3.3v5.6h-3.3z"/><path fill="#36698d" d="M221 623.8h3.3v5.6h-3.3z"/><path fill="#480957" d="M214.9 645.2h3.3v5.6h-3.3z"/><path fill="#454887" d="M218 645.2h3.3v5.6h-3.3z"/></g>
<rect x="148.70" y="543.40" width="108.40" height="107.20" fill="none" stroke="#4a4a4a" stroke-width="0.8"/>
<text transform="translate(148.70 662.50) scale(0.945 1)" font-size="10.0" text-anchor="middle" fill="#111">−0.8</text>
<text transform="translate(170.38 662.50) scale(0.945 1)" font-size="10.0" text-anchor="middle" fill="#111">−0.6</text>
<text transform="translate(192.06 662.50) scale(0.945 1)" font-size="10.0" text-anchor="middle" fill="#111">−0.4</text>
<text transform="translate(213.74 662.50) scale(0.945 1)" font-size="10.0" text-anchor="middle" fill="#111">−0.2</text>
<text transform="translate(235.42 662.50) scale(0.945 1)" font-size="10.0" text-anchor="middle" fill="#111">0.0</text>
<text transform="translate(257.10 662.50) scale(0.945 1)" font-size="10.0" text-anchor="middle" fill="#111">0.2</text>
<text transform="translate(144.50 654.20) scale(0.945 1)" font-size="10.0" text-anchor="end" fill="#111">−0.8</text>
<text transform="translate(144.50 632.76) scale(0.945 1)" font-size="10.0" text-anchor="end" fill="#111">−0.6</text>
<text transform="translate(144.50 611.32) scale(0.945 1)" font-size="10.0" text-anchor="end" fill="#111">−0.4</text>
<text transform="translate(144.50 589.88) scale(0.945 1)" font-size="10.0" text-anchor="end" fill="#111">−0.2</text>
<text transform="translate(144.50 568.44) scale(0.945 1)" font-size="10.0" text-anchor="end" fill="#111">0.0</text>
<text transform="translate(144.50 547.00) scale(0.945 1)" font-size="10.0" text-anchor="end" fill="#111">0.2</text>
<path d="M148.70 650.60v2.6M170.38 650.60v2.6M192.06 650.60v2.6M213.74 650.60v2.6M235.42 650.60v2.6M257.10 650.60v2.6M148.70 650.60h-2.6M148.70 629.16h-2.6M148.70 607.72h-2.6M148.70 586.28h-2.6M148.70 564.84h-2.6M148.70 543.40h-2.6" stroke="#4a4a4a" stroke-width="0.7" fill="none"/>
<text x="202.90" y="540.00" font-size="8.4" text-anchor="middle" fill="#111"><tspan font-size="8">∆</tspan><tspan font-weight="bold">FSP3</tspan></text>
<rect x="263.40" y="543.40" width="6.50" height="107.20" fill="url(#gvv)" stroke="#333" stroke-width="0.5"/>
<text transform="translate(274.10 633.20) scale(0.945 1)" font-size="10.0" text-anchor="start" fill="#111">10<tspan dy="-4.3" font-size="7.2">1</tspan></text>
<text transform="translate(274.10 602.20) scale(0.945 1)" font-size="10.0" text-anchor="start" fill="#111">10<tspan dy="-4.3" font-size="7.2">2</tspan></text>
<text transform="translate(274.10 571.00) scale(0.945 1)" font-size="10.0" text-anchor="start" fill="#111">10<tspan dy="-4.3" font-size="7.2">3</tspan></text>
<path d="M269.90 629.00h2.6M269.90 598.00h2.6M269.90 566.80h2.6M269.90 645.26h1.5M269.90 641.38h1.5M269.90 638.36h1.5M269.90 635.90h1.5M269.90 633.82h1.5M269.90 632.01h1.5M269.90 630.42h1.5M269.90 619.64h1.5M269.90 614.16h1.5M269.90 610.28h1.5M269.90 607.26h1.5M269.90 604.80h1.5M269.90 602.72h1.5M269.90 600.91h1.5M269.90 599.32h1.5M269.90 588.54h1.5M269.90 583.06h1.5M269.90 579.18h1.5M269.90 576.16h1.5M269.90 573.70h1.5M269.90 571.62h1.5M269.90 569.81h1.5M269.90 568.22h1.5M269.90 557.44h1.5M269.90 551.96h1.5M269.90 548.08h1.5M269.90 545.06h1.5" stroke="#4a4a4a" stroke-width="0.6" fill="none"/>
<g shape-rendering="crispEdges"><path fill="#480957" d="M309.5 630.5h3.5v3.5h-3.5zM329.9 597h3.5v3.5h-3.5zM404.5 543.4h3.5v3.5h-3.5z"/><path fill="#4a236f" d="M312.9 623.8h3.5v3.5h-3.5z"/><path fill="#454887" d="M312.9 627.1h3.5v3.5h-3.5zM374 560.1h3.5v3.5h-3.5zM380.8 587h3.5v3.5h-3.5z"/><path fill="#3a618c" d="M312.9 630.5h3.5v3.5h-3.5zM387.6 556.8h3.5v3.5h-3.5z"/><path fill="#3a618c" d="M312.9 633.9h3.5v3.5h-3.5zM333.3 600.4h3.5v3.5h-3.5zM394.3 553.4h3.5v3.5h-3.5z"/><path fill="#480957" d="M312.9 640.5h3.5v3.5h-3.5zM319.7 640.5h3.5v3.5h-3.5zM326.5 600.4h3.5v3.5h-3.5zM407.9 546.8h3.5v3.5h-3.5z"/><path fill="#4b2a76" d="M316.3 617.1h3.5v3.5h-3.5zM404.5 550.1h3.5v3.5h-3.5z"/><path fill="#474082" d="M316.3 620.5h3.5v3.5h-3.5zM357 573.5h3.5v3.5h-3.5zM397.7 566.9h3.5v3.5h-3.5z"/><path fill="#3a618c" d="M316.3 623.8h3.5v3.5h-3.5zM329.9 603.7h3.5v3.5h-3.5zM363.8 570.2h3.5v3.5h-3.5z"/><path fill="#32738d" d="M316.3 627.1h3.5v3.5h-3.5zM316.3 633.9h3.5v3.5h-3.5z"/><path fill="#32738d" d="M316.3 630.5h3.5v3.5h-3.5zM329.9 630.5h3.5v3.5h-3.5zM343.4 590.3h3.5v3.5h-3.5zM357 576.9h3.5v3.5h-3.5z"/><path fill="#356d8d" d="M316.3 637.2h3.5v3.5h-3.5zM384.2 556.8h3.5v3.5h-3.5zM391 556.8h3.5v3.5h-3.5z"/><path fill="#424e88" d="M316.3 640.5h3.5v3.5h-3.5zM343.4 587h3.5v3.5h-3.5zM350.2 580.2h3.5v3.5h-3.5z"/><path fill="#48397e" d="M319.7 613.8h3.5v3.5h-3.5zM387.6 546.8h3.5v3.5h-3.5zM401.1 566.9h3.5v3.5h-3.5z"/><path fill="#3f5589" d="M319.7 617.1h3.5v3.5h-3.5zM394.3 570.2h3.5v3.5h-3.5z"/><path fill="#356d8d" d="M319.7 620.5h3.5v3.5h-3.5zM326.5 633.9h3.5v3.5h-3.5zM360.4 573.5h3.5v3.5h-3.5z"/><path fill="#2b848c" d="M319.7 623.8h3.5v3.5h-3.5zM319.7 630.5h3.5v3.5h-3.5zM340 597h3.5v3.5h-3.5z"/><path fill="#27908b" d="M319.7 627.1h3.5v3.5h-3.5zM319.7 633.9h3.5v3.5h-3.5z"/><path fill="#37678c" d="M319.7 637.2h3.5v3.5h-3.5zM374 563.5h3.5v3.5h-3.5zM394.3 556.8h3.5v3.5h-3.5z"/><path fill="#4a216e" d="M323.1 607h3.5v3.5h-3.5zM370.6 560.1h3.5v3.5h-3.5zM391 546.8h3.5v3.5h-3.5z"/><path fill="#454887" d="M323.1 610.4h3.5v3.5h-3.5zM377.4 590.3h3.5v3.5h-3.5z"/><path fill="#37678c" d="M323.1 613.8h3.5v3.5h-3.5zM336.6 627.1h3.5v3.5h-3.5zM377.4 560.1h3.5v3.5h-3.5z"/><path fill="#2d7e8d" d="M323.1 617.1h3.5v3.5h-3.5zM377.4 563.5h3.5v3.5h-3.5zM391 570.2h3.5v3.5h-3.5z"/><path fill="#27908b" d="M323.1 620.5h3.5v3.5h-3.5zM323.1 633.9h3.5v3.5h-3.5zM363.8 573.5h3.5v3.5h-3.5zM377.4 566.9h3.5v3.5h-3.5z"/><path fill="#28a684" d="M323.1 623.8h3.5v3.5h-3.5zM377.4 583.6h3.5v3.5h-3.5zM384.2 576.9h3.5v3.5h-3.5z"/><path fill="#28a684" d="M323.1 627.1h3.5v3.5h-3.5zM363.8 600.4h3.5v3.5h-3.5zM384.2 566.9h3.5v3.5h-3.5z"/><path fill="#48bb71" d="M323.1 630.5h3.5v3.5h-3.5zM363.8 597h3.5v3.5h-3.5z"/><path fill="#3f5589" d="M323.1 637.2h3.5v3.5h-3.5zM357 610.4h3.5v3.5h-3.5z"/><path fill="#49317a" d="M326.5 603.7h3.5v3.5h-3.5zM367.2 563.5h3.5v3.5h-3.5zM387.6 550.1h3.5v3.5h-3.5zM401.1 563.5h3.5v3.5h-3.5z"/><path fill="#3f5589" d="M326.5 607h3.5v3.5h-3.5zM360.4 607h3.5v3.5h-3.5zM367.2 566.9h3.5v3.5h-3.5zM387.6 553.4h3.5v3.5h-3.5z"/><path fill="#2d7e8d" d="M326.5 610.4h3.5v3.5h-3.5zM380.8 563.5h3.5v3.5h-3.5z"/><path fill="#298a8b" d="M326.5 613.8h3.5v3.5h-3.5z"/><path fill="#289a88" d="M326.5 617.1h3.5v3.5h-3.5zM326.5 630.5h3.5v3.5h-3.5z"/><path fill="#28a684" d="M326.5 620.5h3.5v3.5h-3.5zM333.3 607h3.5v3.5h-3.5zM353.6 587h3.5v3.5h-3.5zM387.6 566.9h3.5v3.5h-3.5z"/><path fill="#6dc75b" d="M326.5 623.8h3.5v3.5h-3.5zM353.6 590.3h3.5v3.5h-3.5z"/><path fill="#28a086" d="M326.5 627.1h3.5v3.5h-3.5z"/><path fill="#48397e" d="M329.9 600.4h3.5v3.5h-3.5zM404.5 553.4h3.5v3.5h-3.5z"/><path fill="#2f788d" d="M329.9 607h3.5v3.5h-3.5zM343.4 620.5h3.5v3.5h-3.5zM384.2 560.1h3.5v3.5h-3.5zM391 560.1h3.5v3.5h-3.5z"/><path fill="#27908b" d="M329.9 610.4h3.5v3.5h-3.5z"/><path fill="#38b17a" d="M329.9 613.8h3.5v3.5h-3.5zM384.2 573.5h3.5v3.5h-3.5z"/><path fill="#61c462" d="M329.9 617.1h3.5v3.5h-3.5zM336.6 617.1h3.5v3.5h-3.5zM370.6 576.9h3.5v3.5h-3.5zM370.6 590.3h3.5v3.5h-3.5z"/><path fill="#40b676" d="M329.9 620.5h3.5v3.5h-3.5zM357 587h3.5v3.5h-3.5z"/><path fill="#55c069" d="M329.9 623.8h3.5v3.5h-3.5zM350.2 610.4h3.5v3.5h-3.5z"/><path fill="#28a086" d="M329.9 627.1h3.5v3.5h-3.5z"/><path fill="#49317a" d="M329.9 633.9h3.5v3.5h-3.5zM363.8 566.9h3.5v3.5h-3.5z"/><path fill="#49115e" d="M333.3 593.6h3.5v3.5h-3.5zM353.6 573.5h3.5v3.5h-3.5z"/><path fill="#474082" d="M333.3 597h3.5v3.5h-3.5zM333.3 630.5h3.5v3.5h-3.5zM360.4 570.2h3.5v3.5h-3.5zM394.3 550.1h3.5v3.5h-3.5z"/><path fill="#32738d" d="M333.3 603.7h3.5v3.5h-3.5zM380.8 583.6h3.5v3.5h-3.5z"/><path fill="#28a684" d="M333.3 610.4h3.5v3.5h-3.5zM360.4 603.7h3.5v3.5h-3.5zM374 570.2h3.5v3.5h-3.5zM387.6 570.2h3.5v3.5h-3.5z"/><path fill="#6dc75b" d="M333.3 613.8h3.5v3.5h-3.5zM367.2 593.6h3.5v3.5h-3.5z"/><path fill="#8acf49" d="M333.3 617.1h3.5v3.5h-3.5zM346.8 610.4h3.5v3.5h-3.5zM353.6 603.7h3.5v3.5h-3.5zM374 583.6h3.5v3.5h-3.5z"/><path fill="#30ab7f" d="M333.3 620.5h3.5v3.5h-3.5zM340 600.4h3.5v3.5h-3.5zM374 573.5h3.5v3.5h-3.5z"/><path fill="#61c462" d="M333.3 623.8h3.5v3.5h-3.5zM360.4 583.6h3.5v3.5h-3.5zM367.2 590.3h3.5v3.5h-3.5z"/><path fill="#279689" d="M333.3 627.1h3.5v3.5h-3.5zM380.8 566.9h3.5v3.5h-3.5z"/><path fill="#491966" d="M336.6 590.3h3.5v3.5h-3.5zM343.4 583.6h3.5v3.5h-3.5zM350.2 576.9h3.5v3.5h-3.5zM397.7 543.4h3.5v3.5h-3.5z"/><path fill="#454887" d="M336.6 593.6h3.5v3.5h-3.5zM384.2 553.4h3.5v3.5h-3.5z"/><path fill="#2f788d" d="M336.6 597h3.5v3.5h-3.5zM350.2 583.6h3.5v3.5h-3.5z"/><path fill="#279689" d="M336.6 600.4h3.5v3.5h-3.5zM343.4 593.6h3.5v3.5h-3.5zM350.2 587h3.5v3.5h-3.5zM350.2 613.8h3.5v3.5h-3.5zM357 580.2h3.5v3.5h-3.5zM357 607h3.5v3.5h-3.5zM391 566.9h3.5v3.5h-3.5z"/><path fill="#40b676" d="M336.6 603.7h3.5v3.5h-3.5zM343.4 617.1h3.5v3.5h-3.5z"/><path fill="#48bb71" d="M336.6 607h3.5v3.5h-3.5z"/><path fill="#8acf49" d="M336.6 610.4h3.5v3.5h-3.5zM377.4 576.9h3.5v3.5h-3.5z"/><path fill="#7acc54" d="M336.6 613.8h3.5v3.5h-3.5z"/><path fill="#8acf49" d="M336.6 620.5h3.5v3.5h-3.5zM370.6 580.2h3.5v3.5h-3.5z"/><path fill="#38b17a" d="M336.6 623.8h3.5v3.5h-3.5zM343.4 597h3.5v3.5h-3.5z"/><path fill="#491966" d="M340 587h3.5v3.5h-3.5z"/><path fill="#454887" d="M340 590.3h3.5v3.5h-3.5zM346.8 583.6h3.5v3.5h-3.5zM401.1 556.8h3.5v3.5h-3.5z"/><path fill="#32738d" d="M340 593.6h3.5v3.5h-3.5zM353.6 580.2h3.5v3.5h-3.5zM380.8 560.1h3.5v3.5h-3.5z"/><path fill="#7acc54" d="M340 603.7h3.5v3.5h-3.5zM360.4 597h3.5v3.5h-3.5z"/><path fill="#7acc54" d="M340 607h3.5v3.5h-3.5zM367.2 580.2h3.5v3.5h-3.5z"/><path fill="#99d340" d="M340 610.4h3.5v3.5h-3.5zM353.6 597h3.5v3.5h-3.5z"/><path fill="#e6df2a" d="M340 613.8h3.5v3.5h-3.5zM353.6 600.4h3.5v3.5h-3.5z"/><path fill="#55c069" d="M340 617.1h3.5v3.5h-3.5zM346.8 597h3.5v3.5h-3.5z"/><path fill="#40b676" d="M340 620.5h3.5v3.5h-3.5zM360.4 580.2h3.5v3.5h-3.5z"/><path fill="#356d8d" d="M340 623.8h3.5v3.5h-3.5z"/><path fill="#61c462" d="M343.4 600.4h3.5v3.5h-3.5zM377.4 580.2h3.5v3.5h-3.5z"/><path fill="#7acc54" d="M343.4 603.7h3.5v3.5h-3.5z"/><path fill="#e6df2a" d="M343.4 607h3.5v3.5h-3.5zM350.2 600.4h3.5v3.5h-3.5zM357 593.6h3.5v3.5h-3.5z"/><path fill="#a9d636" d="M343.4 610.4h3.5v3.5h-3.5zM357 590.3h3.5v3.5h-3.5zM357 603.7h3.5v3.5h-3.5zM363.8 583.6h3.5v3.5h-3.5zM363.8 590.3h3.5v3.5h-3.5z"/><path fill="#b9d92b" d="M343.4 613.8h3.5v3.5h-3.5zM357 600.4h3.5v3.5h-3.5z"/><path fill="#4a216e" d="M343.4 623.8h3.5v3.5h-3.5zM384.2 550.1h3.5v3.5h-3.5zM391 576.9h3.5v3.5h-3.5z"/><path fill="#2d7e8d" d="M346.8 587h3.5v3.5h-3.5zM387.6 560.1h3.5v3.5h-3.5z"/><path fill="#28a086" d="M346.8 590.3h3.5v3.5h-3.5zM353.6 610.4h3.5v3.5h-3.5z"/><path fill="#48bb71" d="M346.8 593.6h3.5v3.5h-3.5zM360.4 600.4h3.5v3.5h-3.5zM374 587h3.5v3.5h-3.5z"/><path fill="#b9d92b" d="M346.8 600.4h3.5v3.5h-3.5zM374 580.2h3.5v3.5h-3.5z"/><path fill="#b9d92b" d="M346.8 603.7h3.5v3.5h-3.5z"/><path fill="#c8db2b" d="M346.8 607h3.5v3.5h-3.5z"/><path fill="#61c462" d="M346.8 613.8h3.5v3.5h-3.5zM353.6 607h3.5v3.5h-3.5zM360.4 587h3.5v3.5h-3.5z"/><path fill="#298a8b" d="M346.8 617.1h3.5v3.5h-3.5zM367.2 597h3.5v3.5h-3.5zM374 590.3h3.5v3.5h-3.5zM387.6 563.5h3.5v3.5h-3.5z"/><path fill="#49317a" d="M346.8 620.5h3.5v3.5h-3.5zM387.6 580.2h3.5v3.5h-3.5zM394.3 546.8h3.5v3.5h-3.5z"/><path fill="#289a88" d="M350.2 590.3h3.5v3.5h-3.5zM391 563.5h3.5v3.5h-3.5z"/><path fill="#99d340" d="M350.2 593.6h3.5v3.5h-3.5zM370.6 587h3.5v3.5h-3.5z"/><path fill="#c8db2b" d="M350.2 597h3.5v3.5h-3.5z"/><path fill="#99d340" d="M350.2 603.7h3.5v3.5h-3.5z"/><path fill="#a9d636" d="M350.2 607h3.5v3.5h-3.5zM363.8 593.6h3.5v3.5h-3.5z"/><path fill="#474082" d="M350.2 617.1h3.5v3.5h-3.5zM391 550.1h3.5v3.5h-3.5zM397.7 550.1h3.5v3.5h-3.5z"/><path fill="#424e88" d="M353.6 576.9h3.5v3.5h-3.5zM380.8 556.8h3.5v3.5h-3.5z"/><path fill="#279689" d="M353.6 583.6h3.5v3.5h-3.5zM360.4 576.9h3.5v3.5h-3.5z"/><path fill="#a9d636" d="M353.6 593.6h3.5v3.5h-3.5zM360.4 593.6h3.5v3.5h-3.5z"/><path fill="#424e88" d="M353.6 613.8h3.5v3.5h-3.5zM367.2 600.4h3.5v3.5h-3.5zM374 593.6h3.5v3.5h-3.5zM401.1 553.4h3.5v3.5h-3.5z"/><path fill="#49115e" d="M357 570.2h3.5v3.5h-3.5z"/><path fill="#28a086" d="M357 583.6h3.5v3.5h-3.5z"/><path fill="#e6df2a" d="M357 597h3.5v3.5h-3.5zM370.6 583.6h3.5v3.5h-3.5z"/><path fill="#d7dd2b" d="M360.4 590.3h3.5v3.5h-3.5z"/><path fill="#30ab7f" d="M363.8 576.9h3.5v3.5h-3.5zM377.4 570.2h3.5v3.5h-3.5zM384.2 570.2h3.5v3.5h-3.5z"/><path fill="#55c069" d="M363.8 580.2h3.5v3.5h-3.5zM377.4 573.5h3.5v3.5h-3.5z"/><path fill="#c8db2b" d="M363.8 587h3.5v3.5h-3.5z"/><path fill="#3c5a8b" d="M363.8 603.7h3.5v3.5h-3.5zM370.6 597h3.5v3.5h-3.5zM397.7 563.5h3.5v3.5h-3.5z"/><path fill="#480957" d="M363.8 607h3.5v3.5h-3.5zM404.5 560.1h3.5v3.5h-3.5zM411.3 546.8h3.5v3.5h-3.5z"/><path fill="#2f788d" d="M367.2 570.2h3.5v3.5h-3.5zM394.3 563.5h3.5v3.5h-3.5z"/><path fill="#289a88" d="M367.2 573.5h3.5v3.5h-3.5zM380.8 580.2h3.5v3.5h-3.5z"/><path fill="#48bb71" d="M367.2 576.9h3.5v3.5h-3.5z"/><path fill="#c8db2b" d="M367.2 583.6h3.5v3.5h-3.5z"/><path fill="#8acf49" d="M367.2 587h3.5v3.5h-3.5z"/><path fill="#424e88" d="M370.6 563.5h3.5v3.5h-3.5z"/><path fill="#356d8d" d="M370.6 566.9h3.5v3.5h-3.5z"/><path fill="#279689" d="M370.6 570.2h3.5v3.5h-3.5zM384.2 563.5h3.5v3.5h-3.5z"/><path fill="#30ab7f" d="M370.6 573.5h3.5v3.5h-3.5z"/><path fill="#298a8b" d="M370.6 593.6h3.5v3.5h-3.5z"/><path fill="#2b848c" d="M374 566.9h3.5v3.5h-3.5zM387.6 573.5h3.5v3.5h-3.5z"/><path fill="#40b676" d="M374 576.9h3.5v3.5h-3.5zM380.8 570.2h3.5v3.5h-3.5zM380.8 576.9h3.5v3.5h-3.5z"/><path fill="#4a236f" d="M377.4 553.4h3.5v3.5h-3.5zM384.2 546.8h3.5v3.5h-3.5z"/><path fill="#48397e" d="M377.4 556.8h3.5v3.5h-3.5zM384.2 583.6h3.5v3.5h-3.5zM391 543.4h3.5v3.5h-3.5zM411.3 543.4h3.5v3.5h-3.5z"/><path fill="#2b848c" d="M377.4 587h3.5v3.5h-3.5zM384.2 580.2h3.5v3.5h-3.5z"/><path fill="#4b2a76" d="M380.8 553.4h3.5v3.5h-3.5zM401.1 546.8h3.5v3.5h-3.5z"/><path fill="#55c069" d="M380.8 573.5h3.5v3.5h-3.5z"/><path fill="#3c5a8b" d="M387.6 576.9h3.5v3.5h-3.5z"/><path fill="#3f5589" d="M391 553.4h3.5v3.5h-3.5zM397.7 553.4h3.5v3.5h-3.5z"/><path fill="#3c5a8b" d="M391 573.5h3.5v3.5h-3.5z"/><path fill="#480957" d="M394.3 543.4h3.5v3.5h-3.5z"/><path fill="#2f788d" d="M394.3 560.1h3.5v3.5h-3.5z"/><path fill="#37678c" d="M394.3 566.9h3.5v3.5h-3.5z"/><path fill="#4b2a76" d="M397.7 546.8h3.5v3.5h-3.5z"/><path fill="#37678c" d="M397.7 556.8h3.5v3.5h-3.5z"/><path fill="#3a618c" d="M397.7 560.1h3.5v3.5h-3.5z"/><path fill="#49115e" d="M401.1 543.4h3.5v3.5h-3.5z"/><path fill="#48397e" d="M401.1 550.1h3.5v3.5h-3.5z"/><path fill="#474082" d="M401.1 560.1h3.5v3.5h-3.5z"/><path fill="#491966" d="M404.5 546.8h3.5v3.5h-3.5z"/><path fill="#49317a" d="M404.5 556.8h3.5v3.5h-3.5z"/><path fill="#491966" d="M407.9 550.1h3.5v3.5h-3.5z"/><path fill="#4a216e" d="M407.9 553.4h3.5v3.5h-3.5z"/></g>
<rect x="309.50" y="543.40" width="108.60" height="107.20" fill="none" stroke="#4a4a4a" stroke-width="0.8"/>
<text transform="translate(326.00 662.50) scale(0.945 1)" font-size="10.0" text-anchor="middle" fill="#111">−2</text>
<text transform="translate(351.30 662.50) scale(0.945 1)" font-size="10.0" text-anchor="middle" fill="#111">−1</text>
<text transform="translate(376.30 662.50) scale(0.945 1)" font-size="10.0" text-anchor="middle" fill="#111">0</text>
<text transform="translate(401.50 662.50) scale(0.945 1)" font-size="10.0" text-anchor="middle" fill="#111">1</text>
<text transform="translate(305.30 563.20) scale(0.945 1)" font-size="10.0" text-anchor="end" fill="#111">1</text>
<text transform="translate(305.30 588.10) scale(0.945 1)" font-size="10.0" text-anchor="end" fill="#111">0</text>
<text transform="translate(305.30 612.80) scale(0.945 1)" font-size="10.0" text-anchor="end" fill="#111">−1</text>
<text transform="translate(305.30 637.60) scale(0.945 1)" font-size="10.0" text-anchor="end" fill="#111">−2</text>
<path d="M326.00 650.60v2.6M351.30 650.60v2.6M376.30 650.60v2.6M401.50 650.60v2.6M309.50 559.60h-2.6M309.50 584.50h-2.6M309.50 609.20h-2.6M309.50 634.00h-2.6" stroke="#4a4a4a" stroke-width="0.7" fill="none"/>
<text x="363.80" y="540.00" font-size="8.4" text-anchor="middle" fill="#111"><tspan font-size="8">∆</tspan><tspan font-weight="bold">LogP</tspan></text>
<rect x="424.50" y="543.40" width="6.10" height="107.20" fill="url(#gvv)" stroke="#333" stroke-width="0.5"/>
<text transform="translate(434.80 654.80) scale(0.945 1)" font-size="10.0" text-anchor="start" fill="#111">10<tspan dy="-4.3" font-size="7.2">0</tspan></text>
<text transform="translate(434.80 613.90) scale(0.945 1)" font-size="10.0" text-anchor="start" fill="#111">10<tspan dy="-4.3" font-size="7.2">1</tspan></text>
<text transform="translate(434.80 571.50) scale(0.945 1)" font-size="10.0" text-anchor="start" fill="#111">10<tspan dy="-4.3" font-size="7.2">2</tspan></text>
<path d="M430.60 650.60h2.6M430.60 609.70h2.6M430.60 567.30h2.6M430.60 637.96h1.5M430.60 630.56h1.5M430.60 625.31h1.5M430.60 621.24h1.5M430.60 617.92h1.5M430.60 615.11h1.5M430.60 612.67h1.5M430.60 610.52h1.5M430.60 595.96h1.5M430.60 588.56h1.5M430.60 583.31h1.5M430.60 579.24h1.5M430.60 575.92h1.5M430.60 573.11h1.5M430.60 570.67h1.5M430.60 568.52h1.5M430.60 553.96h1.5M430.60 546.56h1.5" stroke="#4a4a4a" stroke-width="0.6" fill="none"/>
<g shape-rendering="crispEdges"><path fill="#480957" d="M508.5 568.5h5.2v6h-5.2zM488.4 592h5.2v6h-5.2zM488.4 603.7h5.2v6h-5.2zM558.7 615.4h5.2v6h-5.2z"/><path fill="#454887" d="M528.6 568.5h5.2v6h-5.2zM508.5 580.3h5.2v6h-5.2zM498.5 592h5.2v6h-5.2zM498.5 627.1h5.2v6h-5.2zM518.5 627.1h5.2v6h-5.2z"/><path fill="#27908b" d="M533.6 568.5h5.2v6h-5.2zM543.6 568.5h5.2v6h-5.2zM483.4 615.4h5.2v6h-5.2zM533.6 615.4h5.2v6h-5.2z"/><path fill="#28a684" d="M538.6 568.5h5.2v6h-5.2zM508.5 592h5.2v6h-5.2zM498.5 603.7h5.2v6h-5.2z"/><path fill="#473e82" d="M548.6 568.5h5.2v6h-5.2z"/><path fill="#480957" d="M503.5 574.4h5.2v6h-5.2zM483.4 621.3h5.2v6h-5.2zM533.6 621.3h5.2v6h-5.2zM543.6 621.3h5.2v6h-5.2zM473.4 633h5.2v6h-5.2zM483.4 633h5.2v6h-5.2zM493.4 633h5.2v6h-5.2zM503.5 633h5.2v6h-5.2zM513.5 633h5.2v6h-5.2z"/><path fill="#4b2a76" d="M508.5 574.4h5.2v6h-5.2zM478.4 633h5.2v6h-5.2zM498.5 633h5.2v6h-5.2z"/><path fill="#4b2a76" d="M513.5 574.4h5.2v6h-5.2z"/><path fill="#2f788d" d="M518.5 574.4h5.2v6h-5.2z"/><path fill="#28a684" d="M523.6 574.4h5.2v6h-5.2zM563.7 586.1h5.2v6h-5.2zM563.7 597.8h5.2v6h-5.2z"/><path fill="#7acc54" d="M528.6 574.4h5.2v6h-5.2zM538.6 574.4h5.2v6h-5.2zM518.5 609.5h5.2v6h-5.2z"/><path fill="#7acc54" d="M533.6 574.4h5.2v6h-5.2zM523.6 609.5h5.2v6h-5.2z"/><path fill="#a7d638" d="M543.6 574.4h5.2v6h-5.2zM533.6 597.8h5.2v6h-5.2z"/><path fill="#a7d638" d="M548.6 574.4h5.2v6h-5.2zM528.6 586.1h5.2v6h-5.2zM508.5 597.8h5.2v6h-5.2zM548.6 597.8h5.2v6h-5.2z"/><path fill="#48bb71" d="M553.7 574.4h5.2v6h-5.2z"/><path fill="#473e82" d="M558.7 574.4h5.2v6h-5.2zM538.6 621.3h5.2v6h-5.2z"/><path fill="#454887" d="M503.5 580.3h5.2v6h-5.2zM503.5 627.1h5.2v6h-5.2zM513.5 627.1h5.2v6h-5.2z"/><path fill="#356d8d" d="M513.5 580.3h5.2v6h-5.2z"/><path fill="#289a88" d="M518.5 580.3h5.2v6h-5.2z"/><path fill="#3ab378" d="M523.6 580.3h5.2v6h-5.2z"/><path fill="#b9d92b" d="M528.6 580.3h5.2v6h-5.2z"/><path fill="#d7dd2b" d="M533.6 580.3h5.2v6h-5.2z"/><path fill="#f0e02a" d="M538.6 580.3h5.2v6h-5.2z"/><path fill="#ddde2a" d="M543.6 580.3h5.2v6h-5.2z"/><path fill="#bfda2b" d="M548.6 580.3h5.2v6h-5.2z"/><path fill="#add634" d="M553.7 580.3h5.2v6h-5.2z"/><path fill="#5cc266" d="M558.7 580.3h5.2v6h-5.2zM498.5 615.4h5.2v6h-5.2zM518.5 615.4h5.2v6h-5.2z"/><path fill="#2f788d" d="M563.7 580.3h5.2v6h-5.2zM473.4 627.1h5.2v6h-5.2z"/><path fill="#473e82" d="M513.5 586.1h5.2v6h-5.2zM553.7 609.5h5.2v6h-5.2z"/><path fill="#27908b" d="M518.5 586.1h5.2v6h-5.2zM508.5 609.5h5.2v6h-5.2zM508.5 621.3h5.2v6h-5.2zM518.5 621.3h5.2v6h-5.2z"/><path fill="#41b775" d="M523.6 586.1h5.2v6h-5.2zM513.5 609.5h5.2v6h-5.2z"/><path fill="#bfda2b" d="M533.6 586.1h5.2v6h-5.2z"/><path fill="#d2dc2b" d="M538.6 586.1h5.2v6h-5.2z"/><path fill="#e4df2a" d="M543.6 586.1h5.2v6h-5.2z"/><path fill="#f6e12a" d="M548.6 586.1h5.2v6h-5.2z"/><path fill="#f0e02a" d="M553.7 586.1h5.2v6h-5.2z"/><path fill="#94d244" d="M558.7 586.1h5.2v6h-5.2zM528.6 597.8h5.2v6h-5.2z"/><path fill="#3f5589" d="M568.7 586.1h5.2v6h-5.2z"/><path fill="#480957" d="M483.4 592h5.2v6h-5.2zM493.4 603.7h5.2v6h-5.2zM523.6 627.1h5.2v6h-5.2z"/><path fill="#289d87" d="M503.5 592h5.2v6h-5.2zM553.7 603.7h5.2v6h-5.2zM493.4 627.1h5.2v6h-5.2z"/><path fill="#289f86" d="M513.5 592h5.2v6h-5.2z"/><path fill="#35ae7c" d="M518.5 592h5.2v6h-5.2z"/><path fill="#70c859" d="M523.6 592h5.2v6h-5.2zM563.7 592h5.2v6h-5.2zM533.6 603.7h5.2v6h-5.2zM513.5 615.4h5.2v6h-5.2z"/><path fill="#94d244" d="M528.6 592h5.2v6h-5.2zM508.5 603.7h5.2v6h-5.2z"/><path fill="#a7d638" d="M533.6 592h5.2v6h-5.2z"/><path fill="#a7d638" d="M538.6 592h5.2v6h-5.2zM518.5 603.7h5.2v6h-5.2z"/><path fill="#d2dc2b" d="M543.6 592h5.2v6h-5.2z"/><path fill="#ddde2a" d="M548.6 592h5.2v6h-5.2z"/><path fill="#bfda2b" d="M553.7 592h5.2v6h-5.2z"/><path fill="#a0d43b" d="M558.7 592h5.2v6h-5.2z"/><path fill="#289d87" d="M568.7 592h5.2v6h-5.2z"/><path fill="#483b80" d="M483.4 597.8h5.2v6h-5.2z"/><path fill="#3a618c" d="M488.4 597.8h5.2v6h-5.2zM528.6 621.3h5.2v6h-5.2z"/><path fill="#48397e" d="M493.4 597.8h5.2v6h-5.2z"/><path fill="#289d87" d="M498.5 597.8h5.2v6h-5.2z"/><path fill="#5cc266" d="M503.5 597.8h5.2v6h-5.2z"/><path fill="#b3d82f" d="M513.5 597.8h5.2v6h-5.2z"/><path fill="#b3d82f" d="M518.5 597.8h5.2v6h-5.2zM538.6 597.8h5.2v6h-5.2z"/><path fill="#8dd048" d="M523.6 597.8h5.2v6h-5.2zM543.6 597.8h5.2v6h-5.2z"/><path fill="#87cf4b" d="M553.7 597.8h5.2v6h-5.2z"/><path fill="#70c859" d="M558.7 597.8h5.2v6h-5.2z"/><path fill="#2b848c" d="M568.7 597.8h5.2v6h-5.2zM488.4 609.5h5.2v6h-5.2zM548.6 609.5h5.2v6h-5.2zM498.5 621.3h5.2v6h-5.2z"/><path fill="#4cbd6e" d="M503.5 603.7h5.2v6h-5.2z"/><path fill="#94d244" d="M513.5 603.7h5.2v6h-5.2z"/><path fill="#b3d82f" d="M523.6 603.7h5.2v6h-5.2z"/><path fill="#7acc54" d="M528.6 603.7h5.2v6h-5.2z"/><path fill="#70c859" d="M538.6 603.7h5.2v6h-5.2zM508.5 615.4h5.2v6h-5.2z"/><path fill="#5cc266" d="M543.6 603.7h5.2v6h-5.2zM503.5 615.4h5.2v6h-5.2z"/><path fill="#48bb71" d="M548.6 603.7h5.2v6h-5.2z"/><path fill="#27908b" d="M558.7 603.7h5.2v6h-5.2z"/><path fill="#3a618c" d="M563.7 603.7h5.2v6h-5.2zM483.4 627.1h5.2v6h-5.2z"/><path fill="#4b2a76" d="M568.7 603.7h5.2v6h-5.2zM478.4 615.4h5.2v6h-5.2z"/><path fill="#480957" d="M478.4 609.5h5.2v6h-5.2zM558.7 609.5h5.2v6h-5.2zM488.4 621.3h5.2v6h-5.2zM548.6 621.3h5.2v6h-5.2zM518.5 633h5.2v6h-5.2z"/><path fill="#454887" d="M483.4 609.5h5.2v6h-5.2z"/><path fill="#27908b" d="M493.4 609.5h5.2v6h-5.2zM533.6 609.5h5.2v6h-5.2zM503.5 621.3h5.2v6h-5.2zM513.5 621.3h5.2v6h-5.2z"/><path fill="#356d8d" d="M498.5 609.5h5.2v6h-5.2z"/><path fill="#2f788d" d="M503.5 609.5h5.2v6h-5.2z"/><path fill="#35ae7c" d="M528.6 609.5h5.2v6h-5.2z"/><path fill="#28a684" d="M538.6 609.5h5.2v6h-5.2z"/><path fill="#2b848c" d="M543.6 609.5h5.2v6h-5.2zM493.4 621.3h5.2v6h-5.2zM523.6 621.3h5.2v6h-5.2z"/><path fill="#41b775" d="M488.4 615.4h5.2v6h-5.2z"/><path fill="#28a684" d="M493.4 615.4h5.2v6h-5.2zM523.6 615.4h5.2v6h-5.2z"/><path fill="#3a618c" d="M528.6 615.4h5.2v6h-5.2zM538.6 615.4h5.2v6h-5.2zM478.4 627.1h5.2v6h-5.2z"/><path fill="#4b2a76" d="M543.6 615.4h5.2v6h-5.2z"/><path fill="#2f788d" d="M488.4 627.1h5.2v6h-5.2zM508.5 627.1h5.2v6h-5.2z"/></g>
<rect x="473.40" y="543.40" width="108.20" height="107.20" fill="none" stroke="#4a4a4a" stroke-width="0.8"/>
<text transform="translate(475.50 662.50) scale(0.945 1)" font-size="10.0" text-anchor="middle" fill="#111">−0.4</text>
<text transform="translate(511.10 662.50) scale(0.945 1)" font-size="10.0" text-anchor="middle" fill="#111">−0.2</text>
<text transform="translate(546.70 662.50) scale(0.945 1)" font-size="10.0" text-anchor="middle" fill="#111">0.0</text>
<text transform="translate(581.60 662.50) scale(0.945 1)" font-size="10.0" text-anchor="middle" fill="#111">0.2</text>
<text transform="translate(469.20 547.00) scale(0.945 1)" font-size="10.0" text-anchor="end" fill="#111">0.2</text>
<text transform="translate(469.20 581.90) scale(0.945 1)" font-size="10.0" text-anchor="end" fill="#111">0.0</text>
<text transform="translate(469.20 617.00) scale(0.945 1)" font-size="10.0" text-anchor="end" fill="#111">−0.2</text>
<text transform="translate(469.20 651.90) scale(0.945 1)" font-size="10.0" text-anchor="end" fill="#111">−0.4</text>
<path d="M475.50 650.60v2.6M511.10 650.60v2.6M546.70 650.60v2.6M581.60 650.60v2.6M473.40 543.40h-2.6M473.40 578.30h-2.6M473.40 613.40h-2.6M473.40 648.30h-2.6" stroke="#4a4a4a" stroke-width="0.7" fill="none"/>
<text x="527.50" y="540.00" font-size="8.4" text-anchor="middle" fill="#111"><tspan font-size="8">∆</tspan><tspan font-weight="bold">QED</tspan></text>
<rect x="588.00" y="543.40" width="6.00" height="107.20" fill="url(#gvv)" stroke="#333" stroke-width="0.5"/>
<text transform="translate(598.20 654.80) scale(0.945 1)" font-size="10.0" text-anchor="start" fill="#111">10<tspan dy="-4.3" font-size="7.2">0</tspan></text>
<text transform="translate(598.20 616.20) scale(0.945 1)" font-size="10.0" text-anchor="start" fill="#111">10<tspan dy="-4.3" font-size="7.2">1</tspan></text>
<text transform="translate(598.20 575.00) scale(0.945 1)" font-size="10.0" text-anchor="start" fill="#111">10<tspan dy="-4.3" font-size="7.2">2</tspan></text>
<path d="M594.00 650.60h2.6M594.00 612.00h2.6M594.00 570.80h2.6M594.00 638.47h1.5M594.00 631.37h1.5M594.00 626.34h1.5M594.00 622.43h1.5M594.00 619.24h1.5M594.00 616.54h1.5M594.00 614.21h1.5M594.00 612.14h1.5M594.00 598.17h1.5M594.00 591.07h1.5M594.00 586.04h1.5M594.00 582.13h1.5M594.00 578.94h1.5M594.00 576.24h1.5M594.00 573.91h1.5M594.00 571.84h1.5M594.00 557.87h1.5M594.00 550.77h1.5M594.00 545.74h1.5" stroke="#4a4a4a" stroke-width="0.6" fill="none"/>
</svg></body></html>
